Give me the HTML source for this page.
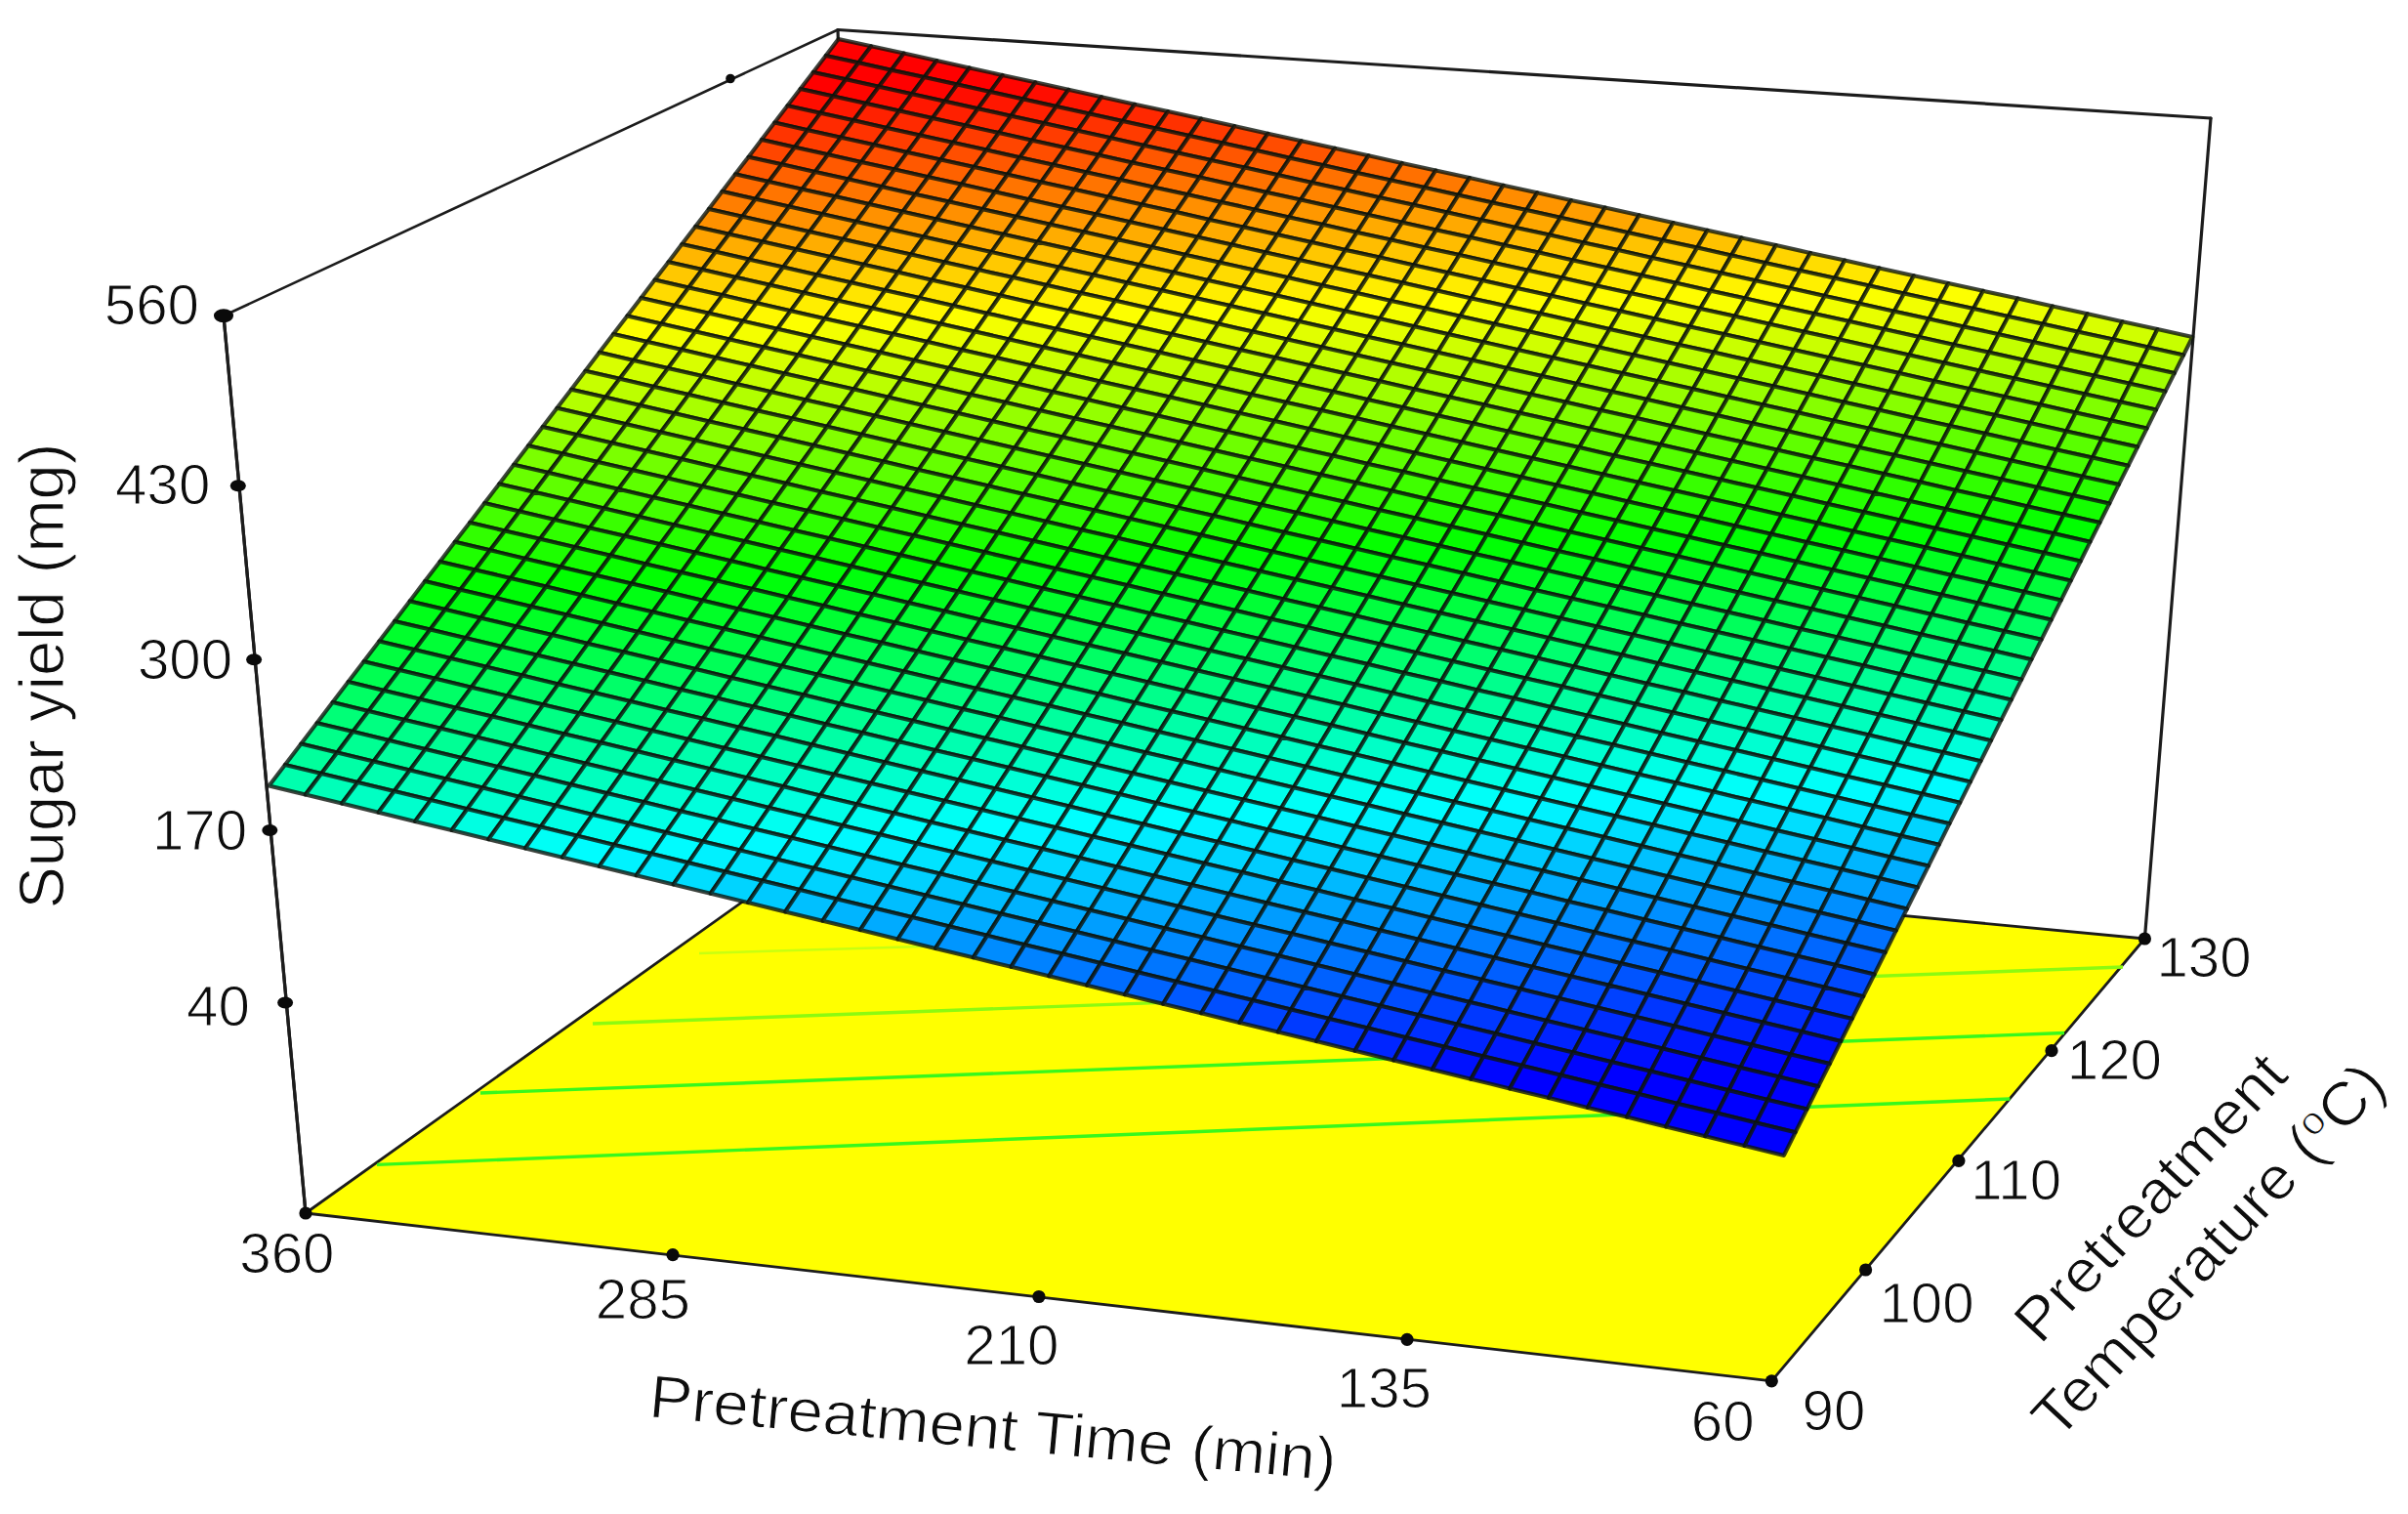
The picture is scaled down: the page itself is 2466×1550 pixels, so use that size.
<!DOCTYPE html>
<html lang="en"><head><meta charset="utf-8"><title>Response surface: Sugar yield</title>
<style>html,body{margin:0;padding:0;background:#fff}body{width:2466px;height:1550px;overflow:hidden}svg{display:block}text{font-family:"Liberation Sans",Arial,Helvetica,sans-serif;fill:#0d0d0d;stroke:#fff;stroke-width:1.1px}</style></head><body>
<svg width="2466" height="1550" viewBox="0 0 2466 1550">
<rect width="2466" height="1550" fill="#fff"/>
<polygon points="313.0,1242.0 1814.3,1413.8 2196.4,961.0 883.2,835.7" fill="#ffff00" stroke="#1c1c1c" stroke-width="2.8" stroke-linejoin="round"/>
<g stroke="#38f81c" stroke-width="3.4" fill="none">
<line x1="386.0" y1="1192.4" x2="2058.4" y2="1125.0"/>
<line x1="492.0" y1="1119.0" x2="2114.0" y2="1057.5"/>
<line x1="607.0" y1="1048.0" x2="2174.0" y2="990.0" stroke="#8cfa10"/>
</g>
<line x1="716" y1="976" x2="1400" y2="955" stroke="#c8ff10" stroke-width="2.5"/>
<g stroke="#1c1c1c" stroke-width="3.2" fill="none" stroke-linecap="round">
<line x1="229.0" y1="323.3" x2="313.0" y2="1242.0"/>
<line x1="229.0" y1="323.3" x2="858.0" y2="30.5" stroke-width="2.6"/>
<line x1="858.0" y1="30.5" x2="2264.0" y2="121.0"/>
<line x1="2264.0" y1="121.0" x2="2196.4" y2="961.0"/>
<line x1="858.0" y1="30.5" x2="883.2" y2="835.7"/>
</g>
<g stroke="#0c140c" stroke-opacity="0.8" stroke-width="4.1" stroke-linejoin="round">
<path fill="#ff0000" d="M845.7 56.9L879.2 64.3L892.1 47.3L858.6 39.9Z"/>
<path fill="#ff0000" d="M879.2 64.3L912.8 71.7L925.6 54.6L892.1 47.3Z"/>
<path fill="#ff0000" d="M912.8 71.7L946.5 79.1L959.2 62.0L925.6 54.6Z"/>
<path fill="#ff0000" d="M946.5 79.1L980.3 86.5L992.8 69.4L959.2 62.0Z"/>
<path fill="#ff0000" d="M980.3 86.5L1014.1 94.0L1026.6 76.9L992.8 69.4Z"/>
<path fill="#ff0400" d="M1014.1 94.0L1047.9 101.5L1060.3 84.3L1026.6 76.9Z"/>
<path fill="#ff0d00" d="M1047.9 101.5L1081.8 108.9L1094.2 91.7L1060.3 84.3Z"/>
<path fill="#ff1600" d="M1081.8 108.9L1115.8 116.4L1128.0 99.2L1094.2 91.7Z"/>
<path fill="#ff1f00" d="M1115.8 116.4L1149.8 123.9L1162.0 106.7L1128.0 99.2Z"/>
<path fill="#ff2800" d="M1149.8 123.9L1183.9 131.5L1196.0 114.1L1162.0 106.7Z"/>
<path fill="#ff3100" d="M1183.9 131.5L1218.1 139.0L1230.1 121.6L1196.0 114.1Z"/>
<path fill="#ff3a00" d="M1218.1 139.0L1252.3 146.5L1264.2 129.1L1230.1 121.6Z"/>
<path fill="#ff4300" d="M1252.3 146.5L1286.6 154.1L1298.4 136.7L1264.2 129.1Z"/>
<path fill="#ff4c00" d="M1286.6 154.1L1321.0 161.7L1332.7 144.2L1298.4 136.7Z"/>
<path fill="#ff5500" d="M1321.0 161.7L1355.4 169.3L1367.0 151.8L1332.7 144.2Z"/>
<path fill="#ff5e00" d="M1355.4 169.3L1389.8 176.9L1401.4 159.3L1367.0 151.8Z"/>
<path fill="#ff6700" d="M1389.8 176.9L1424.4 184.5L1435.8 166.9L1401.4 159.3Z"/>
<path fill="#ff7000" d="M1424.4 184.5L1459.0 192.1L1470.3 174.5L1435.8 166.9Z"/>
<path fill="#ff7900" d="M1459.0 192.1L1493.6 199.7L1504.9 182.1L1470.3 174.5Z"/>
<path fill="#ff8200" d="M1493.6 199.7L1528.3 207.4L1539.5 189.7L1504.9 182.1Z"/>
<path fill="#ff8c00" d="M1528.3 207.4L1563.1 215.1L1574.2 197.3L1539.5 189.7Z"/>
<path fill="#ff9500" d="M1563.1 215.1L1598.0 222.8L1608.9 205.0L1574.2 197.3Z"/>
<path fill="#ff9e00" d="M1598.0 222.8L1632.9 230.5L1643.7 212.6L1608.9 205.0Z"/>
<path fill="#ffa700" d="M1632.9 230.5L1667.8 238.2L1678.6 220.3L1643.7 212.6Z"/>
<path fill="#ffb000" d="M1667.8 238.2L1702.9 245.9L1713.5 228.0L1678.6 220.3Z"/>
<path fill="#ffb900" d="M1702.9 245.9L1738.0 253.6L1748.5 235.7L1713.5 228.0Z"/>
<path fill="#ffc200" d="M1738.0 253.6L1773.1 261.4L1783.6 243.4L1748.5 235.7Z"/>
<path fill="#ffcb00" d="M1773.1 261.4L1808.3 269.2L1818.7 251.1L1783.6 243.4Z"/>
<path fill="#ffd400" d="M1808.3 269.2L1843.6 276.9L1853.9 258.9L1818.7 251.1Z"/>
<path fill="#ffdd00" d="M1843.6 276.9L1879.0 284.7L1889.2 266.6L1853.9 258.9Z"/>
<path fill="#ffe600" d="M1879.0 284.7L1914.4 292.5L1924.5 274.4L1889.2 266.6Z"/>
<path fill="#ffef00" d="M1914.4 292.5L1949.9 300.4L1959.9 282.2L1924.5 274.4Z"/>
<path fill="#fff800" d="M1949.9 300.4L1985.4 308.2L1995.3 290.0L1959.9 282.2Z"/>
<path fill="#fdff00" d="M1985.4 308.2L2021.0 316.1L2030.9 297.8L1995.3 290.0Z"/>
<path fill="#f4ff00" d="M2021.0 316.1L2056.7 323.9L2066.4 305.6L2030.9 297.8Z"/>
<path fill="#ebff00" d="M2056.7 323.9L2092.4 331.8L2102.1 313.5L2066.4 305.6Z"/>
<path fill="#e2ff00" d="M2092.4 331.8L2128.3 339.7L2137.8 321.3L2102.1 313.5Z"/>
<path fill="#d9ff00" d="M2128.3 339.7L2164.1 347.6L2173.6 329.2L2137.8 321.3Z"/>
<path fill="#d0ff00" d="M2164.1 347.6L2200.1 355.6L2209.4 337.1L2173.6 329.2Z"/>
<path fill="#c7ff00" d="M2200.1 355.6L2236.1 363.5L2245.3 345.0L2209.4 337.1Z"/>
<path fill="#ff0000" d="M832.7 73.9L866.3 81.3L879.2 64.3L845.7 56.9Z"/>
<path fill="#ff0000" d="M866.3 81.3L900.0 88.8L912.8 71.7L879.2 64.3Z"/>
<path fill="#ff0000" d="M900.0 88.8L933.8 96.3L946.5 79.1L912.8 71.7Z"/>
<path fill="#ff0400" d="M933.8 96.3L967.6 103.7L980.3 86.5L946.5 79.1Z"/>
<path fill="#ff0d00" d="M967.6 103.7L1001.5 111.2L1014.1 94.0L980.3 86.5Z"/>
<path fill="#ff1700" d="M1001.5 111.2L1035.4 118.7L1047.9 101.5L1014.1 94.0Z"/>
<path fill="#ff2000" d="M1035.4 118.7L1069.4 126.2L1081.8 108.9L1047.9 101.5Z"/>
<path fill="#ff2900" d="M1069.4 126.2L1103.5 133.8L1115.8 116.4L1081.8 108.9Z"/>
<path fill="#ff3200" d="M1103.5 133.8L1137.6 141.3L1149.8 123.9L1115.8 116.4Z"/>
<path fill="#ff3b00" d="M1137.6 141.3L1171.8 148.9L1183.9 131.5L1149.8 123.9Z"/>
<path fill="#ff4400" d="M1171.8 148.9L1206.1 156.4L1218.1 139.0L1183.9 131.5Z"/>
<path fill="#ff4d00" d="M1206.1 156.4L1240.4 164.0L1252.3 146.5L1218.1 139.0Z"/>
<path fill="#ff5600" d="M1240.4 164.0L1274.8 171.6L1286.6 154.1L1252.3 146.5Z"/>
<path fill="#ff5f00" d="M1274.8 171.6L1309.2 179.2L1321.0 161.7L1286.6 154.1Z"/>
<path fill="#ff6800" d="M1309.2 179.2L1343.7 186.9L1355.4 169.3L1321.0 161.7Z"/>
<path fill="#ff7100" d="M1343.7 186.9L1378.2 194.5L1389.8 176.9L1355.4 169.3Z"/>
<path fill="#ff7a00" d="M1378.2 194.5L1412.9 202.2L1424.4 184.5L1389.8 176.9Z"/>
<path fill="#ff8400" d="M1412.9 202.2L1447.6 209.8L1459.0 192.1L1424.4 184.5Z"/>
<path fill="#ff8d00" d="M1447.6 209.8L1482.3 217.5L1493.6 199.7L1459.0 192.1Z"/>
<path fill="#ff9600" d="M1482.3 217.5L1517.1 225.2L1528.3 207.4L1493.6 199.7Z"/>
<path fill="#ff9f00" d="M1517.1 225.2L1552.0 232.9L1563.1 215.1L1528.3 207.4Z"/>
<path fill="#ffa800" d="M1552.0 232.9L1586.9 240.6L1598.0 222.8L1563.1 215.1Z"/>
<path fill="#ffb100" d="M1586.9 240.6L1621.9 248.4L1632.9 230.5L1598.0 222.8Z"/>
<path fill="#ffba00" d="M1621.9 248.4L1657.0 256.1L1667.8 238.2L1632.9 230.5Z"/>
<path fill="#ffc300" d="M1657.0 256.1L1692.1 263.9L1702.9 245.9L1667.8 238.2Z"/>
<path fill="#ffcc00" d="M1692.1 263.9L1727.3 271.7L1738.0 253.6L1702.9 245.9Z"/>
<path fill="#ffd500" d="M1727.3 271.7L1762.6 279.5L1773.1 261.4L1738.0 253.6Z"/>
<path fill="#ffde00" d="M1762.6 279.5L1797.9 287.3L1808.3 269.2L1773.1 261.4Z"/>
<path fill="#ffe700" d="M1797.9 287.3L1833.3 295.1L1843.6 276.9L1808.3 269.2Z"/>
<path fill="#fff000" d="M1833.3 295.1L1868.7 302.9L1879.0 284.7L1843.6 276.9Z"/>
<path fill="#fffa00" d="M1868.7 302.9L1904.2 310.8L1914.4 292.5L1879.0 284.7Z"/>
<path fill="#fbff00" d="M1904.2 310.8L1939.8 318.7L1949.9 300.4L1914.4 292.5Z"/>
<path fill="#f2ff00" d="M1939.8 318.7L1975.4 326.5L1985.4 308.2L1949.9 300.4Z"/>
<path fill="#e9ff00" d="M1975.4 326.5L2011.1 334.4L2021.0 316.1L1985.4 308.2Z"/>
<path fill="#e0ff00" d="M2011.1 334.4L2046.9 342.3L2056.7 323.9L2021.0 316.1Z"/>
<path fill="#d7ff00" d="M2046.9 342.3L2082.8 350.3L2092.4 331.8L2056.7 323.9Z"/>
<path fill="#ceff00" d="M2082.8 350.3L2118.7 358.2L2128.3 339.7L2092.4 331.8Z"/>
<path fill="#c5ff00" d="M2118.7 358.2L2154.6 366.1L2164.1 347.6L2128.3 339.7Z"/>
<path fill="#bcff00" d="M2154.6 366.1L2190.7 374.1L2200.1 355.6L2164.1 347.6Z"/>
<path fill="#b3ff00" d="M2190.7 374.1L2226.8 382.1L2236.1 363.5L2200.1 355.6Z"/>
<path fill="#ff0000" d="M819.6 91.0L853.3 98.5L866.3 81.3L832.7 73.9Z"/>
<path fill="#ff0500" d="M853.3 98.5L887.1 106.0L900.0 88.8L866.3 81.3Z"/>
<path fill="#ff0e00" d="M887.1 106.0L921.0 113.5L933.8 96.3L900.0 88.8Z"/>
<path fill="#ff1700" d="M921.0 113.5L954.9 121.0L967.6 103.7L933.8 96.3Z"/>
<path fill="#ff2000" d="M954.9 121.0L988.8 128.6L1001.5 111.2L967.6 103.7Z"/>
<path fill="#ff2900" d="M988.8 128.6L1022.9 136.1L1035.4 118.7L1001.5 111.2Z"/>
<path fill="#ff3200" d="M1022.9 136.1L1057.0 143.7L1069.4 126.2L1035.4 118.7Z"/>
<path fill="#ff3c00" d="M1057.0 143.7L1091.1 151.2L1103.5 133.8L1069.4 126.2Z"/>
<path fill="#ff4500" d="M1091.1 151.2L1125.3 158.8L1137.6 141.3L1103.5 133.8Z"/>
<path fill="#ff4e00" d="M1125.3 158.8L1159.6 166.4L1171.8 148.9L1137.6 141.3Z"/>
<path fill="#ff5700" d="M1159.6 166.4L1194.0 174.0L1206.1 156.4L1171.8 148.9Z"/>
<path fill="#ff6000" d="M1194.0 174.0L1228.4 181.6L1240.4 164.0L1206.1 156.4Z"/>
<path fill="#ff6900" d="M1228.4 181.6L1262.8 189.3L1274.8 171.6L1240.4 164.0Z"/>
<path fill="#ff7200" d="M1262.8 189.3L1297.4 196.9L1309.2 179.2L1274.8 171.6Z"/>
<path fill="#ff7b00" d="M1297.4 196.9L1331.9 204.6L1343.7 186.9L1309.2 179.2Z"/>
<path fill="#ff8400" d="M1331.9 204.6L1366.6 212.3L1378.2 194.5L1343.7 186.9Z"/>
<path fill="#ff8e00" d="M1366.6 212.3L1401.3 220.0L1412.9 202.2L1378.2 194.5Z"/>
<path fill="#ff9700" d="M1401.3 220.0L1436.1 227.7L1447.6 209.8L1412.9 202.2Z"/>
<path fill="#ffa000" d="M1436.1 227.7L1470.9 235.4L1482.3 217.5L1447.6 209.8Z"/>
<path fill="#ffa900" d="M1470.9 235.4L1505.8 243.1L1517.1 225.2L1482.3 217.5Z"/>
<path fill="#ffb200" d="M1505.8 243.1L1540.8 250.9L1552.0 232.9L1517.1 225.2Z"/>
<path fill="#ffbb00" d="M1540.8 250.9L1575.8 258.6L1586.9 240.6L1552.0 232.9Z"/>
<path fill="#ffc400" d="M1575.8 258.6L1610.9 266.4L1621.9 248.4L1586.9 240.6Z"/>
<path fill="#ffcd00" d="M1610.9 266.4L1646.1 274.2L1657.0 256.1L1621.9 248.4Z"/>
<path fill="#ffd600" d="M1646.1 274.2L1681.3 282.0L1692.1 263.9L1657.0 256.1Z"/>
<path fill="#ffe000" d="M1681.3 282.0L1716.6 289.8L1727.3 271.7L1692.1 263.9Z"/>
<path fill="#ffe900" d="M1716.6 289.8L1751.9 297.7L1762.6 279.5L1727.3 271.7Z"/>
<path fill="#fff200" d="M1751.9 297.7L1787.3 305.5L1797.9 287.3L1762.6 279.5Z"/>
<path fill="#fffb00" d="M1787.3 305.5L1822.8 313.4L1833.3 295.1L1797.9 287.3Z"/>
<path fill="#faff00" d="M1822.8 313.4L1858.4 321.2L1868.7 302.9L1833.3 295.1Z"/>
<path fill="#f1ff00" d="M1858.4 321.2L1894.0 329.1L1904.2 310.8L1868.7 302.9Z"/>
<path fill="#e8ff00" d="M1894.0 329.1L1929.7 337.0L1939.8 318.7L1904.2 310.8Z"/>
<path fill="#dfff00" d="M1929.7 337.0L1965.4 345.0L1975.4 326.5L1939.8 318.7Z"/>
<path fill="#d6ff00" d="M1965.4 345.0L2001.2 352.9L2011.1 334.4L1975.4 326.5Z"/>
<path fill="#ccff00" d="M2001.2 352.9L2037.1 360.8L2046.9 342.3L2011.1 334.4Z"/>
<path fill="#c3ff00" d="M2037.1 360.8L2073.0 368.8L2082.8 350.3L2046.9 342.3Z"/>
<path fill="#baff00" d="M2073.0 368.8L2109.0 376.8L2118.7 358.2L2082.8 350.3Z"/>
<path fill="#b1ff00" d="M2109.0 376.8L2145.1 384.8L2154.6 366.1L2118.7 358.2Z"/>
<path fill="#a8ff00" d="M2145.1 384.8L2181.2 392.8L2190.7 374.1L2154.6 366.1Z"/>
<path fill="#9fff00" d="M2181.2 392.8L2217.4 400.8L2226.8 382.1L2190.7 374.1Z"/>
<path fill="#ff0e00" d="M806.4 108.3L840.2 115.8L853.3 98.5L819.6 91.0Z"/>
<path fill="#ff1800" d="M840.2 115.8L874.1 123.3L887.1 106.0L853.3 98.5Z"/>
<path fill="#ff2100" d="M874.1 123.3L908.1 130.9L921.0 113.5L887.1 106.0Z"/>
<path fill="#ff2a00" d="M908.1 130.9L942.1 138.4L954.9 121.0L921.0 113.5Z"/>
<path fill="#ff3300" d="M942.1 138.4L976.1 146.0L988.8 128.6L954.9 121.0Z"/>
<path fill="#ff3c00" d="M976.1 146.0L1010.2 153.6L1022.9 136.1L988.8 128.6Z"/>
<path fill="#ff4500" d="M1010.2 153.6L1044.4 161.2L1057.0 143.7L1022.9 136.1Z"/>
<path fill="#ff4e00" d="M1044.4 161.2L1078.7 168.8L1091.1 151.2L1057.0 143.7Z"/>
<path fill="#ff5800" d="M1078.7 168.8L1113.0 176.4L1125.3 158.8L1091.1 151.2Z"/>
<path fill="#ff6100" d="M1113.0 176.4L1147.4 184.0L1159.6 166.4L1125.3 158.8Z"/>
<path fill="#ff6a00" d="M1147.4 184.0L1181.8 191.7L1194.0 174.0L1159.6 166.4Z"/>
<path fill="#ff7300" d="M1181.8 191.7L1216.3 199.3L1228.4 181.6L1194.0 174.0Z"/>
<path fill="#ff7c00" d="M1216.3 199.3L1250.8 207.0L1262.8 189.3L1228.4 181.6Z"/>
<path fill="#ff8500" d="M1250.8 207.0L1285.4 214.7L1297.4 196.9L1262.8 189.3Z"/>
<path fill="#ff8e00" d="M1285.4 214.7L1320.1 222.4L1331.9 204.6L1297.4 196.9Z"/>
<path fill="#ff9800" d="M1320.1 222.4L1354.9 230.1L1366.6 212.3L1331.9 204.6Z"/>
<path fill="#ffa100" d="M1354.9 230.1L1389.7 237.9L1401.3 220.0L1366.6 212.3Z"/>
<path fill="#ffaa00" d="M1389.7 237.9L1424.5 245.6L1436.1 227.7L1401.3 220.0Z"/>
<path fill="#ffb300" d="M1424.5 245.6L1459.5 253.4L1470.9 235.4L1436.1 227.7Z"/>
<path fill="#ffbc00" d="M1459.5 253.4L1494.5 261.1L1505.8 243.1L1470.9 235.4Z"/>
<path fill="#ffc500" d="M1494.5 261.1L1529.5 268.9L1540.8 250.9L1505.8 243.1Z"/>
<path fill="#ffce00" d="M1529.5 268.9L1564.7 276.7L1575.8 258.6L1540.8 250.9Z"/>
<path fill="#ffd800" d="M1564.7 276.7L1599.8 284.5L1610.9 266.4L1575.8 258.6Z"/>
<path fill="#ffe100" d="M1599.8 284.5L1635.1 292.4L1646.1 274.2L1610.9 266.4Z"/>
<path fill="#ffea00" d="M1635.1 292.4L1670.4 300.2L1681.3 282.0L1646.1 274.2Z"/>
<path fill="#fff300" d="M1670.4 300.2L1705.8 308.1L1716.6 289.8L1681.3 282.0Z"/>
<path fill="#fffc00" d="M1705.8 308.1L1741.2 315.9L1751.9 297.7L1716.6 289.8Z"/>
<path fill="#f9ff00" d="M1741.2 315.9L1776.8 323.8L1787.3 305.5L1751.9 297.7Z"/>
<path fill="#f0ff00" d="M1776.8 323.8L1812.3 331.7L1822.8 313.4L1787.3 305.5Z"/>
<path fill="#e6ff00" d="M1812.3 331.7L1848.0 339.7L1858.4 321.2L1822.8 313.4Z"/>
<path fill="#ddff00" d="M1848.0 339.7L1883.7 347.6L1894.0 329.1L1858.4 321.2Z"/>
<path fill="#d4ff00" d="M1883.7 347.6L1919.5 355.5L1929.7 337.0L1894.0 329.1Z"/>
<path fill="#cbff00" d="M1919.5 355.5L1955.3 363.5L1965.4 345.0L1929.7 337.0Z"/>
<path fill="#c2ff00" d="M1955.3 363.5L1991.2 371.5L2001.2 352.9L1965.4 345.0Z"/>
<path fill="#b9ff00" d="M1991.2 371.5L2027.2 379.5L2037.1 360.8L2001.2 352.9Z"/>
<path fill="#b0ff00" d="M2027.2 379.5L2063.2 387.5L2073.0 368.8L2037.1 360.8Z"/>
<path fill="#a6ff00" d="M2063.2 387.5L2099.3 395.5L2109.0 376.8L2073.0 368.8Z"/>
<path fill="#9dff00" d="M2099.3 395.5L2135.5 403.5L2145.1 384.8L2109.0 376.8Z"/>
<path fill="#94ff00" d="M2135.5 403.5L2171.7 411.6L2181.2 392.8L2145.1 384.8Z"/>
<path fill="#8bff00" d="M2171.7 411.6L2208.0 419.6L2217.4 400.8L2181.2 392.8Z"/>
<path fill="#ff2100" d="M793.2 125.6L827.1 133.2L840.2 115.8L806.4 108.3Z"/>
<path fill="#ff2a00" d="M827.1 133.2L861.1 140.8L874.1 123.3L840.2 115.8Z"/>
<path fill="#ff3300" d="M861.1 140.8L895.1 148.3L908.1 130.9L874.1 123.3Z"/>
<path fill="#ff3d00" d="M895.1 148.3L929.2 155.9L942.1 138.4L908.1 130.9Z"/>
<path fill="#ff4600" d="M929.2 155.9L963.3 163.5L976.1 146.0L942.1 138.4Z"/>
<path fill="#ff4f00" d="M963.3 163.5L997.5 171.1L1010.2 153.6L976.1 146.0Z"/>
<path fill="#ff5800" d="M997.5 171.1L1031.8 178.8L1044.4 161.2L1010.2 153.6Z"/>
<path fill="#ff6100" d="M1031.8 178.8L1066.2 186.4L1078.7 168.8L1044.4 161.2Z"/>
<path fill="#ff6a00" d="M1066.2 186.4L1100.5 194.1L1113.0 176.4L1078.7 168.8Z"/>
<path fill="#ff7400" d="M1100.5 194.1L1135.0 201.8L1147.4 184.0L1113.0 176.4Z"/>
<path fill="#ff7d00" d="M1135.0 201.8L1169.5 209.4L1181.8 191.7L1147.4 184.0Z"/>
<path fill="#ff8600" d="M1169.5 209.4L1204.1 217.1L1216.3 199.3L1181.8 191.7Z"/>
<path fill="#ff8f00" d="M1204.1 217.1L1238.8 224.9L1250.8 207.0L1216.3 199.3Z"/>
<path fill="#ff9800" d="M1238.8 224.9L1273.5 232.6L1285.4 214.7L1250.8 207.0Z"/>
<path fill="#ffa100" d="M1273.5 232.6L1308.2 240.3L1320.1 222.4L1285.4 214.7Z"/>
<path fill="#ffab00" d="M1308.2 240.3L1343.1 248.1L1354.9 230.1L1320.1 222.4Z"/>
<path fill="#ffb400" d="M1343.1 248.1L1378.0 255.9L1389.7 237.9L1354.9 230.1Z"/>
<path fill="#ffbd00" d="M1378.0 255.9L1412.9 263.6L1424.5 245.6L1389.7 237.9Z"/>
<path fill="#ffc600" d="M1412.9 263.6L1448.0 271.4L1459.5 253.4L1424.5 245.6Z"/>
<path fill="#ffcf00" d="M1448.0 271.4L1483.1 279.3L1494.5 261.1L1459.5 253.4Z"/>
<path fill="#ffd900" d="M1483.1 279.3L1518.2 287.1L1529.5 268.9L1494.5 261.1Z"/>
<path fill="#ffe200" d="M1518.2 287.1L1553.4 294.9L1564.7 276.7L1529.5 268.9Z"/>
<path fill="#ffeb00" d="M1553.4 294.9L1588.7 302.8L1599.8 284.5L1564.7 276.7Z"/>
<path fill="#fff400" d="M1588.7 302.8L1624.1 310.7L1635.1 292.4L1599.8 284.5Z"/>
<path fill="#fffd00" d="M1624.1 310.7L1659.5 318.5L1670.4 300.2L1635.1 292.4Z"/>
<path fill="#f8ff00" d="M1659.5 318.5L1695.0 326.4L1705.8 308.1L1670.4 300.2Z"/>
<path fill="#eeff00" d="M1695.0 326.4L1730.5 334.4L1741.2 315.9L1705.8 308.1Z"/>
<path fill="#e5ff00" d="M1730.5 334.4L1766.1 342.3L1776.8 323.8L1741.2 315.9Z"/>
<path fill="#dcff00" d="M1766.1 342.3L1801.8 350.2L1812.3 331.7L1776.8 323.8Z"/>
<path fill="#d3ff00" d="M1801.8 350.2L1837.5 358.2L1848.0 339.7L1812.3 331.7Z"/>
<path fill="#caff00" d="M1837.5 358.2L1873.3 366.2L1883.7 347.6L1848.0 339.7Z"/>
<path fill="#c1ff00" d="M1873.3 366.2L1909.2 374.1L1919.5 355.5L1883.7 347.6Z"/>
<path fill="#b7ff00" d="M1909.2 374.1L1945.1 382.1L1955.3 363.5L1919.5 355.5Z"/>
<path fill="#aeff00" d="M1945.1 382.1L1981.1 390.2L1991.2 371.5L1955.3 363.5Z"/>
<path fill="#a5ff00" d="M1981.1 390.2L2017.2 398.2L2027.2 379.5L1991.2 371.5Z"/>
<path fill="#9cff00" d="M2017.2 398.2L2053.3 406.2L2063.2 387.5L2027.2 379.5Z"/>
<path fill="#93ff00" d="M2053.3 406.2L2089.6 414.3L2099.3 395.5L2063.2 387.5Z"/>
<path fill="#8aff00" d="M2089.6 414.3L2125.8 422.4L2135.5 403.5L2099.3 395.5Z"/>
<path fill="#80ff00" d="M2125.8 422.4L2162.2 430.5L2171.7 411.6L2135.5 403.5Z"/>
<path fill="#77ff00" d="M2162.2 430.5L2198.6 438.6L2208.0 419.6L2171.7 411.6Z"/>
<path fill="#ff3400" d="M779.9 143.1L813.9 150.7L827.1 133.2L793.2 125.6Z"/>
<path fill="#ff3d00" d="M813.9 150.7L847.9 158.3L861.1 140.8L827.1 133.2Z"/>
<path fill="#ff4600" d="M847.9 158.3L882.1 165.9L895.1 148.3L861.1 140.8Z"/>
<path fill="#ff4f00" d="M882.1 165.9L916.2 173.5L929.2 155.9L895.1 148.3Z"/>
<path fill="#ff5800" d="M916.2 173.5L950.5 181.2L963.3 163.5L929.2 155.9Z"/>
<path fill="#ff6200" d="M950.5 181.2L984.8 188.8L997.5 171.1L963.3 163.5Z"/>
<path fill="#ff6b00" d="M984.8 188.8L1019.1 196.5L1031.8 178.8L997.5 171.1Z"/>
<path fill="#ff7400" d="M1019.1 196.5L1053.6 204.2L1066.2 186.4L1031.8 178.8Z"/>
<path fill="#ff7d00" d="M1053.6 204.2L1088.0 211.9L1100.5 194.1L1066.2 186.4Z"/>
<path fill="#ff8600" d="M1088.0 211.9L1122.6 219.6L1135.0 201.8L1100.5 194.1Z"/>
<path fill="#ff9000" d="M1122.6 219.6L1157.2 227.3L1169.5 209.4L1135.0 201.8Z"/>
<path fill="#ff9900" d="M1157.2 227.3L1191.9 235.1L1204.1 217.1L1169.5 209.4Z"/>
<path fill="#ffa200" d="M1191.9 235.1L1226.6 242.8L1238.8 224.9L1204.1 217.1Z"/>
<path fill="#ffab00" d="M1226.6 242.8L1261.4 250.6L1273.5 232.6L1238.8 224.9Z"/>
<path fill="#ffb500" d="M1261.4 250.6L1296.3 258.4L1308.2 240.3L1273.5 232.6Z"/>
<path fill="#ffbe00" d="M1296.3 258.4L1331.2 266.2L1343.1 248.1L1308.2 240.3Z"/>
<path fill="#ffc700" d="M1331.2 266.2L1366.2 274.0L1378.0 255.9L1343.1 248.1Z"/>
<path fill="#ffd000" d="M1366.2 274.0L1401.3 281.8L1412.9 263.6L1378.0 255.9Z"/>
<path fill="#ffd900" d="M1401.3 281.8L1436.4 289.6L1448.0 271.4L1412.9 263.6Z"/>
<path fill="#ffe300" d="M1436.4 289.6L1471.6 297.5L1483.1 279.3L1448.0 271.4Z"/>
<path fill="#ffec00" d="M1471.6 297.5L1506.8 305.4L1518.2 287.1L1483.1 279.3Z"/>
<path fill="#fff500" d="M1506.8 305.4L1542.1 313.2L1553.4 294.9L1518.2 287.1Z"/>
<path fill="#fffe00" d="M1542.1 313.2L1577.5 321.1L1588.7 302.8L1553.4 294.9Z"/>
<path fill="#f7ff00" d="M1577.5 321.1L1613.0 329.0L1624.1 310.7L1588.7 302.8Z"/>
<path fill="#edff00" d="M1613.0 329.0L1648.5 337.0L1659.5 318.5L1624.1 310.7Z"/>
<path fill="#e4ff00" d="M1648.5 337.0L1684.0 344.9L1695.0 326.4L1659.5 318.5Z"/>
<path fill="#dbff00" d="M1684.0 344.9L1719.7 352.9L1730.5 334.4L1695.0 326.4Z"/>
<path fill="#d2ff00" d="M1719.7 352.9L1755.4 360.8L1766.1 342.3L1730.5 334.4Z"/>
<path fill="#c9ff00" d="M1755.4 360.8L1791.2 368.8L1801.8 350.2L1766.1 342.3Z"/>
<path fill="#bfff00" d="M1791.2 368.8L1827.0 376.8L1837.5 358.2L1801.8 350.2Z"/>
<path fill="#b6ff00" d="M1827.0 376.8L1862.9 384.8L1873.3 366.2L1837.5 358.2Z"/>
<path fill="#adff00" d="M1862.9 384.8L1898.9 392.9L1909.2 374.1L1873.3 366.2Z"/>
<path fill="#a4ff00" d="M1898.9 392.9L1934.9 400.9L1945.1 382.1L1909.2 374.1Z"/>
<path fill="#9bff00" d="M1934.9 400.9L1971.0 409.0L1981.1 390.2L1945.1 382.1Z"/>
<path fill="#91ff00" d="M1971.0 409.0L2007.2 417.0L2017.2 398.2L1981.1 390.2Z"/>
<path fill="#88ff00" d="M2007.2 417.0L2043.4 425.1L2053.3 406.2L2017.2 398.2Z"/>
<path fill="#7fff00" d="M2043.4 425.1L2079.7 433.2L2089.6 414.3L2053.3 406.2Z"/>
<path fill="#76ff00" d="M2079.7 433.2L2116.1 441.4L2125.8 422.4L2089.6 414.3Z"/>
<path fill="#6dff00" d="M2116.1 441.4L2152.5 449.5L2162.2 430.5L2125.8 422.4Z"/>
<path fill="#63ff00" d="M2152.5 449.5L2189.1 457.6L2198.6 438.6L2162.2 430.5Z"/>
<path fill="#ff4600" d="M766.5 160.7L800.6 168.3L813.9 150.7L779.9 143.1Z"/>
<path fill="#ff4f00" d="M800.6 168.3L834.7 175.9L847.9 158.3L813.9 150.7Z"/>
<path fill="#ff5900" d="M834.7 175.9L868.9 183.6L882.1 165.9L847.9 158.3Z"/>
<path fill="#ff6200" d="M868.9 183.6L903.2 191.2L916.2 173.5L882.1 165.9Z"/>
<path fill="#ff6b00" d="M903.2 191.2L937.5 198.9L950.5 181.2L916.2 173.5Z"/>
<path fill="#ff7400" d="M937.5 198.9L971.9 206.6L984.8 188.8L950.5 181.2Z"/>
<path fill="#ff7e00" d="M971.9 206.6L1006.4 214.3L1019.1 196.5L984.8 188.8Z"/>
<path fill="#ff8700" d="M1006.4 214.3L1040.9 222.0L1053.6 204.2L1019.1 196.5Z"/>
<path fill="#ff9000" d="M1040.9 222.0L1075.5 229.8L1088.0 211.9L1053.6 204.2Z"/>
<path fill="#ff9900" d="M1075.5 229.8L1110.1 237.5L1122.6 219.6L1088.0 211.9Z"/>
<path fill="#ffa300" d="M1110.1 237.5L1144.8 245.3L1157.2 227.3L1122.6 219.6Z"/>
<path fill="#ffac00" d="M1144.8 245.3L1179.6 253.1L1191.9 235.1L1157.2 227.3Z"/>
<path fill="#ffb500" d="M1179.6 253.1L1214.4 260.9L1226.6 242.8L1191.9 235.1Z"/>
<path fill="#ffbe00" d="M1214.4 260.9L1249.3 268.7L1261.4 250.6L1226.6 242.8Z"/>
<path fill="#ffc800" d="M1249.3 268.7L1284.3 276.5L1296.3 258.4L1261.4 250.6Z"/>
<path fill="#ffd100" d="M1284.3 276.5L1319.3 284.3L1331.2 266.2L1296.3 258.4Z"/>
<path fill="#ffda00" d="M1319.3 284.3L1354.4 292.2L1366.2 274.0L1331.2 266.2Z"/>
<path fill="#ffe300" d="M1354.4 292.2L1389.5 300.1L1401.3 281.8L1366.2 274.0Z"/>
<path fill="#ffed00" d="M1389.5 300.1L1424.7 307.9L1436.4 289.6L1401.3 281.8Z"/>
<path fill="#fff600" d="M1424.7 307.9L1460.0 315.8L1471.6 297.5L1436.4 289.6Z"/>
<path fill="#ffff00" d="M1460.0 315.8L1495.4 323.7L1506.8 305.4L1471.6 297.5Z"/>
<path fill="#f6ff00" d="M1495.4 323.7L1530.8 331.7L1542.1 313.2L1506.8 305.4Z"/>
<path fill="#edff00" d="M1530.8 331.7L1566.2 339.6L1577.5 321.1L1542.1 313.2Z"/>
<path fill="#e3ff00" d="M1566.2 339.6L1601.8 347.6L1613.0 329.0L1577.5 321.1Z"/>
<path fill="#daff00" d="M1601.8 347.6L1637.4 355.5L1648.5 337.0L1613.0 329.0Z"/>
<path fill="#d1ff00" d="M1637.4 355.5L1673.1 363.5L1684.0 344.9L1648.5 337.0Z"/>
<path fill="#c8ff00" d="M1673.1 363.5L1708.8 371.5L1719.7 352.9L1684.0 344.9Z"/>
<path fill="#beff00" d="M1708.8 371.5L1744.6 379.5L1755.4 360.8L1719.7 352.9Z"/>
<path fill="#b5ff00" d="M1744.6 379.5L1780.5 387.5L1791.2 368.8L1755.4 360.8Z"/>
<path fill="#acff00" d="M1780.5 387.5L1816.4 395.6L1827.0 376.8L1791.2 368.8Z"/>
<path fill="#a3ff00" d="M1816.4 395.6L1852.4 403.6L1862.9 384.8L1827.0 376.8Z"/>
<path fill="#99ff00" d="M1852.4 403.6L1888.5 411.7L1898.9 392.9L1862.9 384.8Z"/>
<path fill="#90ff00" d="M1888.5 411.7L1924.6 419.8L1934.9 400.9L1898.9 392.9Z"/>
<path fill="#87ff00" d="M1924.6 419.8L1960.8 427.9L1971.0 409.0L1934.9 400.9Z"/>
<path fill="#7eff00" d="M1960.8 427.9L1997.1 436.0L2007.2 417.0L1971.0 409.0Z"/>
<path fill="#74ff00" d="M1997.1 436.0L2033.4 444.1L2043.4 425.1L2007.2 417.0Z"/>
<path fill="#6bff00" d="M2033.4 444.1L2069.8 452.3L2079.7 433.2L2043.4 425.1Z"/>
<path fill="#62ff00" d="M2069.8 452.3L2106.3 460.4L2116.1 441.4L2079.7 433.2Z"/>
<path fill="#59ff00" d="M2106.3 460.4L2142.9 468.6L2152.5 449.5L2116.1 441.4Z"/>
<path fill="#4fff00" d="M2142.9 468.6L2179.5 476.8L2189.1 457.6L2152.5 449.5Z"/>
<path fill="#ff5900" d="M753.0 178.3L787.2 186.0L800.6 168.3L766.5 160.7Z"/>
<path fill="#ff6200" d="M787.2 186.0L821.4 193.7L834.7 175.9L800.6 168.3Z"/>
<path fill="#ff6b00" d="M821.4 193.7L855.7 201.3L868.9 183.6L834.7 175.9Z"/>
<path fill="#ff7500" d="M855.7 201.3L890.1 209.1L903.2 191.2L868.9 183.6Z"/>
<path fill="#ff7e00" d="M890.1 209.1L924.5 216.8L937.5 198.9L903.2 191.2Z"/>
<path fill="#ff8700" d="M924.5 216.8L959.0 224.5L971.9 206.6L937.5 198.9Z"/>
<path fill="#ff9000" d="M959.0 224.5L993.5 232.3L1006.4 214.3L971.9 206.6Z"/>
<path fill="#ff9a00" d="M993.5 232.3L1028.1 240.0L1040.9 222.0L1006.4 214.3Z"/>
<path fill="#ffa300" d="M1028.1 240.0L1062.8 247.8L1075.5 229.8L1040.9 222.0Z"/>
<path fill="#ffac00" d="M1062.8 247.8L1097.5 255.6L1110.1 237.5L1075.5 229.8Z"/>
<path fill="#ffb600" d="M1097.5 255.6L1132.3 263.4L1144.8 245.3L1110.1 237.5Z"/>
<path fill="#ffbf00" d="M1132.3 263.4L1167.2 271.2L1179.6 253.1L1144.8 245.3Z"/>
<path fill="#ffc800" d="M1167.2 271.2L1202.1 279.0L1214.4 260.9L1179.6 253.1Z"/>
<path fill="#ffd100" d="M1202.1 279.0L1237.1 286.9L1249.3 268.7L1214.4 260.9Z"/>
<path fill="#ffdb00" d="M1237.1 286.9L1272.2 294.8L1284.3 276.5L1249.3 268.7Z"/>
<path fill="#ffe400" d="M1272.2 294.8L1307.3 302.6L1319.3 284.3L1284.3 276.5Z"/>
<path fill="#ffed00" d="M1307.3 302.6L1342.5 310.5L1354.4 292.2L1319.3 284.3Z"/>
<path fill="#fff600" d="M1342.5 310.5L1377.7 318.4L1389.5 300.1L1354.4 292.2Z"/>
<path fill="#feff00" d="M1377.7 318.4L1413.0 326.3L1424.7 307.9L1389.5 300.1Z"/>
<path fill="#f5ff00" d="M1413.0 326.3L1448.4 334.3L1460.0 315.8L1424.7 307.9Z"/>
<path fill="#ecff00" d="M1448.4 334.3L1483.8 342.2L1495.4 323.7L1460.0 315.8Z"/>
<path fill="#e2ff00" d="M1483.8 342.2L1519.3 350.2L1530.8 331.7L1495.4 323.7Z"/>
<path fill="#d9ff00" d="M1519.3 350.2L1554.9 358.2L1566.2 339.6L1530.8 331.7Z"/>
<path fill="#d0ff00" d="M1554.9 358.2L1590.5 366.2L1601.8 347.6L1566.2 339.6Z"/>
<path fill="#c7ff00" d="M1590.5 366.2L1626.2 374.2L1637.4 355.5L1601.8 347.6Z"/>
<path fill="#bdff00" d="M1626.2 374.2L1662.0 382.2L1673.1 363.5L1637.4 355.5Z"/>
<path fill="#b4ff00" d="M1662.0 382.2L1697.9 390.2L1708.8 371.5L1673.1 363.5Z"/>
<path fill="#abff00" d="M1697.9 390.2L1733.8 398.3L1744.6 379.5L1708.8 371.5Z"/>
<path fill="#a2ff00" d="M1733.8 398.3L1769.7 406.4L1780.5 387.5L1744.6 379.5Z"/>
<path fill="#98ff00" d="M1769.7 406.4L1805.8 414.4L1816.4 395.6L1780.5 387.5Z"/>
<path fill="#8fff00" d="M1805.8 414.4L1841.9 422.5L1852.4 403.6L1816.4 395.6Z"/>
<path fill="#86ff00" d="M1841.9 422.5L1878.0 430.7L1888.5 411.7L1852.4 403.6Z"/>
<path fill="#7dff00" d="M1878.0 430.7L1914.3 438.8L1924.6 419.8L1888.5 411.7Z"/>
<path fill="#73ff00" d="M1914.3 438.8L1950.6 446.9L1960.8 427.9L1924.6 419.8Z"/>
<path fill="#6aff00" d="M1950.6 446.9L1987.0 455.1L1997.1 436.0L1960.8 427.9Z"/>
<path fill="#61ff00" d="M1987.0 455.1L2023.4 463.3L2033.4 444.1L1997.1 436.0Z"/>
<path fill="#57ff00" d="M2023.4 463.3L2059.9 471.4L2069.8 452.3L2033.4 444.1Z"/>
<path fill="#4eff00" d="M2059.9 471.4L2096.5 479.7L2106.3 460.4L2069.8 452.3Z"/>
<path fill="#45ff00" d="M2096.5 479.7L2133.1 487.9L2142.9 468.6L2106.3 460.4Z"/>
<path fill="#3cff00" d="M2133.1 487.9L2169.8 496.1L2179.5 476.8L2142.9 468.6Z"/>
<path fill="#ff6b00" d="M739.5 196.1L773.7 203.8L787.2 186.0L753.0 178.3Z"/>
<path fill="#ff7500" d="M773.7 203.8L808.1 211.5L821.4 193.7L787.2 186.0Z"/>
<path fill="#ff7e00" d="M808.1 211.5L842.4 219.2L855.7 201.3L821.4 193.7Z"/>
<path fill="#ff8700" d="M842.4 219.2L876.9 227.0L890.1 209.1L855.7 201.3Z"/>
<path fill="#ff9100" d="M876.9 227.0L911.4 234.7L924.5 216.8L890.1 209.1Z"/>
<path fill="#ff9a00" d="M911.4 234.7L946.0 242.5L959.0 224.5L924.5 216.8Z"/>
<path fill="#ffa300" d="M946.0 242.5L980.6 250.3L993.5 232.3L959.0 224.5Z"/>
<path fill="#ffad00" d="M980.6 250.3L1015.3 258.1L1028.1 240.0L993.5 232.3Z"/>
<path fill="#ffb600" d="M1015.3 258.1L1050.1 265.9L1062.8 247.8L1028.1 240.0Z"/>
<path fill="#ffbf00" d="M1050.1 265.9L1084.9 273.7L1097.5 255.6L1062.8 247.8Z"/>
<path fill="#ffc800" d="M1084.9 273.7L1119.8 281.6L1132.3 263.4L1097.5 255.6Z"/>
<path fill="#ffd200" d="M1119.8 281.6L1154.7 289.4L1167.2 271.2L1132.3 263.4Z"/>
<path fill="#ffdb00" d="M1154.7 289.4L1189.8 297.3L1202.1 279.0L1167.2 271.2Z"/>
<path fill="#ffe400" d="M1189.8 297.3L1224.8 305.2L1237.1 286.9L1202.1 279.0Z"/>
<path fill="#ffee00" d="M1224.8 305.2L1260.0 313.1L1272.2 294.8L1237.1 286.9Z"/>
<path fill="#fff700" d="M1260.0 313.1L1295.2 321.0L1307.3 302.6L1272.2 294.8Z"/>
<path fill="#feff00" d="M1295.2 321.0L1330.5 329.0L1342.5 310.5L1307.3 302.6Z"/>
<path fill="#f4ff00" d="M1330.5 329.0L1365.8 336.9L1377.7 318.4L1342.5 310.5Z"/>
<path fill="#ebff00" d="M1365.8 336.9L1401.2 344.9L1413.0 326.3L1377.7 318.4Z"/>
<path fill="#e2ff00" d="M1401.2 344.9L1436.7 352.8L1448.4 334.3L1413.0 326.3Z"/>
<path fill="#d9ff00" d="M1436.7 352.8L1472.2 360.8L1483.8 342.2L1448.4 334.3Z"/>
<path fill="#cfff00" d="M1472.2 360.8L1507.8 368.8L1519.3 350.2L1483.8 342.2Z"/>
<path fill="#c6ff00" d="M1507.8 368.8L1543.5 376.9L1554.9 358.2L1519.3 350.2Z"/>
<path fill="#bdff00" d="M1543.5 376.9L1579.2 384.9L1590.5 366.2L1554.9 358.2Z"/>
<path fill="#b3ff00" d="M1579.2 384.9L1615.0 392.9L1626.2 374.2L1590.5 366.2Z"/>
<path fill="#aaff00" d="M1615.0 392.9L1650.9 401.0L1662.0 382.2L1626.2 374.2Z"/>
<path fill="#a1ff00" d="M1650.9 401.0L1686.8 409.1L1697.9 390.2L1662.0 382.2Z"/>
<path fill="#97ff00" d="M1686.8 409.1L1722.8 417.2L1733.8 398.3L1697.9 390.2Z"/>
<path fill="#8eff00" d="M1722.8 417.2L1758.9 425.3L1769.7 406.4L1733.8 398.3Z"/>
<path fill="#85ff00" d="M1758.9 425.3L1795.0 433.4L1805.8 414.4L1769.7 406.4Z"/>
<path fill="#7bff00" d="M1795.0 433.4L1831.3 441.6L1841.9 422.5L1805.8 414.4Z"/>
<path fill="#72ff00" d="M1831.3 441.6L1867.5 449.7L1878.0 430.7L1841.9 422.5Z"/>
<path fill="#69ff00" d="M1867.5 449.7L1903.9 457.9L1914.3 438.8L1878.0 430.7Z"/>
<path fill="#60ff00" d="M1903.9 457.9L1940.3 466.1L1950.6 446.9L1914.3 438.8Z"/>
<path fill="#56ff00" d="M1940.3 466.1L1976.7 474.3L1987.0 455.1L1950.6 446.9Z"/>
<path fill="#4dff00" d="M1976.7 474.3L2013.3 482.5L2023.4 463.3L1987.0 455.1Z"/>
<path fill="#44ff00" d="M2013.3 482.5L2049.9 490.7L2059.9 471.4L2023.4 463.3Z"/>
<path fill="#3aff00" d="M2049.9 490.7L2086.6 499.0L2096.5 479.7L2059.9 471.4Z"/>
<path fill="#31ff00" d="M2086.6 499.0L2123.3 507.2L2133.1 487.9L2096.5 479.7Z"/>
<path fill="#28ff00" d="M2123.3 507.2L2160.2 515.5L2169.8 496.1L2133.1 487.9Z"/>
<path fill="#ff7e00" d="M725.9 213.9L760.2 221.7L773.7 203.8L739.5 196.1Z"/>
<path fill="#ff8700" d="M760.2 221.7L794.6 229.4L808.1 211.5L773.7 203.8Z"/>
<path fill="#ff9100" d="M794.6 229.4L829.1 237.2L842.4 219.2L808.1 211.5Z"/>
<path fill="#ff9a00" d="M829.1 237.2L863.6 245.0L876.9 227.0L842.4 219.2Z"/>
<path fill="#ffa300" d="M863.6 245.0L898.2 252.8L911.4 234.7L876.9 227.0Z"/>
<path fill="#ffad00" d="M898.2 252.8L932.9 260.6L946.0 242.5L911.4 234.7Z"/>
<path fill="#ffb600" d="M932.9 260.6L967.6 268.4L980.6 250.3L946.0 242.5Z"/>
<path fill="#ffbf00" d="M967.6 268.4L1002.4 276.3L1015.3 258.1L980.6 250.3Z"/>
<path fill="#ffc900" d="M1002.4 276.3L1037.3 284.1L1050.1 265.9L1015.3 258.1Z"/>
<path fill="#ffd200" d="M1037.3 284.1L1072.2 292.0L1084.9 273.7L1050.1 265.9Z"/>
<path fill="#ffdb00" d="M1072.2 292.0L1107.2 299.9L1119.8 281.6L1084.9 273.7Z"/>
<path fill="#ffe500" d="M1107.2 299.9L1142.2 307.8L1154.7 289.4L1119.8 281.6Z"/>
<path fill="#ffee00" d="M1142.2 307.8L1177.3 315.7L1189.8 297.3L1154.7 289.4Z"/>
<path fill="#fff700" d="M1177.3 315.7L1212.5 323.6L1224.8 305.2L1189.8 297.3Z"/>
<path fill="#fdff00" d="M1212.5 323.6L1247.7 331.6L1260.0 313.1L1224.8 305.2Z"/>
<path fill="#f4ff00" d="M1247.7 331.6L1283.0 339.5L1295.2 321.0L1260.0 313.1Z"/>
<path fill="#ebff00" d="M1283.0 339.5L1318.4 347.5L1330.5 329.0L1295.2 321.0Z"/>
<path fill="#e1ff00" d="M1318.4 347.5L1353.9 355.5L1365.8 336.9L1330.5 329.0Z"/>
<path fill="#d8ff00" d="M1353.9 355.5L1389.4 363.5L1401.2 344.9L1365.8 336.9Z"/>
<path fill="#cfff00" d="M1389.4 363.5L1424.9 371.5L1436.7 352.8L1401.2 344.9Z"/>
<path fill="#c5ff00" d="M1424.9 371.5L1460.6 379.6L1472.2 360.8L1436.7 352.8Z"/>
<path fill="#bcff00" d="M1460.6 379.6L1496.3 387.6L1507.8 368.8L1472.2 360.8Z"/>
<path fill="#b3ff00" d="M1496.3 387.6L1532.0 395.7L1543.5 376.9L1507.8 368.8Z"/>
<path fill="#a9ff00" d="M1532.0 395.7L1567.9 403.7L1579.2 384.9L1543.5 376.9Z"/>
<path fill="#a0ff00" d="M1567.9 403.7L1603.8 411.8L1615.0 392.9L1579.2 384.9Z"/>
<path fill="#97ff00" d="M1603.8 411.8L1639.7 419.9L1650.9 401.0L1615.0 392.9Z"/>
<path fill="#8dff00" d="M1639.7 419.9L1675.8 428.1L1686.8 409.1L1650.9 401.0Z"/>
<path fill="#84ff00" d="M1675.8 428.1L1711.9 436.2L1722.8 417.2L1686.8 409.1Z"/>
<path fill="#7bff00" d="M1711.9 436.2L1748.0 444.4L1758.9 425.3L1722.8 417.2Z"/>
<path fill="#71ff00" d="M1748.0 444.4L1784.3 452.5L1795.0 433.4L1758.9 425.3Z"/>
<path fill="#68ff00" d="M1784.3 452.5L1820.6 460.7L1831.3 441.6L1795.0 433.4Z"/>
<path fill="#5fff00" d="M1820.6 460.7L1856.9 468.9L1867.5 449.7L1831.3 441.6Z"/>
<path fill="#55ff00" d="M1856.9 468.9L1893.4 477.1L1903.9 457.9L1867.5 449.7Z"/>
<path fill="#4cff00" d="M1893.4 477.1L1929.9 485.3L1940.3 466.1L1903.9 457.9Z"/>
<path fill="#43ff00" d="M1929.9 485.3L1966.5 493.6L1976.7 474.3L1940.3 466.1Z"/>
<path fill="#39ff00" d="M1966.5 493.6L2003.1 501.9L2013.3 482.5L1976.7 474.3Z"/>
<path fill="#30ff00" d="M2003.1 501.9L2039.8 510.1L2049.9 490.7L2013.3 482.5Z"/>
<path fill="#27ff00" d="M2039.8 510.1L2076.6 518.4L2086.6 499.0L2049.9 490.7Z"/>
<path fill="#1dff00" d="M2076.6 518.4L2113.5 526.7L2123.3 507.2L2086.6 499.0Z"/>
<path fill="#14ff00" d="M2113.5 526.7L2150.4 535.1L2160.2 515.5L2123.3 507.2Z"/>
<path fill="#ff9100" d="M712.1 231.9L746.6 239.7L760.2 221.7L725.9 213.9Z"/>
<path fill="#ff9a00" d="M746.6 239.7L781.1 247.5L794.6 229.4L760.2 221.7Z"/>
<path fill="#ffa300" d="M781.1 247.5L815.6 255.3L829.1 237.2L794.6 229.4Z"/>
<path fill="#ffad00" d="M815.6 255.3L850.3 263.1L863.6 245.0L829.1 237.2Z"/>
<path fill="#ffb600" d="M850.3 263.1L885.0 271.0L898.2 252.8L863.6 245.0Z"/>
<path fill="#ffbf00" d="M885.0 271.0L919.7 278.8L932.9 260.6L898.2 252.8Z"/>
<path fill="#ffc900" d="M919.7 278.8L954.5 286.7L967.6 268.4L932.9 260.6Z"/>
<path fill="#ffd200" d="M954.5 286.7L989.4 294.6L1002.4 276.3L967.6 268.4Z"/>
<path fill="#ffdc00" d="M989.4 294.6L1024.4 302.5L1037.3 284.1L1002.4 276.3Z"/>
<path fill="#ffe500" d="M1024.4 302.5L1059.4 310.4L1072.2 292.0L1037.3 284.1Z"/>
<path fill="#ffee00" d="M1059.4 310.4L1094.5 318.3L1107.2 299.9L1072.2 292.0Z"/>
<path fill="#fff800" d="M1094.5 318.3L1129.6 326.3L1142.2 307.8L1107.2 299.9Z"/>
<path fill="#fdff00" d="M1129.6 326.3L1164.8 334.2L1177.3 315.7L1142.2 307.8Z"/>
<path fill="#f4ff00" d="M1164.8 334.2L1200.1 342.2L1212.5 323.6L1177.3 315.7Z"/>
<path fill="#eaff00" d="M1200.1 342.2L1235.4 350.2L1247.7 331.6L1212.5 323.6Z"/>
<path fill="#e1ff00" d="M1235.4 350.2L1270.8 358.2L1283.0 339.5L1247.7 331.6Z"/>
<path fill="#d7ff00" d="M1270.8 358.2L1306.3 366.2L1318.4 347.5L1283.0 339.5Z"/>
<path fill="#ceff00" d="M1306.3 366.2L1341.8 374.2L1353.9 355.5L1318.4 347.5Z"/>
<path fill="#c5ff00" d="M1341.8 374.2L1377.4 382.3L1389.4 363.5L1353.9 355.5Z"/>
<path fill="#bbff00" d="M1377.4 382.3L1413.1 390.3L1424.9 371.5L1389.4 363.5Z"/>
<path fill="#b2ff00" d="M1413.1 390.3L1448.8 398.4L1460.6 379.6L1424.9 371.5Z"/>
<path fill="#a9ff00" d="M1448.8 398.4L1484.6 406.5L1496.3 387.6L1460.6 379.6Z"/>
<path fill="#9fff00" d="M1484.6 406.5L1520.5 414.6L1532.0 395.7L1496.3 387.6Z"/>
<path fill="#96ff00" d="M1520.5 414.6L1556.4 422.7L1567.9 403.7L1532.0 395.7Z"/>
<path fill="#8dff00" d="M1556.4 422.7L1592.4 430.8L1603.8 411.8L1567.9 403.7Z"/>
<path fill="#83ff00" d="M1592.4 430.8L1628.5 439.0L1639.7 419.9L1603.8 411.8Z"/>
<path fill="#7aff00" d="M1628.5 439.0L1664.6 447.2L1675.8 428.1L1639.7 419.9Z"/>
<path fill="#70ff00" d="M1664.6 447.2L1700.8 455.3L1711.9 436.2L1675.8 428.1Z"/>
<path fill="#67ff00" d="M1700.8 455.3L1737.1 463.5L1748.0 444.4L1711.9 436.2Z"/>
<path fill="#5eff00" d="M1737.1 463.5L1773.4 471.7L1784.3 452.5L1748.0 444.4Z"/>
<path fill="#54ff00" d="M1773.4 471.7L1809.8 480.0L1820.6 460.7L1784.3 452.5Z"/>
<path fill="#4bff00" d="M1809.8 480.0L1846.3 488.2L1856.9 468.9L1820.6 460.7Z"/>
<path fill="#42ff00" d="M1846.3 488.2L1882.8 496.5L1893.4 477.1L1856.9 468.9Z"/>
<path fill="#38ff00" d="M1882.8 496.5L1919.5 504.7L1929.9 485.3L1893.4 477.1Z"/>
<path fill="#2fff00" d="M1919.5 504.7L1956.1 513.0L1966.5 493.6L1929.9 485.3Z"/>
<path fill="#26ff00" d="M1956.1 513.0L1992.9 521.3L2003.1 501.9L1966.5 493.6Z"/>
<path fill="#1cff00" d="M1992.9 521.3L2029.7 529.6L2039.8 510.1L2003.1 501.9Z"/>
<path fill="#13ff00" d="M2029.7 529.6L2066.6 538.0L2076.6 518.4L2039.8 510.1Z"/>
<path fill="#09ff00" d="M2066.6 538.0L2103.6 546.3L2113.5 526.7L2076.6 518.4Z"/>
<path fill="#00ff00" d="M2103.6 546.3L2140.6 554.7L2150.4 535.1L2113.5 526.7Z"/>
<path fill="#ffa300" d="M698.3 250.0L732.9 257.8L746.6 239.7L712.1 231.9Z"/>
<path fill="#ffad00" d="M732.9 257.8L767.5 265.7L781.1 247.5L746.6 239.7Z"/>
<path fill="#ffb600" d="M767.5 265.7L802.1 273.5L815.6 255.3L781.1 247.5Z"/>
<path fill="#ffbf00" d="M802.1 273.5L836.8 281.4L850.3 263.1L815.6 255.3Z"/>
<path fill="#ffc900" d="M836.8 281.4L871.6 289.3L885.0 271.0L850.3 263.1Z"/>
<path fill="#ffd200" d="M871.6 289.3L906.5 297.2L919.7 278.8L885.0 271.0Z"/>
<path fill="#ffdc00" d="M906.5 297.2L941.4 305.1L954.5 286.7L919.7 278.8Z"/>
<path fill="#ffe500" d="M941.4 305.1L976.4 313.0L989.4 294.6L954.5 286.7Z"/>
<path fill="#ffee00" d="M976.4 313.0L1011.4 320.9L1024.4 302.5L989.4 294.6Z"/>
<path fill="#fff800" d="M1011.4 320.9L1046.5 328.9L1059.4 310.4L1024.4 302.5Z"/>
<path fill="#fdff00" d="M1046.5 328.9L1081.7 336.8L1094.5 318.3L1059.4 310.4Z"/>
<path fill="#f3ff00" d="M1081.7 336.8L1116.9 344.8L1129.6 326.3L1094.5 318.3Z"/>
<path fill="#eaff00" d="M1116.9 344.8L1152.2 352.8L1164.8 334.2L1129.6 326.3Z"/>
<path fill="#e1ff00" d="M1152.2 352.8L1187.6 360.8L1200.1 342.2L1164.8 334.2Z"/>
<path fill="#d7ff00" d="M1187.6 360.8L1223.0 368.9L1235.4 350.2L1200.1 342.2Z"/>
<path fill="#ceff00" d="M1223.0 368.9L1258.5 376.9L1270.8 358.2L1235.4 350.2Z"/>
<path fill="#c4ff00" d="M1258.5 376.9L1294.1 385.0L1306.3 366.2L1270.8 358.2Z"/>
<path fill="#bbff00" d="M1294.1 385.0L1329.7 393.0L1341.8 374.2L1306.3 366.2Z"/>
<path fill="#b2ff00" d="M1329.7 393.0L1365.4 401.1L1377.4 382.3L1341.8 374.2Z"/>
<path fill="#a8ff00" d="M1365.4 401.1L1401.2 409.2L1413.1 390.3L1377.4 382.3Z"/>
<path fill="#9fff00" d="M1401.2 409.2L1437.0 417.3L1448.8 398.4L1413.1 390.3Z"/>
<path fill="#95ff00" d="M1437.0 417.3L1472.9 425.5L1484.6 406.5L1448.8 398.4Z"/>
<path fill="#8cff00" d="M1472.9 425.5L1508.9 433.6L1520.5 414.6L1484.6 406.5Z"/>
<path fill="#83ff00" d="M1508.9 433.6L1544.9 441.8L1556.4 422.7L1520.5 414.6Z"/>
<path fill="#79ff00" d="M1544.9 441.8L1581.0 450.0L1592.4 430.8L1556.4 422.7Z"/>
<path fill="#70ff00" d="M1581.0 450.0L1617.2 458.1L1628.5 439.0L1592.4 430.8Z"/>
<path fill="#66ff00" d="M1617.2 458.1L1653.4 466.4L1664.6 447.2L1628.5 439.0Z"/>
<path fill="#5dff00" d="M1653.4 466.4L1689.7 474.6L1700.8 455.3L1664.6 447.2Z"/>
<path fill="#54ff00" d="M1689.7 474.6L1726.1 482.8L1737.1 463.5L1700.8 455.3Z"/>
<path fill="#4aff00" d="M1726.1 482.8L1762.5 491.1L1773.4 471.7L1737.1 463.5Z"/>
<path fill="#41ff00" d="M1762.5 491.1L1799.0 499.3L1809.8 480.0L1773.4 471.7Z"/>
<path fill="#37ff00" d="M1799.0 499.3L1835.6 507.6L1846.3 488.2L1809.8 480.0Z"/>
<path fill="#2eff00" d="M1835.6 507.6L1872.2 515.9L1882.8 496.5L1846.3 488.2Z"/>
<path fill="#25ff00" d="M1872.2 515.9L1909.0 524.2L1919.5 504.7L1882.8 496.5Z"/>
<path fill="#1bff00" d="M1909.0 524.2L1945.7 532.6L1956.1 513.0L1919.5 504.7Z"/>
<path fill="#12ff00" d="M1945.7 532.6L1982.6 540.9L1992.9 521.3L1956.1 513.0Z"/>
<path fill="#08ff00" d="M1982.6 540.9L2019.5 549.3L2029.7 529.6L1992.9 521.3Z"/>
<path fill="#00ff01" d="M2019.5 549.3L2056.5 557.7L2066.6 538.0L2029.7 529.6Z"/>
<path fill="#00ff0a" d="M2056.5 557.7L2093.6 566.1L2103.6 546.3L2066.6 538.0Z"/>
<path fill="#00ff14" d="M2093.6 566.1L2130.7 574.5L2140.6 554.7L2103.6 546.3Z"/>
<path fill="#ffb600" d="M684.5 268.2L719.1 276.1L732.9 257.8L698.3 250.0Z"/>
<path fill="#ffbf00" d="M719.1 276.1L753.8 283.9L767.5 265.7L732.9 257.8Z"/>
<path fill="#ffc900" d="M753.8 283.9L788.5 291.8L802.1 273.5L767.5 265.7Z"/>
<path fill="#ffd200" d="M788.5 291.8L823.3 299.7L836.8 281.4L802.1 273.5Z"/>
<path fill="#ffdc00" d="M823.3 299.7L858.2 307.7L871.6 289.3L836.8 281.4Z"/>
<path fill="#ffe500" d="M858.2 307.7L893.2 315.6L906.5 297.2L871.6 289.3Z"/>
<path fill="#ffee00" d="M893.2 315.6L928.2 323.5L941.4 305.1L906.5 297.2Z"/>
<path fill="#fff800" d="M928.2 323.5L963.2 331.5L976.4 313.0L941.4 305.1Z"/>
<path fill="#fdff00" d="M963.2 331.5L998.4 339.5L1011.4 320.9L976.4 313.0Z"/>
<path fill="#f3ff00" d="M998.4 339.5L1033.6 347.5L1046.5 328.9L1011.4 320.9Z"/>
<path fill="#eaff00" d="M1033.6 347.5L1068.8 355.5L1081.7 336.8L1046.5 328.9Z"/>
<path fill="#e0ff00" d="M1068.8 355.5L1104.2 363.5L1116.9 344.8L1081.7 336.8Z"/>
<path fill="#d7ff00" d="M1104.2 363.5L1139.6 371.5L1152.2 352.8L1116.9 344.8Z"/>
<path fill="#ceff00" d="M1139.6 371.5L1175.0 379.6L1187.6 360.8L1152.2 352.8Z"/>
<path fill="#c4ff00" d="M1175.0 379.6L1210.6 387.7L1223.0 368.9L1187.6 360.8Z"/>
<path fill="#bbff00" d="M1210.6 387.7L1246.1 395.8L1258.5 376.9L1223.0 368.9Z"/>
<path fill="#b1ff00" d="M1246.1 395.8L1281.8 403.9L1294.1 385.0L1258.5 376.9Z"/>
<path fill="#a8ff00" d="M1281.8 403.9L1317.5 412.0L1329.7 393.0L1294.1 385.0Z"/>
<path fill="#9eff00" d="M1317.5 412.0L1353.3 420.1L1365.4 401.1L1329.7 393.0Z"/>
<path fill="#95ff00" d="M1353.3 420.1L1389.2 428.2L1401.2 409.2L1365.4 401.1Z"/>
<path fill="#8cff00" d="M1389.2 428.2L1425.1 436.4L1437.0 417.3L1401.2 409.2Z"/>
<path fill="#82ff00" d="M1425.1 436.4L1461.1 444.6L1472.9 425.5L1437.0 417.3Z"/>
<path fill="#79ff00" d="M1461.1 444.6L1497.2 452.8L1508.9 433.6L1472.9 425.5Z"/>
<path fill="#6fff00" d="M1497.2 452.8L1533.3 461.0L1544.9 441.8L1508.9 433.6Z"/>
<path fill="#66ff00" d="M1533.3 461.0L1569.5 469.2L1581.0 450.0L1544.9 441.8Z"/>
<path fill="#5cff00" d="M1569.5 469.2L1605.8 477.4L1617.2 458.1L1581.0 450.0Z"/>
<path fill="#53ff00" d="M1605.8 477.4L1642.1 485.7L1653.4 466.4L1617.2 458.1Z"/>
<path fill="#4aff00" d="M1642.1 485.7L1678.5 493.9L1689.7 474.6L1653.4 466.4Z"/>
<path fill="#40ff00" d="M1678.5 493.9L1715.0 502.2L1726.1 482.8L1689.7 474.6Z"/>
<path fill="#37ff00" d="M1715.0 502.2L1751.5 510.5L1762.5 491.1L1726.1 482.8Z"/>
<path fill="#2dff00" d="M1751.5 510.5L1788.1 518.8L1799.0 499.3L1762.5 491.1Z"/>
<path fill="#24ff00" d="M1788.1 518.8L1824.8 527.2L1835.6 507.6L1799.0 499.3Z"/>
<path fill="#1aff00" d="M1824.8 527.2L1861.6 535.5L1872.2 515.9L1835.6 507.6Z"/>
<path fill="#11ff00" d="M1861.6 535.5L1898.4 543.9L1909.0 524.2L1872.2 515.9Z"/>
<path fill="#08ff00" d="M1898.4 543.9L1935.3 552.3L1945.7 532.6L1909.0 524.2Z"/>
<path fill="#00ff02" d="M1935.3 552.3L1972.2 560.6L1982.6 540.9L1945.7 532.6Z"/>
<path fill="#00ff0b" d="M1972.2 560.6L2009.3 569.1L2019.5 549.3L1982.6 540.9Z"/>
<path fill="#00ff15" d="M2009.3 569.1L2046.4 577.5L2056.5 557.7L2019.5 549.3Z"/>
<path fill="#00ff1e" d="M2046.4 577.5L2083.5 585.9L2093.6 566.1L2056.5 557.7Z"/>
<path fill="#00ff28" d="M2083.5 585.9L2120.8 594.4L2130.7 574.5L2093.6 566.1Z"/>
<path fill="#ffc800" d="M670.5 286.5L705.2 294.4L719.1 276.1L684.5 268.2Z"/>
<path fill="#ffd200" d="M705.2 294.4L740.0 302.3L753.8 283.9L719.1 276.1Z"/>
<path fill="#ffdb00" d="M740.0 302.3L774.8 310.3L788.5 291.8L753.8 283.9Z"/>
<path fill="#ffe500" d="M774.8 310.3L809.7 318.2L823.3 299.7L788.5 291.8Z"/>
<path fill="#ffee00" d="M809.7 318.2L844.7 326.2L858.2 307.7L823.3 299.7Z"/>
<path fill="#fff800" d="M844.7 326.2L879.7 334.1L893.2 315.6L858.2 307.7Z"/>
<path fill="#fdff00" d="M879.7 334.1L914.8 342.1L928.2 323.5L893.2 315.6Z"/>
<path fill="#f3ff00" d="M914.8 342.1L950.0 350.1L963.2 331.5L928.2 323.5Z"/>
<path fill="#eaff00" d="M950.0 350.1L985.2 358.2L998.4 339.5L963.2 331.5Z"/>
<path fill="#e0ff00" d="M985.2 358.2L1020.5 366.2L1033.6 347.5L998.4 339.5Z"/>
<path fill="#d7ff00" d="M1020.5 366.2L1055.9 374.2L1068.8 355.5L1033.6 347.5Z"/>
<path fill="#cdff00" d="M1055.9 374.2L1091.3 382.3L1104.2 363.5L1068.8 355.5Z"/>
<path fill="#c4ff00" d="M1091.3 382.3L1126.8 390.4L1139.6 371.5L1104.2 363.5Z"/>
<path fill="#bbff00" d="M1126.8 390.4L1162.4 398.5L1175.0 379.6L1139.6 371.5Z"/>
<path fill="#b1ff00" d="M1162.4 398.5L1198.0 406.6L1210.6 387.7L1175.0 379.6Z"/>
<path fill="#a8ff00" d="M1198.0 406.6L1233.7 414.7L1246.1 395.8L1210.6 387.7Z"/>
<path fill="#9eff00" d="M1233.7 414.7L1269.5 422.9L1281.8 403.9L1246.1 395.8Z"/>
<path fill="#95ff00" d="M1269.5 422.9L1305.3 431.0L1317.5 412.0L1281.8 403.9Z"/>
<path fill="#8bff00" d="M1305.3 431.0L1341.2 439.2L1353.3 420.1L1317.5 412.0Z"/>
<path fill="#82ff00" d="M1341.2 439.2L1377.1 447.4L1389.2 428.2L1353.3 420.1Z"/>
<path fill="#78ff00" d="M1377.1 447.4L1413.2 455.6L1425.1 436.4L1389.2 428.2Z"/>
<path fill="#6fff00" d="M1413.2 455.6L1449.3 463.8L1461.1 444.6L1425.1 436.4Z"/>
<path fill="#65ff00" d="M1449.3 463.8L1485.4 472.0L1497.2 452.8L1461.1 444.6Z"/>
<path fill="#5cff00" d="M1485.4 472.0L1521.7 480.3L1533.3 461.0L1497.2 452.8Z"/>
<path fill="#52ff00" d="M1521.7 480.3L1558.0 488.5L1569.5 469.2L1533.3 461.0Z"/>
<path fill="#49ff00" d="M1558.0 488.5L1594.3 496.8L1605.8 477.4L1569.5 469.2Z"/>
<path fill="#40ff00" d="M1594.3 496.8L1630.8 505.1L1642.1 485.7L1605.8 477.4Z"/>
<path fill="#36ff00" d="M1630.8 505.1L1667.3 513.4L1678.5 493.9L1642.1 485.7Z"/>
<path fill="#2dff00" d="M1667.3 513.4L1703.8 521.8L1715.0 502.2L1678.5 493.9Z"/>
<path fill="#23ff00" d="M1703.8 521.8L1740.5 530.1L1751.5 510.5L1715.0 502.2Z"/>
<path fill="#1aff00" d="M1740.5 530.1L1777.2 538.5L1788.1 518.8L1751.5 510.5Z"/>
<path fill="#10ff00" d="M1777.2 538.5L1814.0 546.8L1824.8 527.2L1788.1 518.8Z"/>
<path fill="#07ff00" d="M1814.0 546.8L1850.8 555.2L1861.6 535.5L1824.8 527.2Z"/>
<path fill="#00ff03" d="M1850.8 555.2L1887.8 563.6L1898.4 543.9L1861.6 535.5Z"/>
<path fill="#00ff0c" d="M1887.8 563.6L1924.7 572.0L1935.3 552.3L1898.4 543.9Z"/>
<path fill="#00ff16" d="M1924.7 572.0L1961.8 580.5L1972.2 560.6L1935.3 552.3Z"/>
<path fill="#00ff1f" d="M1961.8 580.5L1998.9 588.9L2009.3 569.1L1972.2 560.6Z"/>
<path fill="#00ff29" d="M1998.9 588.9L2036.2 597.4L2046.4 577.5L2009.3 569.1Z"/>
<path fill="#00ff32" d="M2036.2 597.4L2073.4 605.9L2083.5 585.9L2046.4 577.5Z"/>
<path fill="#00ff3b" d="M2073.4 605.9L2110.8 614.4L2120.8 594.4L2083.5 585.9Z"/>
<path fill="#ffdb00" d="M656.5 304.9L691.3 312.9L705.2 294.4L670.5 286.5Z"/>
<path fill="#ffe500" d="M691.3 312.9L726.1 320.8L740.0 302.3L705.2 294.4Z"/>
<path fill="#ffee00" d="M726.1 320.8L761.1 328.8L774.8 310.3L740.0 302.3Z"/>
<path fill="#fff800" d="M761.1 328.8L796.1 336.8L809.7 318.2L774.8 310.3Z"/>
<path fill="#fdff00" d="M796.1 336.8L831.1 344.8L844.7 326.2L809.7 318.2Z"/>
<path fill="#f3ff00" d="M831.1 344.8L866.3 352.8L879.7 334.1L844.7 326.2Z"/>
<path fill="#eaff00" d="M866.3 352.8L901.5 360.8L914.8 342.1L879.7 334.1Z"/>
<path fill="#e0ff00" d="M901.5 360.8L936.7 368.9L950.0 350.1L914.8 342.1Z"/>
<path fill="#d7ff00" d="M936.7 368.9L972.0 376.9L985.2 358.2L950.0 350.1Z"/>
<path fill="#cdff00" d="M972.0 376.9L1007.4 385.0L1020.5 366.2L985.2 358.2Z"/>
<path fill="#c4ff00" d="M1007.4 385.0L1042.9 393.1L1055.9 374.2L1020.5 366.2Z"/>
<path fill="#baff00" d="M1042.9 393.1L1078.4 401.2L1091.3 382.3L1055.9 374.2Z"/>
<path fill="#b1ff00" d="M1078.4 401.2L1114.0 409.3L1126.8 390.4L1091.3 382.3Z"/>
<path fill="#a7ff00" d="M1114.0 409.3L1149.7 417.5L1162.4 398.5L1126.8 390.4Z"/>
<path fill="#9eff00" d="M1149.7 417.5L1185.4 425.6L1198.0 406.6L1162.4 398.5Z"/>
<path fill="#94ff00" d="M1185.4 425.6L1221.2 433.8L1233.7 414.7L1198.0 406.6Z"/>
<path fill="#8bff00" d="M1221.2 433.8L1257.0 442.0L1269.5 422.9L1233.7 414.7Z"/>
<path fill="#82ff00" d="M1257.0 442.0L1292.9 450.2L1305.3 431.0L1269.5 422.9Z"/>
<path fill="#78ff00" d="M1292.9 450.2L1328.9 458.4L1341.2 439.2L1305.3 431.0Z"/>
<path fill="#6fff00" d="M1328.9 458.4L1365.0 466.6L1377.1 447.4L1341.2 439.2Z"/>
<path fill="#65ff00" d="M1365.0 466.6L1401.1 474.9L1413.2 455.6L1377.1 447.4Z"/>
<path fill="#5cff00" d="M1401.1 474.9L1437.3 483.1L1449.3 463.8L1413.2 455.6Z"/>
<path fill="#52ff00" d="M1437.3 483.1L1473.6 491.4L1485.4 472.0L1449.3 463.8Z"/>
<path fill="#49ff00" d="M1473.6 491.4L1509.9 499.7L1521.7 480.3L1485.4 472.0Z"/>
<path fill="#3fff00" d="M1509.9 499.7L1546.3 508.0L1558.0 488.5L1521.7 480.3Z"/>
<path fill="#36ff00" d="M1546.3 508.0L1582.8 516.3L1594.3 496.8L1558.0 488.5Z"/>
<path fill="#2cff00" d="M1582.8 516.3L1619.3 524.7L1630.8 505.1L1594.3 496.8Z"/>
<path fill="#23ff00" d="M1619.3 524.7L1655.9 533.0L1667.3 513.4L1630.8 505.1Z"/>
<path fill="#19ff00" d="M1655.9 533.0L1692.6 541.4L1703.8 521.8L1667.3 513.4Z"/>
<path fill="#10ff00" d="M1692.6 541.4L1729.4 549.8L1740.5 530.1L1703.8 521.8Z"/>
<path fill="#06ff00" d="M1729.4 549.8L1766.2 558.2L1777.2 538.5L1740.5 530.1Z"/>
<path fill="#00ff03" d="M1766.2 558.2L1803.1 566.6L1814.0 546.8L1777.2 538.5Z"/>
<path fill="#00ff0d" d="M1803.1 566.6L1840.0 575.1L1850.8 555.2L1814.0 546.8Z"/>
<path fill="#00ff16" d="M1840.0 575.1L1877.1 583.5L1887.8 563.6L1850.8 555.2Z"/>
<path fill="#00ff20" d="M1877.1 583.5L1914.2 592.0L1924.7 572.0L1887.8 563.6Z"/>
<path fill="#00ff29" d="M1914.2 592.0L1951.3 600.5L1961.8 580.5L1924.7 572.0Z"/>
<path fill="#00ff33" d="M1951.3 600.5L1988.6 609.0L1998.9 588.9L1961.8 580.5Z"/>
<path fill="#00ff3c" d="M1988.6 609.0L2025.9 617.5L2036.2 597.4L1998.9 588.9Z"/>
<path fill="#00ff46" d="M2025.9 617.5L2063.3 626.0L2073.4 605.9L2036.2 597.4Z"/>
<path fill="#00ff4f" d="M2063.3 626.0L2100.7 634.6L2110.8 614.4L2073.4 605.9Z"/>
<path fill="#ffee00" d="M642.3 323.4L677.2 331.4L691.3 312.9L656.5 304.9Z"/>
<path fill="#fff700" d="M677.2 331.4L712.2 339.4L726.1 320.8L691.3 312.9Z"/>
<path fill="#fdff00" d="M712.2 339.4L747.2 347.4L761.1 328.8L726.1 320.8Z"/>
<path fill="#f4ff00" d="M747.2 347.4L782.3 355.5L796.1 336.8L761.1 328.8Z"/>
<path fill="#eaff00" d="M782.3 355.5L817.5 363.5L831.1 344.8L796.1 336.8Z"/>
<path fill="#e1ff00" d="M817.5 363.5L852.7 371.6L866.3 352.8L831.1 344.8Z"/>
<path fill="#d7ff00" d="M852.7 371.6L888.0 379.7L901.5 360.8L866.3 352.8Z"/>
<path fill="#ceff00" d="M888.0 379.7L923.3 387.7L936.7 368.9L901.5 360.8Z"/>
<path fill="#c4ff00" d="M923.3 387.7L958.8 395.8L972.0 376.9L936.7 368.9Z"/>
<path fill="#bbff00" d="M958.8 395.8L994.2 404.0L1007.4 385.0L972.0 376.9Z"/>
<path fill="#b1ff00" d="M994.2 404.0L1029.8 412.1L1042.9 393.1L1007.4 385.0Z"/>
<path fill="#a8ff00" d="M1029.8 412.1L1065.4 420.3L1078.4 401.2L1042.9 393.1Z"/>
<path fill="#9eff00" d="M1065.4 420.3L1101.1 428.4L1114.0 409.3L1078.4 401.2Z"/>
<path fill="#94ff00" d="M1101.1 428.4L1136.9 436.6L1149.7 417.5L1114.0 409.3Z"/>
<path fill="#8bff00" d="M1136.9 436.6L1172.7 444.8L1185.4 425.6L1149.7 417.5Z"/>
<path fill="#81ff00" d="M1172.7 444.8L1208.6 453.0L1221.2 433.8L1185.4 425.6Z"/>
<path fill="#78ff00" d="M1208.6 453.0L1244.5 461.2L1257.0 442.0L1221.2 433.8Z"/>
<path fill="#6eff00" d="M1244.5 461.2L1280.5 469.5L1292.9 450.2L1257.0 442.0Z"/>
<path fill="#65ff00" d="M1280.5 469.5L1316.6 477.7L1328.9 458.4L1292.9 450.2Z"/>
<path fill="#5bff00" d="M1316.6 477.7L1352.8 486.0L1365.0 466.6L1328.9 458.4Z"/>
<path fill="#52ff00" d="M1352.8 486.0L1389.0 494.3L1401.1 474.9L1365.0 466.6Z"/>
<path fill="#48ff00" d="M1389.0 494.3L1425.3 502.6L1437.3 483.1L1401.1 474.9Z"/>
<path fill="#3fff00" d="M1425.3 502.6L1461.7 510.9L1473.6 491.4L1437.3 483.1Z"/>
<path fill="#35ff00" d="M1461.7 510.9L1498.1 519.3L1509.9 499.7L1473.6 491.4Z"/>
<path fill="#2cff00" d="M1498.1 519.3L1534.6 527.6L1546.3 508.0L1509.9 499.7Z"/>
<path fill="#22ff00" d="M1534.6 527.6L1571.2 536.0L1582.8 516.3L1546.3 508.0Z"/>
<path fill="#19ff00" d="M1571.2 536.0L1607.8 544.4L1619.3 524.7L1582.8 516.3Z"/>
<path fill="#0fff00" d="M1607.8 544.4L1644.5 552.8L1655.9 533.0L1619.3 524.7Z"/>
<path fill="#06ff00" d="M1644.5 552.8L1681.3 561.2L1692.6 541.4L1655.9 533.0Z"/>
<path fill="#00ff04" d="M1681.3 561.2L1718.2 569.6L1729.4 549.8L1692.6 541.4Z"/>
<path fill="#00ff0d" d="M1718.2 569.6L1755.1 578.1L1766.2 558.2L1729.4 549.8Z"/>
<path fill="#00ff17" d="M1755.1 578.1L1792.1 586.5L1803.1 566.6L1766.2 558.2Z"/>
<path fill="#00ff21" d="M1792.1 586.5L1829.2 595.0L1840.0 575.1L1803.1 566.6Z"/>
<path fill="#00ff2a" d="M1829.2 595.0L1866.3 603.5L1877.1 583.5L1840.0 575.1Z"/>
<path fill="#00ff34" d="M1866.3 603.5L1903.5 612.0L1914.2 592.0L1877.1 583.5Z"/>
<path fill="#00ff3d" d="M1903.5 612.0L1940.8 620.5L1951.3 600.5L1914.2 592.0Z"/>
<path fill="#00ff47" d="M1940.8 620.5L1978.1 629.1L1988.6 609.0L1951.3 600.5Z"/>
<path fill="#00ff50" d="M1978.1 629.1L2015.5 637.7L2025.9 617.5L1988.6 609.0Z"/>
<path fill="#00ff5a" d="M2015.5 637.7L2053.0 646.2L2063.3 626.0L2025.9 617.5Z"/>
<path fill="#00ff63" d="M2053.0 646.2L2090.6 654.8L2100.7 634.6L2063.3 626.0Z"/>
<path fill="#feff00" d="M628.1 342.1L663.1 350.1L677.2 331.4L642.3 323.4Z"/>
<path fill="#f4ff00" d="M663.1 350.1L698.2 358.1L712.2 339.4L677.2 331.4Z"/>
<path fill="#ebff00" d="M698.2 358.1L733.3 366.2L747.2 347.4L712.2 339.4Z"/>
<path fill="#e1ff00" d="M733.3 366.2L768.5 374.3L782.3 355.5L747.2 347.4Z"/>
<path fill="#d7ff00" d="M768.5 374.3L803.7 382.4L817.5 363.5L782.3 355.5Z"/>
<path fill="#ceff00" d="M803.7 382.4L839.0 390.5L852.7 371.6L817.5 363.5Z"/>
<path fill="#c4ff00" d="M839.0 390.5L874.4 398.6L888.0 379.7L852.7 371.6Z"/>
<path fill="#bbff00" d="M874.4 398.6L909.9 406.7L923.3 387.7L888.0 379.7Z"/>
<path fill="#b1ff00" d="M909.9 406.7L945.4 414.9L958.8 395.8L923.3 387.7Z"/>
<path fill="#a8ff00" d="M945.4 414.9L981.0 423.0L994.2 404.0L958.8 395.8Z"/>
<path fill="#9eff00" d="M981.0 423.0L1016.6 431.2L1029.8 412.1L994.2 404.0Z"/>
<path fill="#95ff00" d="M1016.6 431.2L1052.3 439.4L1065.4 420.3L1029.8 412.1Z"/>
<path fill="#8bff00" d="M1052.3 439.4L1088.1 447.6L1101.1 428.4L1065.4 420.3Z"/>
<path fill="#81ff00" d="M1088.1 447.6L1124.0 455.8L1136.9 436.6L1101.1 428.4Z"/>
<path fill="#78ff00" d="M1124.0 455.8L1159.9 464.1L1172.7 444.8L1136.9 436.6Z"/>
<path fill="#6eff00" d="M1159.9 464.1L1195.9 472.3L1208.6 453.0L1172.7 444.8Z"/>
<path fill="#65ff00" d="M1195.9 472.3L1231.9 480.6L1244.5 461.2L1208.6 453.0Z"/>
<path fill="#5bff00" d="M1231.9 480.6L1268.1 488.9L1280.5 469.5L1244.5 461.2Z"/>
<path fill="#52ff00" d="M1268.1 488.9L1304.3 497.2L1316.6 477.7L1280.5 469.5Z"/>
<path fill="#48ff00" d="M1304.3 497.2L1340.5 505.5L1352.8 486.0L1316.6 477.7Z"/>
<path fill="#3fff00" d="M1340.5 505.5L1376.8 513.8L1389.0 494.3L1352.8 486.0Z"/>
<path fill="#35ff00" d="M1376.8 513.8L1413.2 522.2L1425.3 502.6L1389.0 494.3Z"/>
<path fill="#2bff00" d="M1413.2 522.2L1449.7 530.6L1461.7 510.9L1425.3 502.6Z"/>
<path fill="#22ff00" d="M1449.7 530.6L1486.2 538.9L1498.1 519.3L1461.7 510.9Z"/>
<path fill="#18ff00" d="M1486.2 538.9L1522.8 547.3L1534.6 527.6L1498.1 519.3Z"/>
<path fill="#0fff00" d="M1522.8 547.3L1559.5 555.7L1571.2 536.0L1534.6 527.6Z"/>
<path fill="#05ff00" d="M1559.5 555.7L1596.3 564.2L1607.8 544.4L1571.2 536.0Z"/>
<path fill="#00ff04" d="M1596.3 564.2L1633.1 572.6L1644.5 552.8L1607.8 544.4Z"/>
<path fill="#00ff0e" d="M1633.1 572.6L1670.0 581.1L1681.3 561.2L1644.5 552.8Z"/>
<path fill="#00ff17" d="M1670.0 581.1L1706.9 589.6L1718.2 569.6L1681.3 561.2Z"/>
<path fill="#00ff21" d="M1706.9 589.6L1743.9 598.0L1755.1 578.1L1718.2 569.6Z"/>
<path fill="#00ff2b" d="M1743.9 598.0L1781.0 606.6L1792.1 586.5L1755.1 578.1Z"/>
<path fill="#00ff34" d="M1781.0 606.6L1818.2 615.1L1829.2 595.0L1792.1 586.5Z"/>
<path fill="#00ff3e" d="M1818.2 615.1L1855.5 623.6L1866.3 603.5L1829.2 595.0Z"/>
<path fill="#00ff47" d="M1855.5 623.6L1892.8 632.2L1903.5 612.0L1866.3 603.5Z"/>
<path fill="#00ff51" d="M1892.8 632.2L1930.1 640.8L1940.8 620.5L1903.5 612.0Z"/>
<path fill="#00ff5a" d="M1930.1 640.8L1967.6 649.4L1978.1 629.1L1940.8 620.5Z"/>
<path fill="#00ff64" d="M1967.6 649.4L2005.1 658.0L2015.5 637.7L1978.1 629.1Z"/>
<path fill="#00ff6d" d="M2005.1 658.0L2042.7 666.6L2053.0 646.2L2015.5 637.7Z"/>
<path fill="#00ff77" d="M2042.7 666.6L2080.4 675.2L2090.6 654.8L2053.0 646.2Z"/>
<path fill="#ebff00" d="M613.8 360.8L648.9 368.9L663.1 350.1L628.1 342.1Z"/>
<path fill="#e1ff00" d="M648.9 368.9L684.1 377.0L698.2 358.1L663.1 350.1Z"/>
<path fill="#d8ff00" d="M684.1 377.0L719.3 385.1L733.3 366.2L698.2 358.1Z"/>
<path fill="#ceff00" d="M719.3 385.1L754.5 393.2L768.5 374.3L733.3 366.2Z"/>
<path fill="#c5ff00" d="M754.5 393.2L789.9 401.3L803.7 382.4L768.5 374.3Z"/>
<path fill="#bbff00" d="M789.9 401.3L825.3 409.5L839.0 390.5L803.7 382.4Z"/>
<path fill="#b2ff00" d="M825.3 409.5L860.8 417.6L874.4 398.6L839.0 390.5Z"/>
<path fill="#a8ff00" d="M860.8 417.6L896.3 425.8L909.9 406.7L874.4 398.6Z"/>
<path fill="#9eff00" d="M896.3 425.8L931.9 434.0L945.4 414.9L909.9 406.7Z"/>
<path fill="#95ff00" d="M931.9 434.0L967.6 442.2L981.0 423.0L945.4 414.9Z"/>
<path fill="#8bff00" d="M967.6 442.2L1003.4 450.4L1016.6 431.2L981.0 423.0Z"/>
<path fill="#82ff00" d="M1003.4 450.4L1039.2 458.7L1052.3 439.4L1016.6 431.2Z"/>
<path fill="#78ff00" d="M1039.2 458.7L1075.1 466.9L1088.1 447.6L1052.3 439.4Z"/>
<path fill="#6eff00" d="M1075.1 466.9L1111.0 475.2L1124.0 455.8L1088.1 447.6Z"/>
<path fill="#65ff00" d="M1111.0 475.2L1147.0 483.5L1159.9 464.1L1124.0 455.8Z"/>
<path fill="#5bff00" d="M1147.0 483.5L1183.1 491.8L1195.9 472.3L1159.9 464.1Z"/>
<path fill="#52ff00" d="M1183.1 491.8L1219.3 500.1L1231.9 480.6L1195.9 472.3Z"/>
<path fill="#48ff00" d="M1219.3 500.1L1255.5 508.4L1268.1 488.9L1231.9 480.6Z"/>
<path fill="#3eff00" d="M1255.5 508.4L1291.8 516.8L1304.3 497.2L1268.1 488.9Z"/>
<path fill="#35ff00" d="M1291.8 516.8L1328.2 525.1L1340.5 505.5L1304.3 497.2Z"/>
<path fill="#2bff00" d="M1328.2 525.1L1364.6 533.5L1376.8 513.8L1340.5 505.5Z"/>
<path fill="#22ff00" d="M1364.6 533.5L1401.1 541.9L1413.2 522.2L1376.8 513.8Z"/>
<path fill="#18ff00" d="M1401.1 541.9L1437.6 550.3L1449.7 530.6L1413.2 522.2Z"/>
<path fill="#0fff00" d="M1437.6 550.3L1474.3 558.7L1486.2 538.9L1449.7 530.6Z"/>
<path fill="#05ff00" d="M1474.3 558.7L1511.0 567.2L1522.8 547.3L1486.2 538.9Z"/>
<path fill="#00ff05" d="M1511.0 567.2L1547.8 575.6L1559.5 555.7L1522.8 547.3Z"/>
<path fill="#00ff0e" d="M1547.8 575.6L1584.6 584.1L1596.3 564.2L1559.5 555.7Z"/>
<path fill="#00ff18" d="M1584.6 584.1L1621.5 592.6L1633.1 572.6L1596.3 564.2Z"/>
<path fill="#00ff21" d="M1621.5 592.6L1658.5 601.1L1670.0 581.1L1633.1 572.6Z"/>
<path fill="#00ff2b" d="M1658.5 601.1L1695.6 609.6L1706.9 589.6L1670.0 581.1Z"/>
<path fill="#00ff35" d="M1695.6 609.6L1732.7 618.2L1743.9 598.0L1706.9 589.6Z"/>
<path fill="#00ff3e" d="M1732.7 618.2L1769.9 626.7L1781.0 606.6L1743.9 598.0Z"/>
<path fill="#00ff48" d="M1769.9 626.7L1807.2 635.3L1818.2 615.1L1781.0 606.6Z"/>
<path fill="#00ff51" d="M1807.2 635.3L1844.5 643.9L1855.5 623.6L1818.2 615.1Z"/>
<path fill="#00ff5b" d="M1844.5 643.9L1882.0 652.5L1892.8 632.2L1855.5 623.6Z"/>
<path fill="#00ff65" d="M1882.0 652.5L1919.5 661.1L1930.1 640.8L1892.8 632.2Z"/>
<path fill="#00ff6e" d="M1919.5 661.1L1957.0 669.7L1967.6 649.4L1930.1 640.8Z"/>
<path fill="#00ff78" d="M1957.0 669.7L1994.7 678.4L2005.1 658.0L1967.6 649.4Z"/>
<path fill="#00ff81" d="M1994.7 678.4L2032.4 687.1L2042.7 666.6L2005.1 658.0Z"/>
<path fill="#00ff8b" d="M2032.4 687.1L2070.1 695.8L2080.4 675.2L2042.7 666.6Z"/>
<path fill="#d8ff00" d="M599.4 379.7L634.6 387.8L648.9 368.9L613.8 360.8Z"/>
<path fill="#cfff00" d="M634.6 387.8L669.8 395.9L684.1 377.0L648.9 368.9Z"/>
<path fill="#c5ff00" d="M669.8 395.9L705.2 404.1L719.3 385.1L684.1 377.0Z"/>
<path fill="#bcff00" d="M705.2 404.1L740.5 412.2L754.5 393.2L719.3 385.1Z"/>
<path fill="#b2ff00" d="M740.5 412.2L776.0 420.4L789.9 401.3L754.5 393.2Z"/>
<path fill="#a8ff00" d="M776.0 420.4L811.5 428.6L825.3 409.5L789.9 401.3Z"/>
<path fill="#9fff00" d="M811.5 428.6L847.1 436.8L860.8 417.6L825.3 409.5Z"/>
<path fill="#95ff00" d="M847.1 436.8L882.7 445.0L896.3 425.8L860.8 417.6Z"/>
<path fill="#8bff00" d="M882.7 445.0L918.4 453.2L931.9 434.0L896.3 425.8Z"/>
<path fill="#82ff00" d="M918.4 453.2L954.2 461.5L967.6 442.2L931.9 434.0Z"/>
<path fill="#78ff00" d="M954.2 461.5L990.0 469.8L1003.4 450.4L967.6 442.2Z"/>
<path fill="#6fff00" d="M990.0 469.8L1026.0 478.0L1039.2 458.7L1003.4 450.4Z"/>
<path fill="#65ff00" d="M1026.0 478.0L1061.9 486.3L1075.1 466.9L1039.2 458.7Z"/>
<path fill="#5bff00" d="M1061.9 486.3L1098.0 494.7L1111.0 475.2L1075.1 466.9Z"/>
<path fill="#52ff00" d="M1098.0 494.7L1134.1 503.0L1147.0 483.5L1111.0 475.2Z"/>
<path fill="#48ff00" d="M1134.1 503.0L1170.3 511.3L1183.1 491.8L1147.0 483.5Z"/>
<path fill="#3fff00" d="M1170.3 511.3L1206.5 519.7L1219.3 500.1L1183.1 491.8Z"/>
<path fill="#35ff00" d="M1206.5 519.7L1242.9 528.1L1255.5 508.4L1219.3 500.1Z"/>
<path fill="#2bff00" d="M1242.9 528.1L1279.3 536.4L1291.8 516.8L1255.5 508.4Z"/>
<path fill="#22ff00" d="M1279.3 536.4L1315.7 544.9L1328.2 525.1L1291.8 516.8Z"/>
<path fill="#18ff00" d="M1315.7 544.9L1352.2 553.3L1364.6 533.5L1328.2 525.1Z"/>
<path fill="#0eff00" d="M1352.2 553.3L1388.8 561.7L1401.1 541.9L1364.6 533.5Z"/>
<path fill="#05ff00" d="M1388.8 561.7L1425.5 570.2L1437.6 550.3L1401.1 541.9Z"/>
<path fill="#00ff05" d="M1425.5 570.2L1462.3 578.6L1474.3 558.7L1437.6 550.3Z"/>
<path fill="#00ff0e" d="M1462.3 578.6L1499.1 587.1L1511.0 567.2L1474.3 558.7Z"/>
<path fill="#00ff18" d="M1499.1 587.1L1536.0 595.6L1547.8 575.6L1511.0 567.2Z"/>
<path fill="#00ff22" d="M1536.0 595.6L1572.9 604.2L1584.6 584.1L1547.8 575.6Z"/>
<path fill="#00ff2b" d="M1572.9 604.2L1609.9 612.7L1621.5 592.6L1584.6 584.1Z"/>
<path fill="#00ff35" d="M1609.9 612.7L1647.0 621.2L1658.5 601.1L1621.5 592.6Z"/>
<path fill="#00ff3f" d="M1647.0 621.2L1684.2 629.8L1695.6 609.6L1658.5 601.1Z"/>
<path fill="#00ff48" d="M1684.2 629.8L1721.4 638.4L1732.7 618.2L1695.6 609.6Z"/>
<path fill="#00ff52" d="M1721.4 638.4L1758.7 647.0L1769.9 626.7L1732.7 618.2Z"/>
<path fill="#00ff5b" d="M1758.7 647.0L1796.1 655.6L1807.2 635.3L1769.9 626.7Z"/>
<path fill="#00ff65" d="M1796.1 655.6L1833.6 664.3L1844.5 643.9L1807.2 635.3Z"/>
<path fill="#00ff6f" d="M1833.6 664.3L1871.1 672.9L1882.0 652.5L1844.5 643.9Z"/>
<path fill="#00ff78" d="M1871.1 672.9L1908.7 681.6L1919.5 661.1L1882.0 652.5Z"/>
<path fill="#00ff82" d="M1908.7 681.6L1946.4 690.3L1957.0 669.7L1919.5 661.1Z"/>
<path fill="#00ff8c" d="M1946.4 690.3L1984.1 699.0L1994.7 678.4L1957.0 669.7Z"/>
<path fill="#00ff95" d="M1984.1 699.0L2021.9 707.7L2032.4 687.1L1994.7 678.4Z"/>
<path fill="#00ff9f" d="M2021.9 707.7L2059.8 716.4L2070.1 695.8L2032.4 687.1Z"/>
<path fill="#c6ff00" d="M585.0 398.7L620.2 406.8L634.6 387.8L599.4 379.7Z"/>
<path fill="#bcff00" d="M620.2 406.8L655.6 415.0L669.8 395.9L634.6 387.8Z"/>
<path fill="#b3ff00" d="M655.6 415.0L691.0 423.2L705.2 404.1L669.8 395.9Z"/>
<path fill="#a9ff00" d="M691.0 423.2L726.4 431.4L740.5 412.2L705.2 404.1Z"/>
<path fill="#9fff00" d="M726.4 431.4L762.0 439.6L776.0 420.4L740.5 412.2Z"/>
<path fill="#96ff00" d="M762.0 439.6L797.6 447.8L811.5 428.6L776.0 420.4Z"/>
<path fill="#8cff00" d="M797.6 447.8L833.3 456.1L847.1 436.8L811.5 428.6Z"/>
<path fill="#82ff00" d="M833.3 456.1L869.0 464.3L882.7 445.0L847.1 436.8Z"/>
<path fill="#79ff00" d="M869.0 464.3L904.8 472.6L918.4 453.2L882.7 445.0Z"/>
<path fill="#6fff00" d="M904.8 472.6L940.7 480.9L954.2 461.5L918.4 453.2Z"/>
<path fill="#65ff00" d="M940.7 480.9L976.6 489.2L990.0 469.8L954.2 461.5Z"/>
<path fill="#5cff00" d="M976.6 489.2L1012.6 497.5L1026.0 478.0L990.0 469.8Z"/>
<path fill="#52ff00" d="M1012.6 497.5L1048.7 505.9L1061.9 486.3L1026.0 478.0Z"/>
<path fill="#48ff00" d="M1048.7 505.9L1084.9 514.2L1098.0 494.7L1061.9 486.3Z"/>
<path fill="#3fff00" d="M1084.9 514.2L1121.1 522.6L1134.1 503.0L1098.0 494.7Z"/>
<path fill="#35ff00" d="M1121.1 522.6L1157.4 531.0L1170.3 511.3L1134.1 503.0Z"/>
<path fill="#2bff00" d="M1157.4 531.0L1193.7 539.4L1206.5 519.7L1170.3 511.3Z"/>
<path fill="#22ff00" d="M1193.7 539.4L1230.1 547.8L1242.9 528.1L1206.5 519.7Z"/>
<path fill="#18ff00" d="M1230.1 547.8L1266.6 556.3L1279.3 536.4L1242.9 528.1Z"/>
<path fill="#0eff00" d="M1266.6 556.3L1303.2 564.7L1315.7 544.9L1279.3 536.4Z"/>
<path fill="#05ff00" d="M1303.2 564.7L1339.8 573.2L1352.2 553.3L1315.7 544.9Z"/>
<path fill="#00ff05" d="M1339.8 573.2L1376.5 581.7L1388.8 561.7L1352.2 553.3Z"/>
<path fill="#00ff0f" d="M1376.5 581.7L1413.3 590.2L1425.5 570.2L1388.8 561.7Z"/>
<path fill="#00ff18" d="M1413.3 590.2L1450.2 598.7L1462.3 578.6L1425.5 570.2Z"/>
<path fill="#00ff22" d="M1450.2 598.7L1487.1 607.2L1499.1 587.1L1462.3 578.6Z"/>
<path fill="#00ff2b" d="M1487.1 607.2L1524.1 615.8L1536.0 595.6L1499.1 587.1Z"/>
<path fill="#00ff35" d="M1524.1 615.8L1561.1 624.3L1572.9 604.2L1536.0 595.6Z"/>
<path fill="#00ff3f" d="M1561.1 624.3L1598.3 632.9L1609.9 612.7L1572.9 604.2Z"/>
<path fill="#00ff48" d="M1598.3 632.9L1635.5 641.5L1647.0 621.2L1609.9 612.7Z"/>
<path fill="#00ff52" d="M1635.5 641.5L1672.7 650.1L1684.2 629.8L1647.0 621.2Z"/>
<path fill="#00ff5c" d="M1672.7 650.1L1710.1 658.8L1721.4 638.4L1684.2 629.8Z"/>
<path fill="#00ff65" d="M1710.1 658.8L1747.5 667.4L1758.7 647.0L1721.4 638.4Z"/>
<path fill="#00ff6f" d="M1747.5 667.4L1785.0 676.1L1796.1 655.6L1758.7 647.0Z"/>
<path fill="#00ff79" d="M1785.0 676.1L1822.5 684.8L1833.6 664.3L1796.1 655.6Z"/>
<path fill="#00ff82" d="M1822.5 684.8L1860.2 693.5L1871.1 672.9L1833.6 664.3Z"/>
<path fill="#00ff8c" d="M1860.2 693.5L1897.9 702.2L1908.7 681.6L1871.1 672.9Z"/>
<path fill="#00ff96" d="M1897.9 702.2L1935.7 710.9L1946.4 690.3L1908.7 681.6Z"/>
<path fill="#00ff9f" d="M1935.7 710.9L1973.5 719.7L1984.1 699.0L1946.4 690.3Z"/>
<path fill="#00ffa9" d="M1973.5 719.7L2011.4 728.4L2021.9 707.7L1984.1 699.0Z"/>
<path fill="#00ffb3" d="M2011.4 728.4L2049.4 737.2L2059.8 716.4L2021.9 707.7Z"/>
<path fill="#b3ff00" d="M570.4 417.8L605.8 426.0L620.2 406.8L585.0 398.7Z"/>
<path fill="#aaff00" d="M605.8 426.0L641.2 434.2L655.6 415.0L620.2 406.8Z"/>
<path fill="#a0ff00" d="M641.2 434.2L676.7 442.4L691.0 423.2L655.6 415.0Z"/>
<path fill="#96ff00" d="M676.7 442.4L712.3 450.7L726.4 431.4L691.0 423.2Z"/>
<path fill="#8cff00" d="M712.3 450.7L747.9 458.9L762.0 439.6L726.4 431.4Z"/>
<path fill="#83ff00" d="M747.9 458.9L783.6 467.2L797.6 447.8L762.0 439.6Z"/>
<path fill="#79ff00" d="M783.6 467.2L819.4 475.5L833.3 456.1L797.6 447.8Z"/>
<path fill="#6fff00" d="M819.4 475.5L855.2 483.8L869.0 464.3L833.3 456.1Z"/>
<path fill="#66ff00" d="M855.2 483.8L891.1 492.1L904.8 472.6L869.0 464.3Z"/>
<path fill="#5cff00" d="M891.1 492.1L927.1 500.4L940.7 480.9L904.8 472.6Z"/>
<path fill="#52ff00" d="M927.1 500.4L963.1 508.8L976.6 489.2L940.7 480.9Z"/>
<path fill="#49ff00" d="M963.1 508.8L999.2 517.2L1012.6 497.5L976.6 489.2Z"/>
<path fill="#3fff00" d="M999.2 517.2L1035.4 525.6L1048.7 505.9L1012.6 497.5Z"/>
<path fill="#35ff00" d="M1035.4 525.6L1071.7 534.0L1084.9 514.2L1048.7 505.9Z"/>
<path fill="#2cff00" d="M1071.7 534.0L1108.0 542.4L1121.1 522.6L1084.9 514.2Z"/>
<path fill="#22ff00" d="M1108.0 542.4L1144.4 550.8L1157.4 531.0L1121.1 522.6Z"/>
<path fill="#18ff00" d="M1144.4 550.8L1180.8 559.3L1193.7 539.4L1157.4 531.0Z"/>
<path fill="#0fff00" d="M1180.8 559.3L1217.3 567.7L1230.1 547.8L1193.7 539.4Z"/>
<path fill="#05ff00" d="M1217.3 567.7L1253.9 576.2L1266.6 556.3L1230.1 547.8Z"/>
<path fill="#00ff05" d="M1253.9 576.2L1290.6 584.7L1303.2 564.7L1266.6 556.3Z"/>
<path fill="#00ff0e" d="M1290.6 584.7L1327.3 593.2L1339.8 573.2L1303.2 564.7Z"/>
<path fill="#00ff18" d="M1327.3 593.2L1364.2 601.7L1376.5 581.7L1339.8 573.2Z"/>
<path fill="#00ff22" d="M1364.2 601.7L1401.0 610.3L1413.3 590.2L1376.5 581.7Z"/>
<path fill="#00ff2c" d="M1401.0 610.3L1438.0 618.9L1450.2 598.7L1413.3 590.2Z"/>
<path fill="#00ff35" d="M1438.0 618.9L1475.0 627.4L1487.1 607.2L1450.2 598.7Z"/>
<path fill="#00ff3f" d="M1475.0 627.4L1512.1 636.0L1524.1 615.8L1487.1 607.2Z"/>
<path fill="#00ff49" d="M1512.1 636.0L1549.3 644.6L1561.1 624.3L1524.1 615.8Z"/>
<path fill="#00ff52" d="M1549.3 644.6L1586.5 653.3L1598.3 632.9L1561.1 624.3Z"/>
<path fill="#00ff5c" d="M1586.5 653.3L1623.8 661.9L1635.5 641.5L1598.3 632.9Z"/>
<path fill="#00ff66" d="M1623.8 661.9L1661.2 670.6L1672.7 650.1L1635.5 641.5Z"/>
<path fill="#00ff6f" d="M1661.2 670.6L1698.6 679.3L1710.1 658.8L1672.7 650.1Z"/>
<path fill="#00ff79" d="M1698.6 679.3L1736.2 688.0L1747.5 667.4L1710.1 658.8Z"/>
<path fill="#00ff83" d="M1736.2 688.0L1773.8 696.7L1785.0 676.1L1747.5 667.4Z"/>
<path fill="#00ff8c" d="M1773.8 696.7L1811.4 705.4L1822.5 684.8L1785.0 676.1Z"/>
<path fill="#00ff96" d="M1811.4 705.4L1849.2 714.2L1860.2 693.5L1822.5 684.8Z"/>
<path fill="#00ffa0" d="M1849.2 714.2L1887.0 722.9L1897.9 702.2L1860.2 693.5Z"/>
<path fill="#00ffa9" d="M1887.0 722.9L1924.9 731.7L1935.7 710.9L1897.9 702.2Z"/>
<path fill="#00ffb3" d="M1924.9 731.7L1962.8 740.5L1973.5 719.7L1935.7 710.9Z"/>
<path fill="#00ffbd" d="M1962.8 740.5L2000.9 749.3L2011.4 728.4L1973.5 719.7Z"/>
<path fill="#00ffc6" d="M2000.9 749.3L2039.0 758.2L2049.4 737.2L2011.4 728.4Z"/>
<path fill="#a1ff00" d="M555.7 437.0L591.2 445.2L605.8 426.0L570.4 417.8Z"/>
<path fill="#97ff00" d="M591.2 445.2L626.7 453.5L641.2 434.2L605.8 426.0Z"/>
<path fill="#8dff00" d="M626.7 453.5L662.3 461.8L676.7 442.4L641.2 434.2Z"/>
<path fill="#83ff00" d="M662.3 461.8L698.0 470.1L712.3 450.7L676.7 442.4Z"/>
<path fill="#7aff00" d="M698.0 470.1L733.7 478.4L747.9 458.9L712.3 450.7Z"/>
<path fill="#70ff00" d="M733.7 478.4L769.5 486.7L783.6 467.2L747.9 458.9Z"/>
<path fill="#66ff00" d="M769.5 486.7L805.4 495.0L819.4 475.5L783.6 467.2Z"/>
<path fill="#5dff00" d="M805.4 495.0L841.3 503.4L855.2 483.8L819.4 475.5Z"/>
<path fill="#53ff00" d="M841.3 503.4L877.3 511.7L891.1 492.1L855.2 483.8Z"/>
<path fill="#49ff00" d="M877.3 511.7L913.4 520.1L927.1 500.4L891.1 492.1Z"/>
<path fill="#3fff00" d="M913.4 520.1L949.5 528.5L963.1 508.8L927.1 500.4Z"/>
<path fill="#36ff00" d="M949.5 528.5L985.7 536.9L999.2 517.2L963.1 508.8Z"/>
<path fill="#2cff00" d="M985.7 536.9L1022.0 545.3L1035.4 525.6L999.2 517.2Z"/>
<path fill="#22ff00" d="M1022.0 545.3L1058.4 553.8L1071.7 534.0L1035.4 525.6Z"/>
<path fill="#19ff00" d="M1058.4 553.8L1094.8 562.3L1108.0 542.4L1071.7 534.0Z"/>
<path fill="#0fff00" d="M1094.8 562.3L1131.3 570.7L1144.4 550.8L1108.0 542.4Z"/>
<path fill="#05ff00" d="M1131.3 570.7L1167.8 579.2L1180.8 559.3L1144.4 550.8Z"/>
<path fill="#00ff05" d="M1167.8 579.2L1204.5 587.7L1217.3 567.7L1180.8 559.3Z"/>
<path fill="#00ff0e" d="M1204.5 587.7L1241.2 596.3L1253.9 576.2L1217.3 567.7Z"/>
<path fill="#00ff18" d="M1241.2 596.3L1277.9 604.8L1290.6 584.7L1253.9 576.2Z"/>
<path fill="#00ff22" d="M1277.9 604.8L1314.8 613.4L1327.3 593.2L1290.6 584.7Z"/>
<path fill="#00ff2b" d="M1314.8 613.4L1351.7 622.0L1364.2 601.7L1327.3 593.2Z"/>
<path fill="#00ff35" d="M1351.7 622.0L1388.7 630.5L1401.0 610.3L1364.2 601.7Z"/>
<path fill="#00ff3f" d="M1388.7 630.5L1425.7 639.2L1438.0 618.9L1401.0 610.3Z"/>
<path fill="#00ff49" d="M1425.7 639.2L1462.9 647.8L1475.0 627.4L1438.0 618.9Z"/>
<path fill="#00ff52" d="M1462.9 647.8L1500.1 656.4L1512.1 636.0L1475.0 627.4Z"/>
<path fill="#00ff5c" d="M1500.1 656.4L1537.3 665.1L1549.3 644.6L1512.1 636.0Z"/>
<path fill="#00ff66" d="M1537.3 665.1L1574.7 673.8L1586.5 653.3L1549.3 644.6Z"/>
<path fill="#00ff6f" d="M1574.7 673.8L1612.1 682.5L1623.8 661.9L1586.5 653.3Z"/>
<path fill="#00ff79" d="M1612.1 682.5L1649.6 691.2L1661.2 670.6L1623.8 661.9Z"/>
<path fill="#00ff83" d="M1649.6 691.2L1687.1 699.9L1698.6 679.3L1661.2 670.6Z"/>
<path fill="#00ff8d" d="M1687.1 699.9L1724.8 708.6L1736.2 688.0L1698.6 679.3Z"/>
<path fill="#00ff96" d="M1724.8 708.6L1762.5 717.4L1773.8 696.7L1736.2 688.0Z"/>
<path fill="#00ffa0" d="M1762.5 717.4L1800.2 726.2L1811.4 705.4L1773.8 696.7Z"/>
<path fill="#00ffaa" d="M1800.2 726.2L1838.1 735.0L1849.2 714.2L1811.4 705.4Z"/>
<path fill="#00ffb3" d="M1838.1 735.0L1876.0 743.8L1887.0 722.9L1849.2 714.2Z"/>
<path fill="#00ffbd" d="M1876.0 743.8L1914.0 752.6L1924.9 731.7L1887.0 722.9Z"/>
<path fill="#00ffc7" d="M1914.0 752.6L1952.1 761.5L1962.8 740.5L1924.9 731.7Z"/>
<path fill="#00ffd1" d="M1952.1 761.5L1990.3 770.3L2000.9 749.3L1962.8 740.5Z"/>
<path fill="#00ffda" d="M1990.3 770.3L2028.5 779.2L2039.0 758.2L2000.9 749.3Z"/>
<path fill="#8eff00" d="M541.0 456.3L576.5 464.6L591.2 445.2L555.7 437.0Z"/>
<path fill="#84ff00" d="M576.5 464.6L612.2 472.9L626.7 453.5L591.2 445.2Z"/>
<path fill="#7bff00" d="M612.2 472.9L647.9 481.2L662.3 461.8L626.7 453.5Z"/>
<path fill="#71ff00" d="M647.9 481.2L683.6 489.6L698.0 470.1L662.3 461.8Z"/>
<path fill="#67ff00" d="M683.6 489.6L719.4 497.9L733.7 478.4L698.0 470.1Z"/>
<path fill="#5dff00" d="M719.4 497.9L755.3 506.3L769.5 486.7L733.7 478.4Z"/>
<path fill="#54ff00" d="M755.3 506.3L791.3 514.7L805.4 495.0L769.5 486.7Z"/>
<path fill="#4aff00" d="M791.3 514.7L827.3 523.0L841.3 503.4L805.4 495.0Z"/>
<path fill="#40ff00" d="M827.3 523.0L863.5 531.5L877.3 511.7L841.3 503.4Z"/>
<path fill="#36ff00" d="M863.5 531.5L899.6 539.9L913.4 520.1L877.3 511.7Z"/>
<path fill="#2dff00" d="M899.6 539.9L935.9 548.3L949.5 528.5L913.4 520.1Z"/>
<path fill="#23ff00" d="M935.9 548.3L972.2 556.8L985.7 536.9L949.5 528.5Z"/>
<path fill="#19ff00" d="M972.2 556.8L1008.6 565.3L1022.0 545.3L985.7 536.9Z"/>
<path fill="#0fff00" d="M1008.6 565.3L1045.0 573.8L1058.4 553.8L1022.0 545.3Z"/>
<path fill="#06ff00" d="M1045.0 573.8L1081.5 582.3L1094.8 562.3L1058.4 553.8Z"/>
<path fill="#00ff04" d="M1081.5 582.3L1118.1 590.8L1131.3 570.7L1094.8 562.3Z"/>
<path fill="#00ff0e" d="M1118.1 590.8L1154.8 599.3L1167.8 579.2L1131.3 570.7Z"/>
<path fill="#00ff18" d="M1154.8 599.3L1191.5 607.9L1204.5 587.7L1167.8 579.2Z"/>
<path fill="#00ff21" d="M1191.5 607.9L1228.3 616.5L1241.2 596.3L1204.5 587.7Z"/>
<path fill="#00ff2b" d="M1228.3 616.5L1265.2 625.1L1277.9 604.8L1241.2 596.3Z"/>
<path fill="#00ff35" d="M1265.2 625.1L1302.1 633.7L1314.8 613.4L1277.9 604.8Z"/>
<path fill="#00ff3f" d="M1302.1 633.7L1339.1 642.3L1351.7 622.0L1314.8 613.4Z"/>
<path fill="#00ff48" d="M1339.1 642.3L1376.2 650.9L1388.7 630.5L1351.7 622.0Z"/>
<path fill="#00ff52" d="M1376.2 650.9L1413.4 659.6L1425.7 639.2L1388.7 630.5Z"/>
<path fill="#00ff5c" d="M1413.4 659.6L1450.6 668.3L1462.9 647.8L1425.7 639.2Z"/>
<path fill="#00ff66" d="M1450.6 668.3L1487.9 676.9L1500.1 656.4L1462.9 647.8Z"/>
<path fill="#00ff6f" d="M1487.9 676.9L1525.3 685.7L1537.3 665.1L1500.1 656.4Z"/>
<path fill="#00ff79" d="M1525.3 685.7L1562.8 694.4L1574.7 673.8L1537.3 665.1Z"/>
<path fill="#00ff83" d="M1562.8 694.4L1600.3 703.1L1612.1 682.5L1574.7 673.8Z"/>
<path fill="#00ff8d" d="M1600.3 703.1L1637.9 711.9L1649.6 691.2L1612.1 682.5Z"/>
<path fill="#00ff96" d="M1637.9 711.9L1675.5 720.7L1687.1 699.9L1649.6 691.2Z"/>
<path fill="#00ffa0" d="M1675.5 720.7L1713.3 729.5L1724.8 708.6L1687.1 699.9Z"/>
<path fill="#00ffaa" d="M1713.3 729.5L1751.1 738.3L1762.5 717.4L1724.8 708.6Z"/>
<path fill="#00ffb4" d="M1751.1 738.3L1789.0 747.1L1800.2 726.2L1762.5 717.4Z"/>
<path fill="#00ffbd" d="M1789.0 747.1L1827.0 755.9L1838.1 735.0L1800.2 726.2Z"/>
<path fill="#00ffc7" d="M1827.0 755.9L1865.0 764.8L1876.0 743.8L1838.1 735.0Z"/>
<path fill="#00ffd1" d="M1865.0 764.8L1903.1 773.7L1914.0 752.6L1876.0 743.8Z"/>
<path fill="#00ffdb" d="M1903.1 773.7L1941.3 782.6L1952.1 761.5L1914.0 752.6Z"/>
<path fill="#00ffe4" d="M1941.3 782.6L1979.6 791.5L1990.3 770.3L1952.1 761.5Z"/>
<path fill="#00ffee" d="M1979.6 791.5L2017.9 800.4L2028.5 779.2L1990.3 770.3Z"/>
<path fill="#7bff00" d="M526.1 475.8L561.8 484.1L576.5 464.6L541.0 456.3Z"/>
<path fill="#72ff00" d="M561.8 484.1L597.5 492.5L612.2 472.9L576.5 464.6Z"/>
<path fill="#68ff00" d="M597.5 492.5L633.3 500.8L647.9 481.2L612.2 472.9Z"/>
<path fill="#5eff00" d="M633.3 500.8L669.2 509.2L683.6 489.6L647.9 481.2Z"/>
<path fill="#54ff00" d="M669.2 509.2L705.1 517.6L719.4 497.9L683.6 489.6Z"/>
<path fill="#4bff00" d="M705.1 517.6L741.1 526.0L755.3 506.3L719.4 497.9Z"/>
<path fill="#41ff00" d="M741.1 526.0L777.2 534.4L791.3 514.7L755.3 506.3Z"/>
<path fill="#37ff00" d="M777.2 534.4L813.3 542.9L827.3 523.0L791.3 514.7Z"/>
<path fill="#2dff00" d="M813.3 542.9L849.5 551.3L863.5 531.5L827.3 523.0Z"/>
<path fill="#23ff00" d="M849.5 551.3L885.8 559.8L899.6 539.9L863.5 531.5Z"/>
<path fill="#1aff00" d="M885.8 559.8L922.1 568.3L935.9 548.3L899.6 539.9Z"/>
<path fill="#10ff00" d="M922.1 568.3L958.5 576.8L972.2 556.8L935.9 548.3Z"/>
<path fill="#06ff00" d="M958.5 576.8L995.0 585.3L1008.6 565.3L972.2 556.8Z"/>
<path fill="#00ff04" d="M995.0 585.3L1031.6 593.8L1045.0 573.8L1008.6 565.3Z"/>
<path fill="#00ff0e" d="M1031.6 593.8L1068.2 602.4L1081.5 582.3L1045.0 573.8Z"/>
<path fill="#00ff17" d="M1068.2 602.4L1104.9 611.0L1118.1 590.8L1081.5 582.3Z"/>
<path fill="#00ff21" d="M1104.9 611.0L1141.6 619.6L1154.8 599.3L1118.1 590.8Z"/>
<path fill="#00ff2b" d="M1141.6 619.6L1178.5 628.2L1191.5 607.9L1154.8 599.3Z"/>
<path fill="#00ff35" d="M1178.5 628.2L1215.4 636.8L1228.3 616.5L1191.5 607.9Z"/>
<path fill="#00ff3e" d="M1215.4 636.8L1252.4 645.4L1265.2 625.1L1228.3 616.5Z"/>
<path fill="#00ff48" d="M1252.4 645.4L1289.4 654.1L1302.1 633.7L1265.2 625.1Z"/>
<path fill="#00ff52" d="M1289.4 654.1L1326.5 662.7L1339.1 642.3L1302.1 633.7Z"/>
<path fill="#00ff5c" d="M1326.5 662.7L1363.7 671.4L1376.2 650.9L1339.1 642.3Z"/>
<path fill="#00ff66" d="M1363.7 671.4L1401.0 680.1L1413.4 659.6L1376.2 650.9Z"/>
<path fill="#00ff6f" d="M1401.0 680.1L1438.3 688.9L1450.6 668.3L1413.4 659.6Z"/>
<path fill="#00ff79" d="M1438.3 688.9L1475.7 697.6L1487.9 676.9L1450.6 668.3Z"/>
<path fill="#00ff83" d="M1475.7 697.6L1513.2 706.4L1525.3 685.7L1487.9 676.9Z"/>
<path fill="#00ff8d" d="M1513.2 706.4L1550.8 715.1L1562.8 694.4L1525.3 685.7Z"/>
<path fill="#00ff96" d="M1550.8 715.1L1588.4 723.9L1600.3 703.1L1562.8 694.4Z"/>
<path fill="#00ffa0" d="M1588.4 723.9L1626.1 732.7L1637.9 711.9L1600.3 703.1Z"/>
<path fill="#00ffaa" d="M1626.1 732.7L1663.9 741.6L1675.5 720.7L1637.9 711.9Z"/>
<path fill="#00ffb4" d="M1663.9 741.6L1701.7 750.4L1713.3 729.5L1675.5 720.7Z"/>
<path fill="#00ffbe" d="M1701.7 750.4L1739.7 759.3L1751.1 738.3L1713.3 729.5Z"/>
<path fill="#00ffc7" d="M1739.7 759.3L1777.7 768.1L1789.0 747.1L1751.1 738.3Z"/>
<path fill="#00ffd1" d="M1777.7 768.1L1815.7 777.0L1827.0 755.9L1789.0 747.1Z"/>
<path fill="#00ffdb" d="M1815.7 777.0L1853.9 785.9L1865.0 764.8L1827.0 755.9Z"/>
<path fill="#00ffe5" d="M1853.9 785.9L1892.1 794.9L1903.1 773.7L1865.0 764.8Z"/>
<path fill="#00ffee" d="M1892.1 794.9L1930.4 803.8L1941.3 782.6L1903.1 773.7Z"/>
<path fill="#00fff8" d="M1930.4 803.8L1968.8 812.8L1979.6 791.5L1941.3 782.6Z"/>
<path fill="#00fcff" d="M1968.8 812.8L2007.2 821.8L2017.9 800.4L1979.6 791.5Z"/>
<path fill="#69ff00" d="M511.2 495.4L547.0 503.7L561.8 484.1L526.1 475.8Z"/>
<path fill="#5fff00" d="M547.0 503.7L582.8 512.1L597.5 492.5L561.8 484.1Z"/>
<path fill="#55ff00" d="M582.8 512.1L618.7 520.5L633.3 500.8L597.5 492.5Z"/>
<path fill="#4bff00" d="M618.7 520.5L654.6 529.0L669.2 509.2L633.3 500.8Z"/>
<path fill="#42ff00" d="M654.6 529.0L690.7 537.4L705.1 517.6L669.2 509.2Z"/>
<path fill="#38ff00" d="M690.7 537.4L726.7 545.8L741.1 526.0L705.1 517.6Z"/>
<path fill="#2eff00" d="M726.7 545.8L762.9 554.3L777.2 534.4L741.1 526.0Z"/>
<path fill="#24ff00" d="M762.9 554.3L799.1 562.8L813.3 542.9L777.2 534.4Z"/>
<path fill="#1aff00" d="M799.1 562.8L835.4 571.3L849.5 551.3L813.3 542.9Z"/>
<path fill="#10ff00" d="M835.4 571.3L871.8 579.8L885.8 559.8L849.5 551.3Z"/>
<path fill="#07ff00" d="M871.8 579.8L908.3 588.4L922.1 568.3L885.8 559.8Z"/>
<path fill="#00ff03" d="M908.3 588.4L944.8 596.9L958.5 576.8L922.1 568.3Z"/>
<path fill="#00ff0d" d="M944.8 596.9L981.4 605.5L995.0 585.3L958.5 576.8Z"/>
<path fill="#00ff17" d="M981.4 605.5L1018.0 614.1L1031.6 593.8L995.0 585.3Z"/>
<path fill="#00ff21" d="M1018.0 614.1L1054.7 622.7L1068.2 602.4L1031.6 593.8Z"/>
<path fill="#00ff2a" d="M1054.7 622.7L1091.5 631.3L1104.9 611.0L1068.2 602.4Z"/>
<path fill="#00ff34" d="M1091.5 631.3L1128.4 639.9L1141.6 619.6L1104.9 611.0Z"/>
<path fill="#00ff3e" d="M1128.4 639.9L1165.3 648.6L1178.5 628.2L1141.6 619.6Z"/>
<path fill="#00ff48" d="M1165.3 648.6L1202.4 657.2L1215.4 636.8L1178.5 628.2Z"/>
<path fill="#00ff52" d="M1202.4 657.2L1239.4 665.9L1252.4 645.4L1215.4 636.8Z"/>
<path fill="#00ff5b" d="M1239.4 665.9L1276.6 674.6L1289.4 654.1L1252.4 645.4Z"/>
<path fill="#00ff65" d="M1276.6 674.6L1313.8 683.3L1326.5 662.7L1289.4 654.1Z"/>
<path fill="#00ff6f" d="M1313.8 683.3L1351.1 692.1L1363.7 671.4L1326.5 662.7Z"/>
<path fill="#00ff79" d="M1351.1 692.1L1388.5 700.8L1401.0 680.1L1363.7 671.4Z"/>
<path fill="#00ff83" d="M1388.5 700.8L1425.9 709.6L1438.3 688.9L1401.0 680.1Z"/>
<path fill="#00ff8d" d="M1425.9 709.6L1463.5 718.4L1475.7 697.6L1438.3 688.9Z"/>
<path fill="#00ff96" d="M1463.5 718.4L1501.0 727.2L1513.2 706.4L1475.7 697.6Z"/>
<path fill="#00ffa0" d="M1501.0 727.2L1538.7 736.0L1550.8 715.1L1513.2 706.4Z"/>
<path fill="#00ffaa" d="M1538.7 736.0L1576.5 744.8L1588.4 723.9L1550.8 715.1Z"/>
<path fill="#00ffb4" d="M1576.5 744.8L1614.3 753.7L1626.1 732.7L1588.4 723.9Z"/>
<path fill="#00ffbe" d="M1614.3 753.7L1652.2 762.6L1663.9 741.6L1626.1 732.7Z"/>
<path fill="#00ffc7" d="M1652.2 762.6L1690.1 771.5L1701.7 750.4L1663.9 741.6Z"/>
<path fill="#00ffd1" d="M1690.1 771.5L1728.2 780.4L1739.7 759.3L1701.7 750.4Z"/>
<path fill="#00ffdb" d="M1728.2 780.4L1766.3 789.3L1777.7 768.1L1739.7 759.3Z"/>
<path fill="#00ffe5" d="M1766.3 789.3L1804.4 798.2L1815.7 777.0L1777.7 768.1Z"/>
<path fill="#00ffef" d="M1804.4 798.2L1842.7 807.2L1853.9 785.9L1815.7 777.0Z"/>
<path fill="#00fff8" d="M1842.7 807.2L1881.0 816.2L1892.1 794.9L1853.9 785.9Z"/>
<path fill="#00fcff" d="M1881.0 816.2L1919.5 825.2L1930.4 803.8L1892.1 794.9Z"/>
<path fill="#00f2ff" d="M1919.5 825.2L1957.9 834.2L1968.8 812.8L1930.4 803.8Z"/>
<path fill="#00e8ff" d="M1957.9 834.2L1996.5 843.2L2007.2 821.8L1968.8 812.8Z"/>
<path fill="#56ff00" d="M496.2 515.1L532.0 523.5L547.0 503.7L511.2 495.4Z"/>
<path fill="#4cff00" d="M532.0 523.5L567.9 531.9L582.8 512.1L547.0 503.7Z"/>
<path fill="#42ff00" d="M567.9 531.9L603.9 540.4L618.7 520.5L582.8 512.1Z"/>
<path fill="#39ff00" d="M603.9 540.4L640.0 548.8L654.6 529.0L618.7 520.5Z"/>
<path fill="#2fff00" d="M640.0 548.8L676.1 557.3L690.7 537.4L654.6 529.0Z"/>
<path fill="#25ff00" d="M676.1 557.3L712.3 565.8L726.7 545.8L690.7 537.4Z"/>
<path fill="#1bff00" d="M712.3 565.8L748.6 574.3L762.9 554.3L726.7 545.8Z"/>
<path fill="#11ff00" d="M748.6 574.3L784.9 582.9L799.1 562.8L762.9 554.3Z"/>
<path fill="#07ff00" d="M784.9 582.9L821.3 591.4L835.4 571.3L799.1 562.8Z"/>
<path fill="#00ff02" d="M821.3 591.4L857.8 600.0L871.8 579.8L835.4 571.3Z"/>
<path fill="#00ff0c" d="M857.8 600.0L894.3 608.6L908.3 588.4L871.8 579.8Z"/>
<path fill="#00ff16" d="M894.3 608.6L931.0 617.2L944.8 596.9L908.3 588.4Z"/>
<path fill="#00ff20" d="M931.0 617.2L967.6 625.8L981.4 605.5L944.8 596.9Z"/>
<path fill="#00ff2a" d="M967.6 625.8L1004.4 634.4L1018.0 614.1L981.4 605.5Z"/>
<path fill="#00ff34" d="M1004.4 634.4L1041.2 643.1L1054.7 622.7L1018.0 614.1Z"/>
<path fill="#00ff3d" d="M1041.2 643.1L1078.1 651.7L1091.5 631.3L1054.7 622.7Z"/>
<path fill="#00ff47" d="M1078.1 651.7L1115.1 660.4L1128.4 639.9L1091.5 631.3Z"/>
<path fill="#00ff51" d="M1115.1 660.4L1152.1 669.1L1165.3 648.6L1128.4 639.9Z"/>
<path fill="#00ff5b" d="M1152.1 669.1L1189.3 677.8L1202.4 657.2L1165.3 648.6Z"/>
<path fill="#00ff65" d="M1189.3 677.8L1226.4 686.5L1239.4 665.9L1202.4 657.2Z"/>
<path fill="#00ff6f" d="M1226.4 686.5L1263.7 695.3L1276.6 674.6L1239.4 665.9Z"/>
<path fill="#00ff79" d="M1263.7 695.3L1301.0 704.1L1313.8 683.3L1276.6 674.6Z"/>
<path fill="#00ff82" d="M1301.0 704.1L1338.4 712.8L1351.1 692.1L1313.8 683.3Z"/>
<path fill="#00ff8c" d="M1338.4 712.8L1375.9 721.6L1388.5 700.8L1351.1 692.1Z"/>
<path fill="#00ff96" d="M1375.9 721.6L1413.5 730.5L1425.9 709.6L1388.5 700.8Z"/>
<path fill="#00ffa0" d="M1413.5 730.5L1451.1 739.3L1463.5 718.4L1425.9 709.6Z"/>
<path fill="#00ffaa" d="M1451.1 739.3L1488.8 748.2L1501.0 727.2L1463.5 718.4Z"/>
<path fill="#00ffb4" d="M1488.8 748.2L1526.6 757.0L1538.7 736.0L1501.0 727.2Z"/>
<path fill="#00ffbd" d="M1526.6 757.0L1564.4 765.9L1576.5 744.8L1538.7 736.0Z"/>
<path fill="#00ffc7" d="M1564.4 765.9L1602.3 774.8L1614.3 753.7L1576.5 744.8Z"/>
<path fill="#00ffd1" d="M1602.3 774.8L1640.3 783.7L1652.2 762.6L1614.3 753.7Z"/>
<path fill="#00ffdb" d="M1640.3 783.7L1678.4 792.7L1690.1 771.5L1652.2 762.6Z"/>
<path fill="#00ffe5" d="M1678.4 792.7L1716.6 801.6L1728.2 780.4L1690.1 771.5Z"/>
<path fill="#00ffef" d="M1716.6 801.6L1754.8 810.6L1766.3 789.3L1728.2 780.4Z"/>
<path fill="#00fff9" d="M1754.8 810.6L1793.1 819.6L1804.4 798.2L1766.3 789.3Z"/>
<path fill="#00fcff" d="M1793.1 819.6L1831.5 828.6L1842.7 807.2L1804.4 798.2Z"/>
<path fill="#00f2ff" d="M1831.5 828.6L1869.9 837.6L1881.0 816.2L1842.7 807.2Z"/>
<path fill="#00e8ff" d="M1869.9 837.6L1908.4 846.7L1919.5 825.2L1881.0 816.2Z"/>
<path fill="#00deff" d="M1908.4 846.7L1947.0 855.8L1957.9 834.2L1919.5 825.2Z"/>
<path fill="#00d4ff" d="M1947.0 855.8L1985.7 864.8L1996.5 843.2L1957.9 834.2Z"/>
<path fill="#44ff00" d="M481.1 534.9L517.0 543.4L532.0 523.5L496.2 515.1Z"/>
<path fill="#3aff00" d="M517.0 543.4L553.0 551.8L567.9 531.9L532.0 523.5Z"/>
<path fill="#30ff00" d="M553.0 551.8L589.1 560.3L603.9 540.4L567.9 531.9Z"/>
<path fill="#26ff00" d="M589.1 560.3L625.3 568.8L640.0 548.8L603.9 540.4Z"/>
<path fill="#1cff00" d="M625.3 568.8L661.5 577.4L676.1 557.3L640.0 548.8Z"/>
<path fill="#12ff00" d="M661.5 577.4L697.8 585.9L712.3 565.8L676.1 557.3Z"/>
<path fill="#08ff00" d="M697.8 585.9L734.2 594.5L748.6 574.3L712.3 565.8Z"/>
<path fill="#00ff02" d="M734.2 594.5L770.6 603.1L784.9 582.9L748.6 574.3Z"/>
<path fill="#00ff0b" d="M770.6 603.1L807.1 611.7L821.3 591.4L784.9 582.9Z"/>
<path fill="#00ff15" d="M807.1 611.7L843.7 620.3L857.8 600.0L821.3 591.4Z"/>
<path fill="#00ff1f" d="M843.7 620.3L880.3 628.9L894.3 608.6L857.8 600.0Z"/>
<path fill="#00ff29" d="M880.3 628.9L917.0 637.5L931.0 617.2L894.3 608.6Z"/>
<path fill="#00ff33" d="M917.0 637.5L953.8 646.2L967.6 625.8L931.0 617.2Z"/>
<path fill="#00ff3d" d="M953.8 646.2L990.7 654.9L1004.4 634.4L967.6 625.8Z"/>
<path fill="#00ff47" d="M990.7 654.9L1027.6 663.6L1041.2 643.1L1004.4 634.4Z"/>
<path fill="#00ff51" d="M1027.6 663.6L1064.6 672.3L1078.1 651.7L1041.2 643.1Z"/>
<path fill="#00ff5a" d="M1064.6 672.3L1101.7 681.0L1115.1 660.4L1078.1 651.7Z"/>
<path fill="#00ff64" d="M1101.7 681.0L1138.8 689.8L1152.1 669.1L1115.1 660.4Z"/>
<path fill="#00ff6e" d="M1138.8 689.8L1176.1 698.5L1189.3 677.8L1152.1 669.1Z"/>
<path fill="#00ff78" d="M1176.1 698.5L1213.4 707.3L1226.4 686.5L1189.3 677.8Z"/>
<path fill="#00ff82" d="M1213.4 707.3L1250.7 716.1L1263.7 695.3L1226.4 686.5Z"/>
<path fill="#00ff8c" d="M1250.7 716.1L1288.2 724.9L1301.0 704.1L1263.7 695.3Z"/>
<path fill="#00ff96" d="M1288.2 724.9L1325.7 733.8L1338.4 712.8L1301.0 704.1Z"/>
<path fill="#00ffa0" d="M1325.7 733.8L1363.3 742.6L1375.9 721.6L1338.4 712.8Z"/>
<path fill="#00ffa9" d="M1363.3 742.6L1400.9 751.5L1413.5 730.5L1375.9 721.6Z"/>
<path fill="#00ffb3" d="M1400.9 751.5L1438.7 760.4L1451.1 739.3L1413.5 730.5Z"/>
<path fill="#00ffbd" d="M1438.7 760.4L1476.5 769.3L1488.8 748.2L1451.1 739.3Z"/>
<path fill="#00ffc7" d="M1476.5 769.3L1514.4 778.2L1526.6 757.0L1488.8 748.2Z"/>
<path fill="#00ffd1" d="M1514.4 778.2L1552.3 787.1L1564.4 765.9L1526.6 757.0Z"/>
<path fill="#00ffdb" d="M1552.3 787.1L1590.4 796.1L1602.3 774.8L1564.4 765.9Z"/>
<path fill="#00ffe5" d="M1590.4 796.1L1628.5 805.0L1640.3 783.7L1602.3 774.8Z"/>
<path fill="#00ffef" d="M1628.5 805.0L1666.6 814.0L1678.4 792.7L1640.3 783.7Z"/>
<path fill="#00fff8" d="M1666.6 814.0L1704.9 823.0L1716.6 801.6L1678.4 792.7Z"/>
<path fill="#00fcff" d="M1704.9 823.0L1743.2 832.1L1754.8 810.6L1716.6 801.6Z"/>
<path fill="#00f2ff" d="M1743.2 832.1L1781.7 841.1L1793.1 819.6L1754.8 810.6Z"/>
<path fill="#00e8ff" d="M1781.7 841.1L1820.1 850.2L1831.5 828.6L1793.1 819.6Z"/>
<path fill="#00deff" d="M1820.1 850.2L1858.7 859.2L1869.9 837.6L1831.5 828.6Z"/>
<path fill="#00d4ff" d="M1858.7 859.2L1897.3 868.3L1908.4 846.7L1869.9 837.6Z"/>
<path fill="#00caff" d="M1897.3 868.3L1936.1 877.5L1947.0 855.8L1908.4 846.7Z"/>
<path fill="#00c0ff" d="M1936.1 877.5L1974.9 886.6L1985.7 864.8L1947.0 855.8Z"/>
<path fill="#31ff00" d="M465.8 554.8L501.9 563.3L517.0 543.4L481.1 534.9Z"/>
<path fill="#27ff00" d="M501.9 563.3L538.0 571.9L553.0 551.8L517.0 543.4Z"/>
<path fill="#1dff00" d="M538.0 571.9L574.2 580.4L589.1 560.3L553.0 551.8Z"/>
<path fill="#13ff00" d="M574.2 580.4L610.4 589.0L625.3 568.8L589.1 560.3Z"/>
<path fill="#09ff00" d="M610.4 589.0L646.8 597.6L661.5 577.4L625.3 568.8Z"/>
<path fill="#00ff01" d="M646.8 597.6L683.2 606.1L697.8 585.9L661.5 577.4Z"/>
<path fill="#00ff0a" d="M683.2 606.1L719.6 614.8L734.2 594.5L697.8 585.9Z"/>
<path fill="#00ff14" d="M719.6 614.8L756.2 623.4L770.6 603.1L734.2 594.5Z"/>
<path fill="#00ff1e" d="M756.2 623.4L792.8 632.0L807.1 611.7L770.6 603.1Z"/>
<path fill="#00ff28" d="M792.8 632.0L829.5 640.7L843.7 620.3L807.1 611.7Z"/>
<path fill="#00ff32" d="M829.5 640.7L866.2 649.4L880.3 628.9L843.7 620.3Z"/>
<path fill="#00ff3c" d="M866.2 649.4L903.0 658.0L917.0 637.5L880.3 628.9Z"/>
<path fill="#00ff46" d="M903.0 658.0L939.9 666.8L953.8 646.2L917.0 637.5Z"/>
<path fill="#00ff50" d="M939.9 666.8L976.9 675.5L990.7 654.9L953.8 646.2Z"/>
<path fill="#00ff5a" d="M976.9 675.5L1013.9 684.2L1027.6 663.6L990.7 654.9Z"/>
<path fill="#00ff64" d="M1013.9 684.2L1051.0 693.0L1064.6 672.3L1027.6 663.6Z"/>
<path fill="#00ff6e" d="M1051.0 693.0L1088.2 701.8L1101.7 681.0L1064.6 672.3Z"/>
<path fill="#00ff77" d="M1088.2 701.8L1125.5 710.6L1138.8 689.8L1101.7 681.0Z"/>
<path fill="#00ff81" d="M1125.5 710.6L1162.8 719.4L1176.1 698.5L1138.8 689.8Z"/>
<path fill="#00ff8b" d="M1162.8 719.4L1200.2 728.2L1213.4 707.3L1176.1 698.5Z"/>
<path fill="#00ff95" d="M1200.2 728.2L1237.7 737.0L1250.7 716.1L1213.4 707.3Z"/>
<path fill="#00ff9f" d="M1237.7 737.0L1275.2 745.9L1288.2 724.9L1250.7 716.1Z"/>
<path fill="#00ffa9" d="M1275.2 745.9L1312.8 754.8L1325.7 733.8L1288.2 724.9Z"/>
<path fill="#00ffb3" d="M1312.8 754.8L1350.5 763.7L1363.3 742.6L1325.7 733.8Z"/>
<path fill="#00ffbd" d="M1350.5 763.7L1388.3 772.6L1400.9 751.5L1363.3 742.6Z"/>
<path fill="#00ffc7" d="M1388.3 772.6L1426.2 781.5L1438.7 760.4L1400.9 751.5Z"/>
<path fill="#00ffd1" d="M1426.2 781.5L1464.1 790.5L1476.5 769.3L1438.7 760.4Z"/>
<path fill="#00ffdb" d="M1464.1 790.5L1502.1 799.5L1514.4 778.2L1476.5 769.3Z"/>
<path fill="#00ffe4" d="M1502.1 799.5L1540.1 808.4L1552.3 787.1L1514.4 778.2Z"/>
<path fill="#00ffee" d="M1540.1 808.4L1578.3 817.5L1590.4 796.1L1552.3 787.1Z"/>
<path fill="#00fff8" d="M1578.3 817.5L1616.5 826.5L1628.5 805.0L1590.4 796.1Z"/>
<path fill="#00fcff" d="M1616.5 826.5L1654.8 835.5L1666.6 814.0L1628.5 805.0Z"/>
<path fill="#00f2ff" d="M1654.8 835.5L1693.2 844.6L1704.9 823.0L1666.6 814.0Z"/>
<path fill="#00e8ff" d="M1693.2 844.6L1731.6 853.7L1743.2 832.1L1704.9 823.0Z"/>
<path fill="#00deff" d="M1731.6 853.7L1770.1 862.7L1781.7 841.1L1743.2 832.1Z"/>
<path fill="#00d4ff" d="M1770.1 862.7L1808.7 871.9L1820.1 850.2L1781.7 841.1Z"/>
<path fill="#00caff" d="M1808.7 871.9L1847.4 881.0L1858.7 859.2L1820.1 850.2Z"/>
<path fill="#00c0ff" d="M1847.4 881.0L1886.2 890.1L1897.3 868.3L1858.7 859.2Z"/>
<path fill="#00b6ff" d="M1886.2 890.1L1925.0 899.3L1936.1 877.5L1897.3 868.3Z"/>
<path fill="#00adff" d="M1925.0 899.3L1963.9 908.5L1974.9 886.6L1936.1 877.5Z"/>
<path fill="#1eff00" d="M450.5 574.9L486.7 583.5L501.9 563.3L465.8 554.8Z"/>
<path fill="#14ff00" d="M486.7 583.5L522.9 592.0L538.0 571.9L501.9 563.3Z"/>
<path fill="#0aff00" d="M522.9 592.0L559.2 600.6L574.2 580.4L538.0 571.9Z"/>
<path fill="#01ff00" d="M559.2 600.6L595.5 609.2L610.4 589.0L574.2 580.4Z"/>
<path fill="#00ff09" d="M595.5 609.2L632.0 617.9L646.8 597.6L610.4 589.0Z"/>
<path fill="#00ff13" d="M632.0 617.9L668.5 626.5L683.2 606.1L646.8 597.6Z"/>
<path fill="#00ff1d" d="M668.5 626.5L705.0 635.2L719.6 614.8L683.2 606.1Z"/>
<path fill="#00ff27" d="M705.0 635.2L741.7 643.8L756.2 623.4L719.6 614.8Z"/>
<path fill="#00ff31" d="M741.7 643.8L778.4 652.5L792.8 632.0L756.2 623.4Z"/>
<path fill="#00ff3b" d="M778.4 652.5L815.2 661.2L829.5 640.7L792.8 632.0Z"/>
<path fill="#00ff45" d="M815.2 661.2L852.0 669.9L866.2 649.4L829.5 640.7Z"/>
<path fill="#00ff4f" d="M852.0 669.9L888.9 678.7L903.0 658.0L866.2 649.4Z"/>
<path fill="#00ff59" d="M888.9 678.7L925.9 687.4L939.9 666.8L903.0 658.0Z"/>
<path fill="#00ff63" d="M925.9 687.4L963.0 696.2L976.9 675.5L939.9 666.8Z"/>
<path fill="#00ff6d" d="M963.0 696.2L1000.1 705.0L1013.9 684.2L976.9 675.5Z"/>
<path fill="#00ff77" d="M1000.1 705.0L1037.4 713.8L1051.0 693.0L1013.9 684.2Z"/>
<path fill="#00ff81" d="M1037.4 713.8L1074.6 722.6L1088.2 701.8L1051.0 693.0Z"/>
<path fill="#00ff8b" d="M1074.6 722.6L1112.0 731.5L1125.5 710.6L1088.2 701.8Z"/>
<path fill="#00ff95" d="M1112.0 731.5L1149.4 740.3L1162.8 719.4L1125.5 710.6Z"/>
<path fill="#00ff9e" d="M1149.4 740.3L1187.0 749.2L1200.2 728.2L1162.8 719.4Z"/>
<path fill="#00ffa8" d="M1187.0 749.2L1224.5 758.1L1237.7 737.0L1200.2 728.2Z"/>
<path fill="#00ffb2" d="M1224.5 758.1L1262.2 767.0L1275.2 745.9L1237.7 737.0Z"/>
<path fill="#00ffbc" d="M1262.2 767.0L1299.9 776.0L1312.8 754.8L1275.2 745.9Z"/>
<path fill="#00ffc6" d="M1299.9 776.0L1337.7 784.9L1350.5 763.7L1312.8 754.8Z"/>
<path fill="#00ffd0" d="M1337.7 784.9L1375.6 793.9L1388.3 772.6L1350.5 763.7Z"/>
<path fill="#00ffda" d="M1375.6 793.9L1413.6 802.9L1426.2 781.5L1388.3 772.6Z"/>
<path fill="#00ffe4" d="M1413.6 802.9L1451.6 811.9L1464.1 790.5L1426.2 781.5Z"/>
<path fill="#00ffee" d="M1451.6 811.9L1489.7 820.9L1502.1 799.5L1464.1 790.5Z"/>
<path fill="#00fff8" d="M1489.7 820.9L1527.9 829.9L1540.1 808.4L1502.1 799.5Z"/>
<path fill="#00fcff" d="M1527.9 829.9L1566.1 839.0L1578.3 817.5L1540.1 808.4Z"/>
<path fill="#00f2ff" d="M1566.1 839.0L1604.5 848.1L1616.5 826.5L1578.3 817.5Z"/>
<path fill="#00e8ff" d="M1604.5 848.1L1642.9 857.1L1654.8 835.5L1616.5 826.5Z"/>
<path fill="#00deff" d="M1642.9 857.1L1681.4 866.3L1693.2 844.6L1654.8 835.5Z"/>
<path fill="#00d4ff" d="M1681.4 866.3L1719.9 875.4L1731.6 853.7L1693.2 844.6Z"/>
<path fill="#00caff" d="M1719.9 875.4L1758.6 884.5L1770.1 862.7L1731.6 853.7Z"/>
<path fill="#00c0ff" d="M1758.6 884.5L1797.3 893.7L1808.7 871.9L1770.1 862.7Z"/>
<path fill="#00b7ff" d="M1797.3 893.7L1836.1 902.9L1847.4 881.0L1808.7 871.9Z"/>
<path fill="#00adff" d="M1836.1 902.9L1874.9 912.1L1886.2 890.1L1847.4 881.0Z"/>
<path fill="#00a3ff" d="M1874.9 912.1L1913.9 921.3L1925.0 899.3L1886.2 890.1Z"/>
<path fill="#0099ff" d="M1913.9 921.3L1952.9 930.5L1963.9 908.5L1925.0 899.3Z"/>
<path fill="#0cff00" d="M435.1 595.1L471.4 603.7L486.7 583.5L450.5 574.9Z"/>
<path fill="#02ff00" d="M471.4 603.7L507.7 612.3L522.9 592.0L486.7 583.5Z"/>
<path fill="#00ff08" d="M507.7 612.3L544.1 621.0L559.2 600.6L522.9 592.0Z"/>
<path fill="#00ff12" d="M544.1 621.0L580.5 629.6L595.5 609.2L559.2 600.6Z"/>
<path fill="#00ff1c" d="M580.5 629.6L617.1 638.3L632.0 617.9L595.5 609.2Z"/>
<path fill="#00ff26" d="M617.1 638.3L653.7 647.0L668.5 626.5L632.0 617.9Z"/>
<path fill="#00ff30" d="M653.7 647.0L690.3 655.7L705.0 635.2L668.5 626.5Z"/>
<path fill="#00ff3a" d="M690.3 655.7L727.1 664.4L741.7 643.8L705.0 635.2Z"/>
<path fill="#00ff44" d="M727.1 664.4L763.9 673.1L778.4 652.5L741.7 643.8Z"/>
<path fill="#00ff4e" d="M763.9 673.1L800.8 681.9L815.2 661.2L778.4 652.5Z"/>
<path fill="#00ff58" d="M800.8 681.9L837.7 690.7L852.0 669.9L815.2 661.2Z"/>
<path fill="#00ff62" d="M837.7 690.7L874.8 699.5L888.9 678.7L852.0 669.9Z"/>
<path fill="#00ff6c" d="M874.8 699.5L911.9 708.3L925.9 687.4L888.9 678.7Z"/>
<path fill="#00ff76" d="M911.9 708.3L949.0 717.1L963.0 696.2L925.9 687.4Z"/>
<path fill="#00ff80" d="M949.0 717.1L986.3 725.9L1000.1 705.0L963.0 696.2Z"/>
<path fill="#00ff8a" d="M986.3 725.9L1023.6 734.8L1037.4 713.8L1000.1 705.0Z"/>
<path fill="#00ff94" d="M1023.6 734.8L1061.0 743.7L1074.6 722.6L1037.4 713.8Z"/>
<path fill="#00ff9e" d="M1061.0 743.7L1098.5 752.6L1112.0 731.5L1074.6 722.6Z"/>
<path fill="#00ffa8" d="M1098.5 752.6L1136.0 761.5L1149.4 740.3L1112.0 731.5Z"/>
<path fill="#00ffb2" d="M1136.0 761.5L1173.6 770.4L1187.0 749.2L1149.4 740.3Z"/>
<path fill="#00ffbc" d="M1173.6 770.4L1211.3 779.3L1224.5 758.1L1187.0 749.2Z"/>
<path fill="#00ffc6" d="M1211.3 779.3L1249.1 788.3L1262.2 767.0L1224.5 758.1Z"/>
<path fill="#00ffd0" d="M1249.1 788.3L1286.9 797.3L1299.9 776.0L1262.2 767.0Z"/>
<path fill="#00ffda" d="M1286.9 797.3L1324.8 806.3L1337.7 784.9L1299.9 776.0Z"/>
<path fill="#00ffe4" d="M1324.8 806.3L1362.8 815.3L1375.6 793.9L1337.7 784.9Z"/>
<path fill="#00ffee" d="M1362.8 815.3L1400.9 824.3L1413.6 802.9L1375.6 793.9Z"/>
<path fill="#00fff8" d="M1400.9 824.3L1439.0 833.4L1451.6 811.9L1413.6 802.9Z"/>
<path fill="#00fdff" d="M1439.0 833.4L1477.2 842.5L1489.7 820.9L1451.6 811.9Z"/>
<path fill="#00f3ff" d="M1477.2 842.5L1515.5 851.5L1527.9 829.9L1489.7 820.9Z"/>
<path fill="#00e9ff" d="M1515.5 851.5L1553.9 860.6L1566.1 839.0L1527.9 829.9Z"/>
<path fill="#00dfff" d="M1553.9 860.6L1592.3 869.8L1604.5 848.1L1566.1 839.0Z"/>
<path fill="#00d5ff" d="M1592.3 869.8L1630.9 878.9L1642.9 857.1L1604.5 848.1Z"/>
<path fill="#00cbff" d="M1630.9 878.9L1669.5 888.1L1681.4 866.3L1642.9 857.1Z"/>
<path fill="#00c1ff" d="M1669.5 888.1L1708.1 897.3L1719.9 875.4L1681.4 866.3Z"/>
<path fill="#00b7ff" d="M1708.1 897.3L1746.9 906.5L1758.6 884.5L1719.9 875.4Z"/>
<path fill="#00adff" d="M1746.9 906.5L1785.7 915.7L1797.3 893.7L1758.6 884.5Z"/>
<path fill="#00a3ff" d="M1785.7 915.7L1824.6 924.9L1836.1 902.9L1797.3 893.7Z"/>
<path fill="#0099ff" d="M1824.6 924.9L1863.6 934.2L1874.9 912.1L1836.1 902.9Z"/>
<path fill="#008fff" d="M1863.6 934.2L1902.7 943.4L1913.9 921.3L1874.9 912.1Z"/>
<path fill="#0085ff" d="M1902.7 943.4L1941.8 952.7L1952.9 930.5L1913.9 921.3Z"/>
<path fill="#00ff07" d="M419.6 615.4L456.0 624.1L471.4 603.7L435.1 595.1Z"/>
<path fill="#00ff11" d="M456.0 624.1L492.4 632.8L507.7 612.3L471.4 603.7Z"/>
<path fill="#00ff1b" d="M492.4 632.8L528.9 641.4L544.1 621.0L507.7 612.3Z"/>
<path fill="#00ff25" d="M528.9 641.4L565.4 650.1L580.5 629.6L544.1 621.0Z"/>
<path fill="#00ff2f" d="M565.4 650.1L602.1 658.9L617.1 638.3L580.5 629.6Z"/>
<path fill="#00ff39" d="M602.1 658.9L638.8 667.6L653.7 647.0L617.1 638.3Z"/>
<path fill="#00ff43" d="M638.8 667.6L675.5 676.3L690.3 655.7L653.7 647.0Z"/>
<path fill="#00ff4d" d="M675.5 676.3L712.4 685.1L727.1 664.4L690.3 655.7Z"/>
<path fill="#00ff57" d="M712.4 685.1L749.3 693.9L763.9 673.1L727.1 664.4Z"/>
<path fill="#00ff61" d="M749.3 693.9L786.3 702.7L800.8 681.9L763.9 673.1Z"/>
<path fill="#00ff6b" d="M786.3 702.7L823.3 711.5L837.7 690.7L800.8 681.9Z"/>
<path fill="#00ff75" d="M823.3 711.5L860.5 720.4L874.8 699.5L837.7 690.7Z"/>
<path fill="#00ff7f" d="M860.5 720.4L897.7 729.2L911.9 708.3L874.8 699.5Z"/>
<path fill="#00ff89" d="M897.7 729.2L935.0 738.1L949.0 717.1L911.9 708.3Z"/>
<path fill="#00ff93" d="M935.0 738.1L972.3 747.0L986.3 725.9L949.0 717.1Z"/>
<path fill="#00ff9d" d="M972.3 747.0L1009.7 755.9L1023.6 734.8L986.3 725.9Z"/>
<path fill="#00ffa7" d="M1009.7 755.9L1047.2 764.8L1061.0 743.7L1023.6 734.8Z"/>
<path fill="#00ffb1" d="M1047.2 764.8L1084.8 773.8L1098.5 752.6L1061.0 743.7Z"/>
<path fill="#00ffbb" d="M1084.8 773.8L1122.5 782.7L1136.0 761.5L1098.5 752.6Z"/>
<path fill="#00ffc5" d="M1122.5 782.7L1160.2 791.7L1173.6 770.4L1136.0 761.5Z"/>
<path fill="#00ffcf" d="M1160.2 791.7L1198.0 800.7L1211.3 779.3L1173.6 770.4Z"/>
<path fill="#00ffd9" d="M1198.0 800.7L1235.9 809.7L1249.1 788.3L1211.3 779.3Z"/>
<path fill="#00ffe3" d="M1235.9 809.7L1273.8 818.7L1286.9 797.3L1249.1 788.3Z"/>
<path fill="#00ffed" d="M1273.8 818.7L1311.8 827.8L1324.8 806.3L1286.9 797.3Z"/>
<path fill="#00fff7" d="M1311.8 827.8L1349.9 836.8L1362.8 815.3L1324.8 806.3Z"/>
<path fill="#00fdff" d="M1349.9 836.8L1388.1 845.9L1400.9 824.3L1362.8 815.3Z"/>
<path fill="#00f3ff" d="M1388.1 845.9L1426.4 855.0L1439.0 833.4L1400.9 824.3Z"/>
<path fill="#00e9ff" d="M1426.4 855.0L1464.7 864.2L1477.2 842.5L1439.0 833.4Z"/>
<path fill="#00dfff" d="M1464.7 864.2L1503.1 873.3L1515.5 851.5L1477.2 842.5Z"/>
<path fill="#00d5ff" d="M1503.1 873.3L1541.6 882.5L1553.9 860.6L1515.5 851.5Z"/>
<path fill="#00cbff" d="M1541.6 882.5L1580.2 891.6L1592.3 869.8L1553.9 860.6Z"/>
<path fill="#00c1ff" d="M1580.2 891.6L1618.8 900.8L1630.9 878.9L1592.3 869.8Z"/>
<path fill="#00b7ff" d="M1618.8 900.8L1657.5 910.0L1669.5 888.1L1630.9 878.9Z"/>
<path fill="#00adff" d="M1657.5 910.0L1696.3 919.3L1708.1 897.3L1669.5 888.1Z"/>
<path fill="#00a3ff" d="M1696.3 919.3L1735.2 928.5L1746.9 906.5L1708.1 897.3Z"/>
<path fill="#0099ff" d="M1735.2 928.5L1774.1 937.8L1785.7 915.7L1746.9 906.5Z"/>
<path fill="#008fff" d="M1774.1 937.8L1813.1 947.1L1824.6 924.9L1785.7 915.7Z"/>
<path fill="#0085ff" d="M1813.1 947.1L1852.2 956.4L1863.6 934.2L1824.6 924.9Z"/>
<path fill="#007bff" d="M1852.2 956.4L1891.4 965.7L1902.7 943.4L1863.6 934.2Z"/>
<path fill="#0071ff" d="M1891.4 965.7L1930.7 975.1L1941.8 952.7L1902.7 943.4Z"/>
<path fill="#00ff19" d="M404.0 635.9L440.5 644.6L456.0 624.1L419.6 615.4Z"/>
<path fill="#00ff24" d="M440.5 644.6L477.0 653.3L492.4 632.8L456.0 624.1Z"/>
<path fill="#00ff2e" d="M477.0 653.3L513.6 662.0L528.9 641.4L492.4 632.8Z"/>
<path fill="#00ff38" d="M513.6 662.0L550.2 670.8L565.4 650.1L528.9 641.4Z"/>
<path fill="#00ff42" d="M550.2 670.8L587.0 679.6L602.1 658.9L565.4 650.1Z"/>
<path fill="#00ff4c" d="M587.0 679.6L623.8 688.3L638.8 667.6L602.1 658.9Z"/>
<path fill="#00ff56" d="M623.8 688.3L660.6 697.1L675.5 676.3L638.8 667.6Z"/>
<path fill="#00ff60" d="M660.6 697.1L697.6 706.0L712.4 685.1L675.5 676.3Z"/>
<path fill="#00ff6a" d="M697.6 706.0L734.6 714.8L749.3 693.9L712.4 685.1Z"/>
<path fill="#00ff74" d="M734.6 714.8L771.7 723.6L786.3 702.7L749.3 693.9Z"/>
<path fill="#00ff7e" d="M771.7 723.6L808.9 732.5L823.3 711.5L786.3 702.7Z"/>
<path fill="#00ff88" d="M808.9 732.5L846.1 741.4L860.5 720.4L823.3 711.5Z"/>
<path fill="#00ff92" d="M846.1 741.4L883.4 750.3L897.7 729.2L860.5 720.4Z"/>
<path fill="#00ff9c" d="M883.4 750.3L920.8 759.2L935.0 738.1L897.7 729.2Z"/>
<path fill="#00ffa6" d="M920.8 759.2L958.3 768.2L972.3 747.0L935.0 738.1Z"/>
<path fill="#00ffb0" d="M958.3 768.2L995.8 777.1L1009.7 755.9L972.3 747.0Z"/>
<path fill="#00ffba" d="M995.8 777.1L1033.4 786.1L1047.2 764.8L1009.7 755.9Z"/>
<path fill="#00ffc4" d="M1033.4 786.1L1071.1 795.1L1084.8 773.8L1047.2 764.8Z"/>
<path fill="#00ffce" d="M1071.1 795.1L1108.9 804.1L1122.5 782.7L1084.8 773.8Z"/>
<path fill="#00ffd8" d="M1108.9 804.1L1146.7 813.1L1160.2 791.7L1122.5 782.7Z"/>
<path fill="#00ffe2" d="M1146.7 813.1L1184.6 822.2L1198.0 800.7L1160.2 791.7Z"/>
<path fill="#00ffec" d="M1184.6 822.2L1222.6 831.2L1235.9 809.7L1198.0 800.7Z"/>
<path fill="#00fff6" d="M1222.6 831.2L1260.6 840.3L1273.8 818.7L1235.9 809.7Z"/>
<path fill="#00feff" d="M1260.6 840.3L1298.8 849.4L1311.8 827.8L1273.8 818.7Z"/>
<path fill="#00f4ff" d="M1298.8 849.4L1337.0 858.5L1349.9 836.8L1311.8 827.8Z"/>
<path fill="#00eaff" d="M1337.0 858.5L1375.3 867.7L1388.1 845.9L1349.9 836.8Z"/>
<path fill="#00e0ff" d="M1375.3 867.7L1413.6 876.8L1426.4 855.0L1388.1 845.9Z"/>
<path fill="#00d6ff" d="M1413.6 876.8L1452.1 886.0L1464.7 864.2L1426.4 855.0Z"/>
<path fill="#00ccff" d="M1452.1 886.0L1490.6 895.2L1503.1 873.3L1464.7 864.2Z"/>
<path fill="#00c2ff" d="M1490.6 895.2L1529.2 904.4L1541.6 882.5L1503.1 873.3Z"/>
<path fill="#00b7ff" d="M1529.2 904.4L1567.9 913.6L1580.2 891.6L1541.6 882.5Z"/>
<path fill="#00adff" d="M1567.9 913.6L1606.6 922.9L1618.8 900.8L1580.2 891.6Z"/>
<path fill="#00a3ff" d="M1606.6 922.9L1645.5 932.1L1657.5 910.0L1618.8 900.8Z"/>
<path fill="#0099ff" d="M1645.5 932.1L1684.4 941.4L1696.3 919.3L1657.5 910.0Z"/>
<path fill="#008fff" d="M1684.4 941.4L1723.3 950.7L1735.2 928.5L1696.3 919.3Z"/>
<path fill="#0085ff" d="M1723.3 950.7L1762.4 960.1L1774.1 937.8L1735.2 928.5Z"/>
<path fill="#007bff" d="M1762.4 960.1L1801.6 969.4L1813.1 947.1L1774.1 937.8Z"/>
<path fill="#0071ff" d="M1801.6 969.4L1840.8 978.8L1852.2 956.4L1813.1 947.1Z"/>
<path fill="#0067ff" d="M1840.8 978.8L1880.1 988.1L1891.4 965.7L1852.2 956.4Z"/>
<path fill="#005dff" d="M1880.1 988.1L1919.5 997.5L1930.7 975.1L1891.4 965.7Z"/>
<path fill="#00ff2c" d="M388.3 656.5L424.9 665.2L440.5 644.6L404.0 635.9Z"/>
<path fill="#00ff36" d="M424.9 665.2L461.5 674.0L477.0 653.3L440.5 644.6Z"/>
<path fill="#00ff40" d="M461.5 674.0L498.2 682.8L513.6 662.0L477.0 653.3Z"/>
<path fill="#00ff4a" d="M498.2 682.8L534.9 691.6L550.2 670.8L513.6 662.0Z"/>
<path fill="#00ff54" d="M534.9 691.6L571.8 700.4L587.0 679.6L550.2 670.8Z"/>
<path fill="#00ff5e" d="M571.8 700.4L608.7 709.2L623.8 688.3L587.0 679.6Z"/>
<path fill="#00ff68" d="M608.7 709.2L645.7 718.1L660.6 697.1L623.8 688.3Z"/>
<path fill="#00ff73" d="M645.7 718.1L682.7 726.9L697.6 706.0L660.6 697.1Z"/>
<path fill="#00ff7d" d="M682.7 726.9L719.8 735.8L734.6 714.8L697.6 706.0Z"/>
<path fill="#00ff87" d="M719.8 735.8L757.0 744.7L771.7 723.6L734.6 714.8Z"/>
<path fill="#00ff91" d="M757.0 744.7L794.3 753.6L808.9 732.5L771.7 723.6Z"/>
<path fill="#00ff9b" d="M794.3 753.6L831.6 762.6L846.1 741.4L808.9 732.5Z"/>
<path fill="#00ffa5" d="M831.6 762.6L869.1 771.5L883.4 750.3L846.1 741.4Z"/>
<path fill="#00ffaf" d="M869.1 771.5L906.6 780.5L920.8 759.2L883.4 750.3Z"/>
<path fill="#00ffb9" d="M906.6 780.5L944.1 789.5L958.3 768.2L920.8 759.2Z"/>
<path fill="#00ffc3" d="M944.1 789.5L981.8 798.5L995.8 777.1L958.3 768.2Z"/>
<path fill="#00ffcd" d="M981.8 798.5L1019.5 807.5L1033.4 786.1L995.8 777.1Z"/>
<path fill="#00ffd7" d="M1019.5 807.5L1057.3 816.6L1071.1 795.1L1033.4 786.1Z"/>
<path fill="#00ffe1" d="M1057.3 816.6L1095.2 825.6L1108.9 804.1L1071.1 795.1Z"/>
<path fill="#00ffeb" d="M1095.2 825.6L1133.1 834.7L1146.7 813.1L1108.9 804.1Z"/>
<path fill="#00fff5" d="M1133.1 834.7L1171.1 843.8L1184.6 822.2L1146.7 813.1Z"/>
<path fill="#00ffff" d="M1171.1 843.8L1209.2 852.9L1222.6 831.2L1184.6 822.2Z"/>
<path fill="#00f4ff" d="M1209.2 852.9L1247.4 862.1L1260.6 840.3L1222.6 831.2Z"/>
<path fill="#00eaff" d="M1247.4 862.1L1285.6 871.2L1298.8 849.4L1260.6 840.3Z"/>
<path fill="#00e0ff" d="M1285.6 871.2L1324.0 880.4L1337.0 858.5L1298.8 849.4Z"/>
<path fill="#00d6ff" d="M1324.0 880.4L1362.4 889.6L1375.3 867.7L1337.0 858.5Z"/>
<path fill="#00ccff" d="M1362.4 889.6L1400.8 898.8L1413.6 876.8L1375.3 867.7Z"/>
<path fill="#00c2ff" d="M1400.8 898.8L1439.4 908.0L1452.1 886.0L1413.6 876.8Z"/>
<path fill="#00b8ff" d="M1439.4 908.0L1478.0 917.2L1490.6 895.2L1452.1 886.0Z"/>
<path fill="#00aeff" d="M1478.0 917.2L1516.7 926.5L1529.2 904.4L1490.6 895.2Z"/>
<path fill="#00a4ff" d="M1516.7 926.5L1555.5 935.8L1567.9 913.6L1529.2 904.4Z"/>
<path fill="#009aff" d="M1555.5 935.8L1594.4 945.1L1606.6 922.9L1567.9 913.6Z"/>
<path fill="#0090ff" d="M1594.4 945.1L1633.3 954.4L1645.5 932.1L1606.6 922.9Z"/>
<path fill="#0086ff" d="M1633.3 954.4L1672.4 963.7L1684.4 941.4L1645.5 932.1Z"/>
<path fill="#007cff" d="M1672.4 963.7L1711.5 973.1L1723.3 950.7L1684.4 941.4Z"/>
<path fill="#0072ff" d="M1711.5 973.1L1750.6 982.5L1762.4 960.1L1723.3 950.7Z"/>
<path fill="#0068ff" d="M1750.6 982.5L1789.9 991.9L1801.6 969.4L1762.4 960.1Z"/>
<path fill="#005dff" d="M1789.9 991.9L1829.2 1001.3L1840.8 978.8L1801.6 969.4Z"/>
<path fill="#0053ff" d="M1829.2 1001.3L1868.7 1010.7L1880.1 988.1L1840.8 978.8Z"/>
<path fill="#0049ff" d="M1868.7 1010.7L1908.2 1020.2L1919.5 997.5L1880.1 988.1Z"/>
<path fill="#00ff3f" d="M372.5 677.2L409.2 686.0L424.9 665.2L388.3 656.5Z"/>
<path fill="#00ff49" d="M409.2 686.0L445.9 694.8L461.5 674.0L424.9 665.2Z"/>
<path fill="#00ff53" d="M445.9 694.8L482.7 703.7L498.2 682.8L461.5 674.0Z"/>
<path fill="#00ff5d" d="M482.7 703.7L519.5 712.5L534.9 691.6L498.2 682.8Z"/>
<path fill="#00ff67" d="M519.5 712.5L556.5 721.4L571.8 700.4L534.9 691.6Z"/>
<path fill="#00ff71" d="M556.5 721.4L593.5 730.2L608.7 709.2L571.8 700.4Z"/>
<path fill="#00ff7b" d="M593.5 730.2L630.6 739.1L645.7 718.1L608.7 709.2Z"/>
<path fill="#00ff85" d="M630.6 739.1L667.7 748.1L682.7 726.9L645.7 718.1Z"/>
<path fill="#00ff8f" d="M667.7 748.1L705.0 757.0L719.8 735.8L682.7 726.9Z"/>
<path fill="#00ff9a" d="M705.0 757.0L742.3 765.9L757.0 744.7L719.8 735.8Z"/>
<path fill="#00ffa4" d="M742.3 765.9L779.6 774.9L794.3 753.6L757.0 744.7Z"/>
<path fill="#00ffae" d="M779.6 774.9L817.1 783.9L831.6 762.6L794.3 753.6Z"/>
<path fill="#00ffb8" d="M817.1 783.9L854.6 792.9L869.1 771.5L831.6 762.6Z"/>
<path fill="#00ffc2" d="M854.6 792.9L892.2 801.9L906.6 780.5L869.1 771.5Z"/>
<path fill="#00ffcc" d="M892.2 801.9L929.9 811.0L944.1 789.5L906.6 780.5Z"/>
<path fill="#00ffd6" d="M929.9 811.0L967.7 820.0L981.8 798.5L944.1 789.5Z"/>
<path fill="#00ffe0" d="M967.7 820.0L1005.5 829.1L1019.5 807.5L981.8 798.5Z"/>
<path fill="#00ffea" d="M1005.5 829.1L1043.4 838.2L1057.3 816.6L1019.5 807.5Z"/>
<path fill="#00fff4" d="M1043.4 838.2L1081.4 847.3L1095.2 825.6L1057.3 816.6Z"/>
<path fill="#00ffff" d="M1081.4 847.3L1119.4 856.4L1133.1 834.7L1095.2 825.6Z"/>
<path fill="#00f5ff" d="M1119.4 856.4L1157.5 865.6L1171.1 843.8L1133.1 834.7Z"/>
<path fill="#00ebff" d="M1157.5 865.6L1195.7 874.7L1209.2 852.9L1171.1 843.8Z"/>
<path fill="#00e1ff" d="M1195.7 874.7L1234.0 883.9L1247.4 862.1L1209.2 852.9Z"/>
<path fill="#00d7ff" d="M1234.0 883.9L1272.4 893.1L1285.6 871.2L1247.4 862.1Z"/>
<path fill="#00cdff" d="M1272.4 893.1L1310.8 902.4L1324.0 880.4L1285.6 871.2Z"/>
<path fill="#00c3ff" d="M1310.8 902.4L1349.3 911.6L1362.4 889.6L1324.0 880.4Z"/>
<path fill="#00b9ff" d="M1349.3 911.6L1387.9 920.9L1400.8 898.8L1362.4 889.6Z"/>
<path fill="#00afff" d="M1387.9 920.9L1426.6 930.1L1439.4 908.0L1400.8 898.8Z"/>
<path fill="#00a5ff" d="M1426.6 930.1L1465.3 939.4L1478.0 917.2L1439.4 908.0Z"/>
<path fill="#009aff" d="M1465.3 939.4L1504.2 948.7L1516.7 926.5L1478.0 917.2Z"/>
<path fill="#0090ff" d="M1504.2 948.7L1543.1 958.1L1555.5 935.8L1516.7 926.5Z"/>
<path fill="#0086ff" d="M1543.1 958.1L1582.1 967.4L1594.4 945.1L1555.5 935.8Z"/>
<path fill="#007cff" d="M1582.1 967.4L1621.1 976.8L1633.3 954.4L1594.4 945.1Z"/>
<path fill="#0072ff" d="M1621.1 976.8L1660.3 986.2L1672.4 963.7L1633.3 954.4Z"/>
<path fill="#0068ff" d="M1660.3 986.2L1699.5 995.6L1711.5 973.1L1672.4 963.7Z"/>
<path fill="#005eff" d="M1699.5 995.6L1738.8 1005.0L1750.6 982.5L1711.5 973.1Z"/>
<path fill="#0054ff" d="M1738.8 1005.0L1778.2 1014.5L1789.9 991.9L1750.6 982.5Z"/>
<path fill="#004aff" d="M1778.2 1014.5L1817.6 1024.0L1829.2 1001.3L1789.9 991.9Z"/>
<path fill="#0040ff" d="M1817.6 1024.0L1857.2 1033.4L1868.7 1010.7L1829.2 1001.3Z"/>
<path fill="#0035ff" d="M1857.2 1033.4L1896.8 1042.9L1908.2 1020.2L1868.7 1010.7Z"/>
<path fill="#00ff51" d="M356.6 698.1L393.3 706.9L409.2 686.0L372.5 677.2Z"/>
<path fill="#00ff5b" d="M393.3 706.9L430.2 715.8L445.9 694.8L409.2 686.0Z"/>
<path fill="#00ff66" d="M430.2 715.8L467.1 724.7L482.7 703.7L445.9 694.8Z"/>
<path fill="#00ff70" d="M467.1 724.7L504.0 733.5L519.5 712.5L482.7 703.7Z"/>
<path fill="#00ff7a" d="M504.0 733.5L541.1 742.5L556.5 721.4L519.5 712.5Z"/>
<path fill="#00ff84" d="M541.1 742.5L578.2 751.4L593.5 730.2L556.5 721.4Z"/>
<path fill="#00ff8e" d="M578.2 751.4L615.4 760.3L630.6 739.1L593.5 730.2Z"/>
<path fill="#00ff98" d="M615.4 760.3L652.7 769.3L667.7 748.1L630.6 739.1Z"/>
<path fill="#00ffa2" d="M652.7 769.3L690.0 778.3L705.0 757.0L667.7 748.1Z"/>
<path fill="#00ffac" d="M690.0 778.3L727.4 787.3L742.3 765.9L705.0 757.0Z"/>
<path fill="#00ffb7" d="M727.4 787.3L764.9 796.3L779.6 774.9L742.3 765.9Z"/>
<path fill="#00ffc1" d="M764.9 796.3L802.4 805.3L817.1 783.9L779.6 774.9Z"/>
<path fill="#00ffcb" d="M802.4 805.3L840.1 814.4L854.6 792.9L817.1 783.9Z"/>
<path fill="#00ffd5" d="M840.1 814.4L877.8 823.5L892.2 801.9L854.6 792.9Z"/>
<path fill="#00ffdf" d="M877.8 823.5L915.6 832.6L929.9 811.0L892.2 801.9Z"/>
<path fill="#00ffe9" d="M915.6 832.6L953.4 841.7L967.7 820.0L929.9 811.0Z"/>
<path fill="#00fff3" d="M953.4 841.7L991.4 850.8L1005.5 829.1L967.7 820.0Z"/>
<path fill="#00fffe" d="M991.4 850.8L1029.4 859.9L1043.4 838.2L1005.5 829.1Z"/>
<path fill="#00f6ff" d="M1029.4 859.9L1067.5 869.1L1081.4 847.3L1043.4 838.2Z"/>
<path fill="#00ecff" d="M1067.5 869.1L1105.6 878.3L1119.4 856.4L1081.4 847.3Z"/>
<path fill="#00e2ff" d="M1105.6 878.3L1143.9 887.5L1157.5 865.6L1119.4 856.4Z"/>
<path fill="#00d8ff" d="M1143.9 887.5L1182.2 896.7L1195.7 874.7L1157.5 865.6Z"/>
<path fill="#00ceff" d="M1182.2 896.7L1220.6 905.9L1234.0 883.9L1195.7 874.7Z"/>
<path fill="#00c4ff" d="M1220.6 905.9L1259.1 915.2L1272.4 893.1L1234.0 883.9Z"/>
<path fill="#00baff" d="M1259.1 915.2L1297.6 924.5L1310.8 902.4L1272.4 893.1Z"/>
<path fill="#00afff" d="M1297.6 924.5L1336.2 933.8L1349.3 911.6L1310.8 902.4Z"/>
<path fill="#00a5ff" d="M1336.2 933.8L1374.9 943.1L1387.9 920.9L1349.3 911.6Z"/>
<path fill="#009bff" d="M1374.9 943.1L1413.7 952.4L1426.6 930.1L1387.9 920.9Z"/>
<path fill="#0091ff" d="M1413.7 952.4L1452.6 961.8L1465.3 939.4L1426.6 930.1Z"/>
<path fill="#0087ff" d="M1452.6 961.8L1491.5 971.1L1504.2 948.7L1465.3 939.4Z"/>
<path fill="#007dff" d="M1491.5 971.1L1530.6 980.5L1543.1 958.1L1504.2 948.7Z"/>
<path fill="#0073ff" d="M1530.6 980.5L1569.7 989.9L1582.1 967.4L1543.1 958.1Z"/>
<path fill="#0069ff" d="M1569.7 989.9L1608.8 999.4L1621.1 976.8L1582.1 967.4Z"/>
<path fill="#005eff" d="M1608.8 999.4L1648.1 1008.8L1660.3 986.2L1621.1 976.8Z"/>
<path fill="#0054ff" d="M1648.1 1008.8L1687.4 1018.3L1699.5 995.6L1660.3 986.2Z"/>
<path fill="#004aff" d="M1687.4 1018.3L1726.9 1027.8L1738.8 1005.0L1699.5 995.6Z"/>
<path fill="#0040ff" d="M1726.9 1027.8L1766.3 1037.3L1778.2 1014.5L1738.8 1005.0Z"/>
<path fill="#0036ff" d="M1766.3 1037.3L1805.9 1046.8L1817.6 1024.0L1778.2 1014.5Z"/>
<path fill="#002cff" d="M1805.9 1046.8L1845.6 1056.3L1857.2 1033.4L1817.6 1024.0Z"/>
<path fill="#0022ff" d="M1845.6 1056.3L1885.3 1065.9L1896.8 1042.9L1857.2 1033.4Z"/>
<path fill="#00ff64" d="M340.6 719.1L377.4 728.0L393.3 706.9L356.6 698.1Z"/>
<path fill="#00ff6e" d="M377.4 728.0L414.4 736.9L430.2 715.8L393.3 706.9Z"/>
<path fill="#00ff78" d="M414.4 736.9L451.4 745.8L467.1 724.7L430.2 715.8Z"/>
<path fill="#00ff82" d="M451.4 745.8L488.4 754.7L504.0 733.5L467.1 724.7Z"/>
<path fill="#00ff8d" d="M488.4 754.7L525.6 763.7L541.1 742.5L504.0 733.5Z"/>
<path fill="#00ff97" d="M525.6 763.7L562.8 772.7L578.2 751.4L541.1 742.5Z"/>
<path fill="#00ffa1" d="M562.8 772.7L600.1 781.7L615.4 760.3L578.2 751.4Z"/>
<path fill="#00ffab" d="M600.1 781.7L637.5 790.7L652.7 769.3L615.4 760.3Z"/>
<path fill="#00ffb5" d="M637.5 790.7L674.9 799.7L690.0 778.3L652.7 769.3Z"/>
<path fill="#00ffbf" d="M674.9 799.7L712.4 808.8L727.4 787.3L690.0 778.3Z"/>
<path fill="#00ffca" d="M712.4 808.8L750.0 817.8L764.9 796.3L727.4 787.3Z"/>
<path fill="#00ffd4" d="M750.0 817.8L787.7 826.9L802.4 805.3L764.9 796.3Z"/>
<path fill="#00ffde" d="M787.7 826.9L825.4 836.0L840.1 814.4L802.4 805.3Z"/>
<path fill="#00ffe8" d="M825.4 836.0L863.3 845.2L877.8 823.5L840.1 814.4Z"/>
<path fill="#00fff2" d="M863.3 845.2L901.2 854.3L915.6 832.6L877.8 823.5Z"/>
<path fill="#00fffc" d="M901.2 854.3L939.1 863.5L953.4 841.7L915.6 832.6Z"/>
<path fill="#00f7ff" d="M939.1 863.5L977.2 872.6L991.4 850.8L953.4 841.7Z"/>
<path fill="#00edff" d="M977.2 872.6L1015.3 881.8L1029.4 859.9L991.4 850.8Z"/>
<path fill="#00e3ff" d="M1015.3 881.8L1053.5 891.1L1067.5 869.1L1029.4 859.9Z"/>
<path fill="#00d9ff" d="M1053.5 891.1L1091.8 900.3L1105.6 878.3L1067.5 869.1Z"/>
<path fill="#00cfff" d="M1091.8 900.3L1130.1 909.6L1143.9 887.5L1105.6 878.3Z"/>
<path fill="#00c5ff" d="M1130.1 909.6L1168.6 918.8L1182.2 896.7L1143.9 887.5Z"/>
<path fill="#00bbff" d="M1168.6 918.8L1207.1 928.1L1220.6 905.9L1182.2 896.7Z"/>
<path fill="#00b0ff" d="M1207.1 928.1L1245.6 937.4L1259.1 915.2L1220.6 905.9Z"/>
<path fill="#00a6ff" d="M1245.6 937.4L1284.3 946.8L1297.6 924.5L1259.1 915.2Z"/>
<path fill="#009cff" d="M1284.3 946.8L1323.1 956.1L1336.2 933.8L1297.6 924.5Z"/>
<path fill="#0092ff" d="M1323.1 956.1L1361.9 965.5L1374.9 943.1L1336.2 933.8Z"/>
<path fill="#0088ff" d="M1361.9 965.5L1400.8 974.8L1413.7 952.4L1374.9 943.1Z"/>
<path fill="#007eff" d="M1400.8 974.8L1439.8 984.3L1452.6 961.8L1413.7 952.4Z"/>
<path fill="#0073ff" d="M1439.8 984.3L1478.8 993.7L1491.5 971.1L1452.6 961.8Z"/>
<path fill="#0069ff" d="M1478.8 993.7L1518.0 1003.1L1530.6 980.5L1491.5 971.1Z"/>
<path fill="#005fff" d="M1518.0 1003.1L1557.2 1012.6L1569.7 989.9L1530.6 980.5Z"/>
<path fill="#0055ff" d="M1557.2 1012.6L1596.5 1022.1L1608.8 999.4L1569.7 989.9Z"/>
<path fill="#004bff" d="M1596.5 1022.1L1635.8 1031.6L1648.1 1008.8L1608.8 999.4Z"/>
<path fill="#0041ff" d="M1635.8 1031.6L1675.3 1041.1L1687.4 1018.3L1648.1 1008.8Z"/>
<path fill="#0036ff" d="M1675.3 1041.1L1714.8 1050.6L1726.9 1027.8L1687.4 1018.3Z"/>
<path fill="#002cff" d="M1714.8 1050.6L1754.5 1060.2L1766.3 1037.3L1726.9 1027.8Z"/>
<path fill="#0022ff" d="M1754.5 1060.2L1794.2 1069.8L1805.9 1046.8L1766.3 1037.3Z"/>
<path fill="#0018ff" d="M1794.2 1069.8L1833.9 1079.4L1845.6 1056.3L1805.9 1046.8Z"/>
<path fill="#000eff" d="M1833.9 1079.4L1873.8 1089.0L1885.3 1065.9L1845.6 1056.3Z"/>
<path fill="#00ff77" d="M324.5 740.2L361.4 749.1L377.4 728.0L340.6 719.1Z"/>
<path fill="#00ff81" d="M361.4 749.1L398.5 758.1L414.4 736.9L377.4 728.0Z"/>
<path fill="#00ff8b" d="M398.5 758.1L435.6 767.1L451.4 745.8L414.4 736.9Z"/>
<path fill="#00ff95" d="M435.6 767.1L472.7 776.1L488.4 754.7L451.4 745.8Z"/>
<path fill="#00ff9f" d="M472.7 776.1L510.0 785.1L525.6 763.7L488.4 754.7Z"/>
<path fill="#00ffa9" d="M510.0 785.1L547.3 794.1L562.8 772.7L525.6 763.7Z"/>
<path fill="#00ffb4" d="M547.3 794.1L584.7 803.2L600.1 781.7L562.8 772.7Z"/>
<path fill="#00ffbe" d="M584.7 803.2L622.2 812.2L637.5 790.7L600.1 781.7Z"/>
<path fill="#00ffc8" d="M622.2 812.2L659.8 821.3L674.9 799.7L637.5 790.7Z"/>
<path fill="#00ffd2" d="M659.8 821.3L697.4 830.4L712.4 808.8L674.9 799.7Z"/>
<path fill="#00ffdc" d="M697.4 830.4L735.1 839.5L750.0 817.8L712.4 808.8Z"/>
<path fill="#00ffe7" d="M735.1 839.5L772.9 848.7L787.7 826.9L750.0 817.8Z"/>
<path fill="#00fff1" d="M772.9 848.7L810.7 857.8L825.4 836.0L787.7 826.9Z"/>
<path fill="#00fffb" d="M810.7 857.8L848.6 867.0L863.3 845.2L825.4 836.0Z"/>
<path fill="#00f9ff" d="M848.6 867.0L886.6 876.2L901.2 854.3L863.3 845.2Z"/>
<path fill="#00efff" d="M886.6 876.2L924.7 885.4L939.1 863.5L901.2 854.3Z"/>
<path fill="#00e4ff" d="M924.7 885.4L962.9 894.6L977.2 872.6L939.1 863.5Z"/>
<path fill="#00daff" d="M962.9 894.6L1001.1 903.9L1015.3 881.8L977.2 872.6Z"/>
<path fill="#00d0ff" d="M1001.1 903.9L1039.4 913.2L1053.5 891.1L1015.3 881.8Z"/>
<path fill="#00c6ff" d="M1039.4 913.2L1077.8 922.4L1091.8 900.3L1053.5 891.1Z"/>
<path fill="#00bcff" d="M1077.8 922.4L1116.3 931.8L1130.1 909.6L1091.8 900.3Z"/>
<path fill="#00b1ff" d="M1116.3 931.8L1154.8 941.1L1168.6 918.8L1130.1 909.6Z"/>
<path fill="#00a7ff" d="M1154.8 941.1L1193.4 950.4L1207.1 928.1L1168.6 918.8Z"/>
<path fill="#009dff" d="M1193.4 950.4L1232.1 959.8L1245.6 937.4L1207.1 928.1Z"/>
<path fill="#0093ff" d="M1232.1 959.8L1270.9 969.2L1284.3 946.8L1245.6 937.4Z"/>
<path fill="#0089ff" d="M1270.9 969.2L1309.8 978.6L1323.1 956.1L1284.3 946.8Z"/>
<path fill="#007eff" d="M1309.8 978.6L1348.7 988.0L1361.9 965.5L1323.1 956.1Z"/>
<path fill="#0074ff" d="M1348.7 988.0L1387.7 997.4L1400.8 974.8L1361.9 965.5Z"/>
<path fill="#006aff" d="M1387.7 997.4L1426.8 1006.9L1439.8 984.3L1400.8 974.8Z"/>
<path fill="#0060ff" d="M1426.8 1006.9L1466.0 1016.4L1478.8 993.7L1439.8 984.3Z"/>
<path fill="#0056ff" d="M1466.0 1016.4L1505.3 1025.9L1518.0 1003.1L1478.8 993.7Z"/>
<path fill="#004bff" d="M1505.3 1025.9L1544.6 1035.4L1557.2 1012.6L1518.0 1003.1Z"/>
<path fill="#0041ff" d="M1544.6 1035.4L1584.0 1044.9L1596.5 1022.1L1557.2 1012.6Z"/>
<path fill="#0037ff" d="M1584.0 1044.9L1623.5 1054.5L1635.8 1031.6L1596.5 1022.1Z"/>
<path fill="#002dff" d="M1623.5 1054.5L1663.1 1064.0L1675.3 1041.1L1635.8 1031.6Z"/>
<path fill="#0023ff" d="M1663.1 1064.0L1702.7 1073.6L1714.8 1050.6L1675.3 1041.1Z"/>
<path fill="#0018ff" d="M1702.7 1073.6L1742.5 1083.3L1754.5 1060.2L1714.8 1050.6Z"/>
<path fill="#000eff" d="M1742.5 1083.3L1782.3 1092.9L1794.2 1069.8L1754.5 1060.2Z"/>
<path fill="#0004ff" d="M1782.3 1092.9L1822.2 1102.5L1833.9 1079.4L1794.2 1069.8Z"/>
<path fill="#0000ff" d="M1822.2 1102.5L1862.2 1112.2L1873.8 1089.0L1833.9 1079.4Z"/>
<path fill="#00ff89" d="M308.3 761.5L345.3 770.4L361.4 749.1L324.5 740.2Z"/>
<path fill="#00ff93" d="M345.3 770.4L382.5 779.5L398.5 758.1L361.4 749.1Z"/>
<path fill="#00ff9e" d="M382.5 779.5L419.7 788.5L435.6 767.1L398.5 758.1Z"/>
<path fill="#00ffa8" d="M419.7 788.5L456.9 797.5L472.7 776.1L435.6 767.1Z"/>
<path fill="#00ffb2" d="M456.9 797.5L494.3 806.6L510.0 785.1L472.7 776.1Z"/>
<path fill="#00ffbc" d="M494.3 806.6L531.7 815.7L547.3 794.1L510.0 785.1Z"/>
<path fill="#00ffc6" d="M531.7 815.7L569.2 824.8L584.7 803.2L547.3 794.1Z"/>
<path fill="#00ffd1" d="M569.2 824.8L606.8 833.9L622.2 812.2L584.7 803.2Z"/>
<path fill="#00ffdb" d="M606.8 833.9L644.5 843.0L659.8 821.3L622.2 812.2Z"/>
<path fill="#00ffe5" d="M644.5 843.0L682.2 852.2L697.4 830.4L659.8 821.3Z"/>
<path fill="#00ffef" d="M682.2 852.2L720.0 861.4L735.1 839.5L697.4 830.4Z"/>
<path fill="#00fffa" d="M720.0 861.4L757.9 870.5L772.9 848.7L735.1 839.5Z"/>
<path fill="#00faff" d="M757.9 870.5L795.9 879.8L810.7 857.8L772.9 848.7Z"/>
<path fill="#00f0ff" d="M795.9 879.8L833.9 889.0L848.6 867.0L810.7 857.8Z"/>
<path fill="#00e6ff" d="M833.9 889.0L872.0 898.2L886.6 876.2L848.6 867.0Z"/>
<path fill="#00dbff" d="M872.0 898.2L910.2 907.5L924.7 885.4L886.6 876.2Z"/>
<path fill="#00d1ff" d="M910.2 907.5L948.5 916.8L962.9 894.6L924.7 885.4Z"/>
<path fill="#00c7ff" d="M948.5 916.8L986.8 926.1L1001.1 903.9L962.9 894.6Z"/>
<path fill="#00bdff" d="M986.8 926.1L1025.3 935.4L1039.4 913.2L1001.1 903.9Z"/>
<path fill="#00b3ff" d="M1025.3 935.4L1063.8 944.7L1077.8 922.4L1039.4 913.2Z"/>
<path fill="#00a8ff" d="M1063.8 944.7L1102.3 954.1L1116.3 931.8L1077.8 922.4Z"/>
<path fill="#009eff" d="M1102.3 954.1L1141.0 963.5L1154.8 941.1L1116.3 931.8Z"/>
<path fill="#0094ff" d="M1141.0 963.5L1179.7 972.9L1193.4 950.4L1154.8 941.1Z"/>
<path fill="#008aff" d="M1179.7 972.9L1218.6 982.3L1232.1 959.8L1193.4 950.4Z"/>
<path fill="#007fff" d="M1218.6 982.3L1257.4 991.7L1270.9 969.2L1232.1 959.8Z"/>
<path fill="#0075ff" d="M1257.4 991.7L1296.4 1001.2L1309.8 978.6L1270.9 969.2Z"/>
<path fill="#006bff" d="M1296.4 1001.2L1335.5 1010.7L1348.7 988.0L1309.8 978.6Z"/>
<path fill="#0061ff" d="M1335.5 1010.7L1374.6 1020.2L1387.7 997.4L1348.7 988.0Z"/>
<path fill="#0057ff" d="M1374.6 1020.2L1413.8 1029.7L1426.8 1006.9L1387.7 997.4Z"/>
<path fill="#004cff" d="M1413.8 1029.7L1453.1 1039.2L1466.0 1016.4L1426.8 1006.9Z"/>
<path fill="#0042ff" d="M1453.1 1039.2L1492.5 1048.8L1505.3 1025.9L1466.0 1016.4Z"/>
<path fill="#0038ff" d="M1492.5 1048.8L1531.9 1058.3L1544.6 1035.4L1505.3 1025.9Z"/>
<path fill="#002eff" d="M1531.9 1058.3L1571.5 1067.9L1584.0 1044.9L1544.6 1035.4Z"/>
<path fill="#0023ff" d="M1571.5 1067.9L1611.1 1077.5L1623.5 1054.5L1584.0 1044.9Z"/>
<path fill="#0019ff" d="M1611.1 1077.5L1650.8 1087.2L1663.1 1064.0L1623.5 1054.5Z"/>
<path fill="#000fff" d="M1650.8 1087.2L1690.6 1096.8L1702.7 1073.6L1663.1 1064.0Z"/>
<path fill="#0005ff" d="M1690.6 1096.8L1730.4 1106.5L1742.5 1083.3L1702.7 1073.6Z"/>
<path fill="#0000ff" d="M1730.4 1106.5L1770.4 1116.2L1782.3 1092.9L1742.5 1083.3Z"/>
<path fill="#0000ff" d="M1770.4 1116.2L1810.4 1125.9L1822.2 1102.5L1782.3 1092.9Z"/>
<path fill="#0000ff" d="M1810.4 1125.9L1850.5 1135.6L1862.2 1112.2L1822.2 1102.5Z"/>
<path fill="#00ff9c" d="M291.9 782.9L329.1 791.9L345.3 770.4L308.3 761.5Z"/>
<path fill="#00ffa6" d="M329.1 791.9L366.3 801.0L382.5 779.5L345.3 770.4Z"/>
<path fill="#00ffb0" d="M366.3 801.0L403.7 810.0L419.7 788.5L382.5 779.5Z"/>
<path fill="#00ffbb" d="M403.7 810.0L441.0 819.1L456.9 797.5L419.7 788.5Z"/>
<path fill="#00ffc5" d="M441.0 819.1L478.5 828.2L494.3 806.6L456.9 797.5Z"/>
<path fill="#00ffcf" d="M478.5 828.2L516.1 837.4L531.7 815.7L494.3 806.6Z"/>
<path fill="#00ffd9" d="M516.1 837.4L553.7 846.5L569.2 824.8L531.7 815.7Z"/>
<path fill="#00ffe4" d="M553.7 846.5L591.4 855.7L606.8 833.9L569.2 824.8Z"/>
<path fill="#00ffee" d="M591.4 855.7L629.1 864.9L644.5 843.0L606.8 833.9Z"/>
<path fill="#00fff8" d="M629.1 864.9L667.0 874.1L682.2 852.2L644.5 843.0Z"/>
<path fill="#00fcff" d="M667.0 874.1L704.9 883.3L720.0 861.4L682.2 852.2Z"/>
<path fill="#00f1ff" d="M704.9 883.3L742.9 892.6L757.9 870.5L720.0 861.4Z"/>
<path fill="#00e7ff" d="M742.9 892.6L781.0 901.8L795.9 879.8L757.9 870.5Z"/>
<path fill="#00ddff" d="M781.0 901.8L819.1 911.1L833.9 889.0L795.9 879.8Z"/>
<path fill="#00d3ff" d="M819.1 911.1L857.3 920.4L872.0 898.2L833.9 889.0Z"/>
<path fill="#00c8ff" d="M857.3 920.4L895.6 929.7L910.2 907.5L872.0 898.2Z"/>
<path fill="#00beff" d="M895.6 929.7L934.0 939.1L948.5 916.8L910.2 907.5Z"/>
<path fill="#00b4ff" d="M934.0 939.1L972.5 948.4L986.8 926.1L948.5 916.8Z"/>
<path fill="#00aaff" d="M972.5 948.4L1011.0 957.8L1025.3 935.4L986.8 926.1Z"/>
<path fill="#009fff" d="M1011.0 957.8L1049.6 967.2L1063.8 944.7L1025.3 935.4Z"/>
<path fill="#0095ff" d="M1049.6 967.2L1088.3 976.6L1102.3 954.1L1063.8 944.7Z"/>
<path fill="#008bff" d="M1088.3 976.6L1127.1 986.0L1141.0 963.5L1102.3 954.1Z"/>
<path fill="#0081ff" d="M1127.1 986.0L1165.9 995.5L1179.7 972.9L1141.0 963.5Z"/>
<path fill="#0076ff" d="M1165.9 995.5L1204.9 1005.0L1218.6 982.3L1179.7 972.9Z"/>
<path fill="#006cff" d="M1204.9 1005.0L1243.9 1014.5L1257.4 991.7L1218.6 982.3Z"/>
<path fill="#0062ff" d="M1243.9 1014.5L1283.0 1024.0L1296.4 1001.2L1257.4 991.7Z"/>
<path fill="#0058ff" d="M1283.0 1024.0L1322.1 1033.5L1335.5 1010.7L1296.4 1001.2Z"/>
<path fill="#004dff" d="M1322.1 1033.5L1361.4 1043.0L1374.6 1020.2L1335.5 1010.7Z"/>
<path fill="#0043ff" d="M1361.4 1043.0L1400.7 1052.6L1413.8 1029.7L1374.6 1020.2Z"/>
<path fill="#0039ff" d="M1400.7 1052.6L1440.1 1062.2L1453.1 1039.2L1413.8 1029.7Z"/>
<path fill="#002fff" d="M1440.1 1062.2L1479.6 1071.8L1492.5 1048.8L1453.1 1039.2Z"/>
<path fill="#0024ff" d="M1479.6 1071.8L1519.2 1081.4L1531.9 1058.3L1492.5 1048.8Z"/>
<path fill="#001aff" d="M1519.2 1081.4L1558.9 1091.1L1571.5 1067.9L1531.9 1058.3Z"/>
<path fill="#0010ff" d="M1558.9 1091.1L1598.6 1100.8L1611.1 1077.5L1571.5 1067.9Z"/>
<path fill="#0005ff" d="M1598.6 1100.8L1638.4 1110.4L1650.8 1087.2L1611.1 1077.5Z"/>
<path fill="#0000ff" d="M1638.4 1110.4L1678.3 1120.1L1690.6 1096.8L1650.8 1087.2Z"/>
<path fill="#0000ff" d="M1678.3 1120.1L1718.3 1129.9L1730.4 1106.5L1690.6 1096.8Z"/>
<path fill="#0000ff" d="M1718.3 1129.9L1758.4 1139.6L1770.4 1116.2L1730.4 1106.5Z"/>
<path fill="#0000ff" d="M1758.4 1139.6L1798.5 1149.4L1810.4 1125.9L1770.4 1116.2Z"/>
<path fill="#0000ff" d="M1798.5 1149.4L1838.7 1159.2L1850.5 1135.6L1810.4 1125.9Z"/>
<path fill="#00ffae" d="M275.5 804.4L312.8 813.5L329.1 791.9L291.9 782.9Z"/>
<path fill="#00ffb9" d="M312.8 813.5L350.1 822.6L366.3 801.0L329.1 791.9Z"/>
<path fill="#00ffc3" d="M350.1 822.6L387.5 831.7L403.7 810.0L366.3 801.0Z"/>
<path fill="#00ffcd" d="M387.5 831.7L425.0 840.9L441.0 819.1L403.7 810.0Z"/>
<path fill="#00ffd8" d="M425.0 840.9L462.6 850.0L478.5 828.2L441.0 819.1Z"/>
<path fill="#00ffe2" d="M462.6 850.0L500.3 859.2L516.1 837.4L478.5 828.2Z"/>
<path fill="#00ffec" d="M500.3 859.2L538.0 868.4L553.7 846.5L516.1 837.4Z"/>
<path fill="#00fff6" d="M538.0 868.4L575.8 877.7L591.4 855.7L553.7 846.5Z"/>
<path fill="#00fdff" d="M575.8 877.7L613.7 886.9L629.1 864.9L591.4 855.7Z"/>
<path fill="#00f3ff" d="M613.7 886.9L651.6 896.2L667.0 874.1L629.1 864.9Z"/>
<path fill="#00e9ff" d="M651.6 896.2L689.6 905.4L704.9 883.3L667.0 874.1Z"/>
<path fill="#00deff" d="M689.6 905.4L727.7 914.7L742.9 892.6L704.9 883.3Z"/>
<path fill="#00d4ff" d="M727.7 914.7L765.9 924.1L781.0 901.8L742.9 892.6Z"/>
<path fill="#00caff" d="M765.9 924.1L804.2 933.4L819.1 911.1L781.0 901.8Z"/>
<path fill="#00c0ff" d="M804.2 933.4L842.5 942.7L857.3 920.4L819.1 911.1Z"/>
<path fill="#00b5ff" d="M842.5 942.7L880.9 952.1L895.6 929.7L857.3 920.4Z"/>
<path fill="#00abff" d="M880.9 952.1L919.4 961.5L934.0 939.1L895.6 929.7Z"/>
<path fill="#00a1ff" d="M919.4 961.5L958.0 970.9L972.5 948.4L934.0 939.1Z"/>
<path fill="#0096ff" d="M958.0 970.9L996.7 980.3L1011.0 957.8L972.5 948.4Z"/>
<path fill="#008cff" d="M996.7 980.3L1035.4 989.8L1049.6 967.2L1011.0 957.8Z"/>
<path fill="#0082ff" d="M1035.4 989.8L1074.2 999.3L1088.3 976.6L1049.6 967.2Z"/>
<path fill="#0078ff" d="M1074.2 999.3L1113.1 1008.7L1127.1 986.0L1088.3 976.6Z"/>
<path fill="#006dff" d="M1113.1 1008.7L1152.0 1018.3L1165.9 995.5L1127.1 986.0Z"/>
<path fill="#0063ff" d="M1152.0 1018.3L1191.1 1027.8L1204.9 1005.0L1165.9 995.5Z"/>
<path fill="#0059ff" d="M1191.1 1027.8L1230.2 1037.3L1243.9 1014.5L1204.9 1005.0Z"/>
<path fill="#004eff" d="M1230.2 1037.3L1269.4 1046.9L1283.0 1024.0L1243.9 1014.5Z"/>
<path fill="#0044ff" d="M1269.4 1046.9L1308.7 1056.5L1322.1 1033.5L1283.0 1024.0Z"/>
<path fill="#003aff" d="M1308.7 1056.5L1348.1 1066.1L1361.4 1043.0L1322.1 1033.5Z"/>
<path fill="#0030ff" d="M1348.1 1066.1L1387.5 1075.7L1400.7 1052.6L1361.4 1043.0Z"/>
<path fill="#0025ff" d="M1387.5 1075.7L1427.1 1085.4L1440.1 1062.2L1400.7 1052.6Z"/>
<path fill="#001bff" d="M1427.1 1085.4L1466.7 1095.0L1479.6 1071.8L1440.1 1062.2Z"/>
<path fill="#0011ff" d="M1466.7 1095.0L1506.4 1104.7L1519.2 1081.4L1479.6 1071.8Z"/>
<path fill="#0006ff" d="M1506.4 1104.7L1546.1 1114.4L1558.9 1091.1L1519.2 1081.4Z"/>
<path fill="#0000ff" d="M1546.1 1114.4L1586.0 1124.1L1598.6 1100.8L1558.9 1091.1Z"/>
<path fill="#0000ff" d="M1586.0 1124.1L1625.9 1133.9L1638.4 1110.4L1598.6 1100.8Z"/>
<path fill="#0000ff" d="M1625.9 1133.9L1666.0 1143.6L1678.3 1120.1L1638.4 1110.4Z"/>
<path fill="#0000ff" d="M1666.0 1143.6L1706.1 1153.4L1718.3 1129.9L1678.3 1120.1Z"/>
<path fill="#0000ff" d="M1706.1 1153.4L1746.3 1163.2L1758.4 1139.6L1718.3 1129.9Z"/>
<path fill="#0000ff" d="M1746.3 1163.2L1786.5 1173.1L1798.5 1149.4L1758.4 1139.6Z"/>
<path fill="#0000ff" d="M1786.5 1173.1L1826.9 1182.9L1838.7 1159.2L1798.5 1149.4Z"/>
</g>
<line x1="229.0" y1="323.3" x2="313.0" y2="1242.0" stroke="#1c1c1c" stroke-width="3.2"/>
<g fill="#0a0a0a">
<ellipse cx="229.0" cy="323.3" rx="10" ry="7"/>
<ellipse cx="243.8" cy="497.2" rx="8" ry="6"/>
<ellipse cx="260.1" cy="675.3" rx="8" ry="6"/>
<ellipse cx="276.3" cy="850.0" rx="8" ry="6"/>
<ellipse cx="292.1" cy="1026.4" rx="8" ry="6"/>
<circle cx="313.0" cy="1242.0" r="6.6"/>
<circle cx="689.0" cy="1284.6" r="6.6"/>
<circle cx="1063.9" cy="1327.5" r="6.6"/>
<circle cx="1441.0" cy="1371.3" r="6.6"/>
<circle cx="1814.3" cy="1413.8" r="6.6"/>
<circle cx="1910.6" cy="1300.0" r="6.6"/>
<circle cx="2005.9" cy="1188.4" r="6.6"/>
<circle cx="2101.0" cy="1075.7" r="6.6"/>
<circle cx="2196.4" cy="961.0" r="6.6"/>
<circle cx="748.0" cy="80.5" r="4.8"/>
</g>
<g font-size="57.0" text-anchor="middle">
<text transform="translate(155.4 312.2) scale(1.022 1)" x="0" y="19.9">560</text>
<text transform="translate(166.7 495.8) scale(1.022 1)" x="0" y="19.9">430</text>
<text transform="translate(189.5 675.5) scale(1.022 1)" x="0" y="19.9">300</text>
<text transform="translate(204.5 849.6) scale(1.022 1)" x="0" y="19.9">170</text>
<text transform="translate(223.5 1030.0) scale(1.022 1)" x="0" y="19.9">40</text>
<text transform="translate(293.9 1283.5) scale(1.022 1)" x="0" y="19.9">360</text>
<text transform="translate(658.4 1329.9) scale(1.022 1)" x="0" y="19.9">285</text>
<text transform="translate(1035.9 1376.6) scale(1.022 1)" x="0" y="19.9">210</text>
<text transform="translate(1417.4 1421.2) scale(1.022 1)" x="0" y="19.9">135</text>
<text transform="translate(1764.2 1455.3) scale(1.022 1)" x="0" y="19.9">60</text>
<text transform="translate(1878.0 1444.3) scale(1.022 1)" x="0" y="19.9">90</text>
<text transform="translate(1973.0 1334.0) scale(1.022 1)" x="0" y="19.9">100</text>
<text transform="translate(2064.6 1208.0) scale(1.022 1)" x="0" y="19.9">110</text>
<text transform="translate(2165.4 1084.8) scale(1.022 1)" x="0" y="19.9">120</text>
<text transform="translate(2257.0 980.3) scale(1.022 1)" x="0" y="19.9">130</text>
</g>
<text font-size="65" transform="translate(64.5 930.5) rotate(-90)">Sugar yield (mg)</text>
<text font-size="62" transform="translate(663.5 1450.6) rotate(5.3) scale(1.057 1)">Pretreatment Time (min)</text>
<text font-size="62" transform="translate(2089.6 1378.1) rotate(-47.1) scale(1.05 1)">Pretreatment</text>
<text font-size="62" transform="translate(2107.8 1476.3) rotate(-47.1) scale(1.05 1)">Temperature (<tspan font-size="40" dy="-20">o</tspan><tspan dy="20">C)</tspan></text>
</svg></body></html>
